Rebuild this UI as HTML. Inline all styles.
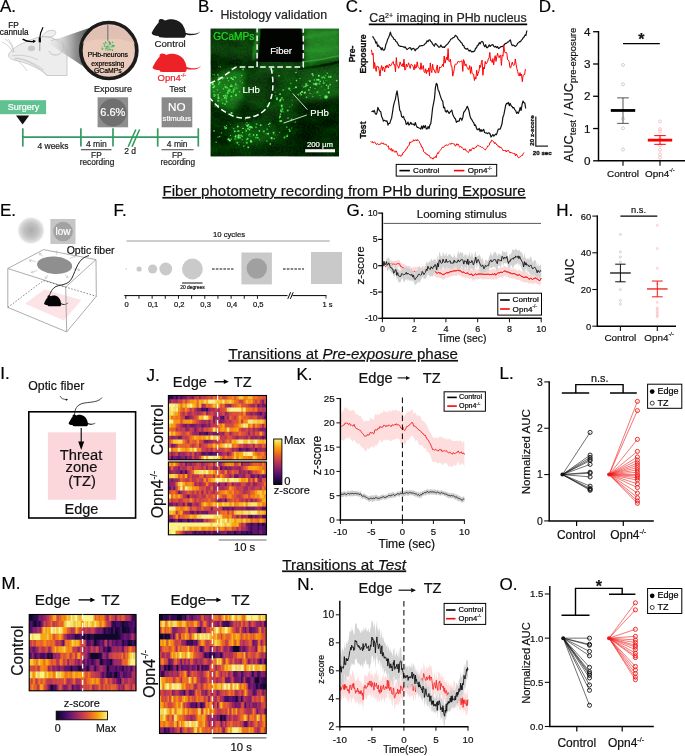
<!DOCTYPE html>
<html><head><meta charset="utf-8"><title>Figure</title>
<style>
html,body{margin:0;padding:0;background:#fff;}
body{width:685px;height:756px;overflow:hidden;}
svg{display:block;font-family:"Liberation Sans",Arial,sans-serif;}
</style></head><body>
<svg width="685" height="756" viewBox="0 0 685 756">
<rect width="685" height="756" fill="#ffffff"/>
<!-- panelA -->
<text x="0.00" y="11.80" font-size="17" stroke="#000" stroke-width="0.2">A.</text>
<defs><linearGradient id="cone" x1="0" y1="0" x2="1" y2="0"><stop offset="0" stop-color="#dcdcdc" stop-opacity="0"/><stop offset="0.3" stop-color="#c4c4c4" stop-opacity="0.7"/><stop offset="0.6" stop-color="#8e8e8e"/><stop offset="1" stop-color="#3c3c3c"/></linearGradient></defs>
<path d="M8.8,54 C12,48 24,42 33,39 C38,36.5 46,36 52,38 C58,40 63,44 67,50 L67,75.5 L47,75.5 C40,68 25,62 14,60 C10,59 8,57 8.8,54 Z" fill="#ededed" stroke="#c6c6c6" stroke-width="0.9" />
<path d="M42,36.5 C44,32 50,29.5 54,30.5 C57,31.5 56,35 52,37 Z" fill="#efefef" stroke="#c4c4c4" stroke-width="0.9" />
<path d="M51,41 C56,38 62,39 63.5,44 C65,50 60,56 54,55 C51,54.5 49.5,52.5 49,51" fill="none" stroke="#c0c0c0" stroke-width="0.9" />
<ellipse cx="31.4" cy="48.3" rx="3.5" ry="2.9" fill="#c8c8c8"/>
<path d="M13,53 C10,47 7,44 2,42" fill="none" stroke="#c6c6c6" stroke-width="0.8" />
<path d="M14,52 C13,46 11,42 8,39" fill="none" stroke="#c6c6c6" stroke-width="0.8" />
<path d="M14,52 C12,46 10,42 5,39" fill="none" stroke="#c6c6c6" stroke-width="0.8" />
<path d="M12,56 C20,54 30,56 38,60" fill="none" stroke="#c6c6c6" stroke-width="0.8" />
<path d="M14,58 C24,58 34,63 44,70" fill="none" stroke="#c6c6c6" stroke-width="0.8" />
<path d="M15,59 C20,62 24,66 27,71" fill="none" stroke="#c6c6c6" stroke-width="0.8" />
<path d="M16,58 C26,60 38,66 47,75" fill="none" stroke="#c6c6c6" stroke-width="0.8" />
<polygon points="47.0,42.5 95.0,26.0 95.0,74.0" fill="url(#cone)" />
<circle cx="108.80" cy="50.50" r="28.00" fill="#e9cabb" stroke="#1c1c1c" stroke-width="3.7" />
<path d="M82.5,44 C90,38 100,40 108,39 C118,38 128,40 135,44 A28,28 0 0 0 82.5,44 Z" fill="#dfc0b2" />
<line x1="107.80" y1="24.50" x2="107.80" y2="40.70" stroke="#7a7a7a" stroke-width="1.2" />
<circle cx="104.75" cy="46.38" r="0.55" fill="#2bb856" />
<circle cx="106.39" cy="46.89" r="0.55" fill="#2bb856" />
<circle cx="109.56" cy="42.26" r="0.55" fill="#2bb856" />
<circle cx="101.96" cy="48.90" r="0.55" fill="#2bb856" />
<circle cx="105.02" cy="43.72" r="0.55" fill="#2bb856" />
<circle cx="114.15" cy="45.74" r="0.55" fill="#2bb856" />
<circle cx="112.17" cy="45.80" r="0.55" fill="#2bb856" />
<circle cx="109.72" cy="43.00" r="0.55" fill="#2bb856" />
<circle cx="109.67" cy="49.17" r="0.55" fill="#2bb856" />
<circle cx="108.29" cy="48.07" r="0.55" fill="#2bb856" />
<circle cx="110.13" cy="42.25" r="0.55" fill="#2bb856" />
<circle cx="111.20" cy="46.78" r="0.55" fill="#2bb856" />
<circle cx="105.54" cy="41.97" r="0.55" fill="#2bb856" />
<circle cx="112.53" cy="45.77" r="0.55" fill="#2bb856" />
<circle cx="110.71" cy="49.26" r="0.55" fill="#2bb856" />
<circle cx="110.66" cy="49.62" r="0.55" fill="#2bb856" />
<circle cx="106.70" cy="48.59" r="0.55" fill="#2bb856" />
<circle cx="107.31" cy="49.75" r="0.55" fill="#2bb856" />
<circle cx="112.70" cy="42.54" r="0.55" fill="#2bb856" />
<circle cx="103.49" cy="43.57" r="0.55" fill="#2bb856" />
<circle cx="113.77" cy="45.45" r="0.55" fill="#2bb856" />
<circle cx="109.57" cy="44.29" r="0.55" fill="#2bb856" />
<circle cx="108.09" cy="45.02" r="0.55" fill="#2bb856" />
<circle cx="106.15" cy="46.73" r="0.55" fill="#2bb856" />
<circle cx="109.04" cy="49.48" r="0.55" fill="#2bb856" />
<circle cx="110.26" cy="49.69" r="0.55" fill="#2bb856" />
<circle cx="112.42" cy="50.22" r="0.55" fill="#2bb856" />
<circle cx="110.12" cy="43.10" r="0.55" fill="#2bb856" />
<circle cx="112.47" cy="50.00" r="0.55" fill="#2bb856" />
<circle cx="113.02" cy="46.59" r="0.55" fill="#2bb856" />
<circle cx="110.65" cy="43.52" r="0.55" fill="#2bb856" />
<circle cx="112.11" cy="46.63" r="0.55" fill="#2bb856" />
<circle cx="105.33" cy="42.25" r="0.55" fill="#2bb856" />
<circle cx="112.39" cy="50.21" r="0.55" fill="#2bb856" />
<circle cx="102.90" cy="48.59" r="0.55" fill="#2bb856" />
<circle cx="106.89" cy="43.00" r="0.55" fill="#2bb856" />
<circle cx="105.44" cy="48.31" r="0.55" fill="#2bb856" />
<circle cx="112.62" cy="42.08" r="0.55" fill="#2bb856" />
<circle cx="109.42" cy="42.09" r="0.55" fill="#2bb856" />
<circle cx="110.71" cy="44.55" r="0.55" fill="#2bb856" />
<circle cx="112.72" cy="50.13" r="0.55" fill="#2bb856" />
<circle cx="108.07" cy="50.29" r="0.55" fill="#2bb856" />
<circle cx="105.64" cy="42.36" r="0.55" fill="#2bb856" />
<circle cx="109.24" cy="41.97" r="0.55" fill="#2bb856" />
<circle cx="104.25" cy="45.21" r="0.55" fill="#2bb856" />
<circle cx="109.37" cy="43.04" r="0.55" fill="#2bb856" />
<circle cx="102.33" cy="49.16" r="0.55" fill="#2bb856" />
<circle cx="105.69" cy="49.94" r="0.55" fill="#2bb856" />
<circle cx="112.92" cy="44.95" r="0.55" fill="#2bb856" />
<circle cx="107.51" cy="46.17" r="0.55" fill="#2bb856" />
<circle cx="109.78" cy="46.82" r="0.55" fill="#2bb856" />
<circle cx="108.73" cy="47.03" r="0.55" fill="#2bb856" />
<circle cx="113.46" cy="46.06" r="0.55" fill="#2bb856" />
<circle cx="107.15" cy="47.89" r="0.55" fill="#2bb856" />
<circle cx="104.75" cy="44.29" r="0.55" fill="#2bb856" />
<circle cx="113.92" cy="46.18" r="0.55" fill="#2bb856" />
<circle cx="108.60" cy="41.80" r="0.55" fill="#2bb856" />
<circle cx="106.95" cy="46.69" r="0.55" fill="#2bb856" />
<circle cx="102.05" cy="47.00" r="0.55" fill="#2bb856" />
<circle cx="109.64" cy="42.22" r="0.55" fill="#2bb856" />
<text x="107.80" y="56.60" font-size="6.85" text-anchor="middle" stroke="#000" stroke-width="0.2">PHb-neurons</text>
<text x="107.80" y="65.60" font-size="6.85" text-anchor="middle" stroke="#000" stroke-width="0.2">expressing</text>
<text x="107.80" y="73.40" font-size="6.85" text-anchor="middle" stroke="#000" stroke-width="0.2">GCaMPs</text>
<path d="M43,27.2 C41,31 40,35 39.8,38" fill="none" stroke="#000" stroke-width="1.2" />
<line x1="39.80" y1="37.60" x2="39.80" y2="42.40" stroke="#000" stroke-width="2.2" />
<line x1="39.80" y1="42.00" x2="39.80" y2="51.00" stroke="#8a8a8a" stroke-width="0.8" />
<path d="M22.6,39.2 C26,41.3 30,42 34,41.5" fill="none" stroke="#000" stroke-width="1.4" />
<polygon points="36.0,41.1 33.0,39.8 33.4,43.0" fill="#000" />
<text x="13.40" y="27.60" font-size="8.2" text-anchor="middle" fill="#111" stroke="#111" stroke-width="0.2">FP</text>
<text x="14.20" y="34.60" font-size="8.2" text-anchor="middle" fill="#111" stroke="#111" stroke-width="0.2">cannula</text>
<path d="M0,14.1 C0.8,12.5 1.2,11.8 1.6,11.1 C2.4,9.6 3.2,8.2 4.2,6.9 C5.2,5.6 6.4,4.4 7.2,3.2 C7,2.2 7,1.6 7.4,1.1 C8,0.3 8.8,0 9.5,0 C10.6,0 11.6,0.3 12.2,0.7 C12.8,1.1 13.2,1.4 13.7,1.6 C15,0.9 16.5,0.4 18,0.3 C19.5,0.2 21,0.3 22.2,0.5 C24.2,0.9 26,1.6 27.5,2.6 C29.4,3.8 30.8,5.3 31.7,6.9 C32.8,8.7 33.5,10.5 33.8,12.2 C33.9,12.7 34,13.2 34,13.7 C35.7,14.4 37.4,14.8 39.1,14.8 C41,14.9 42.8,14.8 44.4,14.5 C46.2,14.1 47.7,13.3 48.9,12.2 C47.8,13.8 46.3,15 44.4,15.5 C42.4,16.1 40.2,16.3 38,16.2 C36.8,16.1 35.6,15.9 34.4,15.5 C34.2,16.7 33.6,17.8 32.8,18.7 L28.5,18.7 L13.7,18.7 C11.7,18.7 9.8,18.6 7.9,18.3 C7.6,17.8 7.2,17.3 6.9,16.9 C5,16.8 3.2,16.5 1.6,15.9 C0.8,15.5 0.2,14.9 0,14.1 Z" fill="#1c1c1c" transform="translate(151.6,19)"/>
<text x="170.10" y="46.60" font-size="9.7" text-anchor="middle" fill="#222" stroke="#222" stroke-width="0.2">Control</text>
<path d="M0,14.1 C0.8,12.5 1.2,11.8 1.6,11.1 C2.4,9.6 3.2,8.2 4.2,6.9 C5.2,5.6 6.4,4.4 7.2,3.2 C7,2.2 7,1.6 7.4,1.1 C8,0.3 8.8,0 9.5,0 C10.6,0 11.6,0.3 12.2,0.7 C12.8,1.1 13.2,1.4 13.7,1.6 C15,0.9 16.5,0.4 18,0.3 C19.5,0.2 21,0.3 22.2,0.5 C24.2,0.9 26,1.6 27.5,2.6 C29.4,3.8 30.8,5.3 31.7,6.9 C32.8,8.7 33.5,10.5 33.8,12.2 C33.9,12.7 34,13.2 34,13.7 C35.7,14.4 37.4,14.8 39.1,14.8 C41,14.9 42.8,14.8 44.4,14.5 C46.2,14.1 47.7,13.3 48.9,12.2 C47.8,13.8 46.3,15 44.4,15.5 C42.4,16.1 40.2,16.3 38,16.2 C36.8,16.1 35.6,15.9 34.4,15.5 C34.2,16.7 33.6,17.8 32.8,18.7 L28.5,18.7 L13.7,18.7 C11.7,18.7 9.8,18.6 7.9,18.3 C7.6,17.8 7.2,17.3 6.9,16.9 C5,16.8 3.2,16.5 1.6,15.9 C0.8,15.5 0.2,14.9 0,14.1 Z" fill="#ec2227" transform="translate(152.5,53.4)"/>
<text x="157.60" y="80.60" font-size="9.5" fill="#ec2227" stroke="#ec2227" stroke-width="0.2">Opn4<tspan dy="-4.0" font-size="5.5" fill-opacity="1">-/-</tspan></text>
<text x="113.00" y="92.20" font-size="9" text-anchor="middle" fill="#222" stroke="#222" stroke-width="0.2">Exposure</text>
<text x="177.50" y="92.20" font-size="9" text-anchor="middle" fill="#222" stroke="#222" stroke-width="0.2">Test</text>
<rect x="0.00" y="100.20" width="46.10" height="14.00" fill="#5fc290" />
<text x="23.40" y="109.90" font-size="9" text-anchor="middle" fill="#fff" stroke="#fff" stroke-width="0.2">Surgery</text>
<polygon points="16.0,115.4 29.2,115.4 22.6,124.4" fill="#111" />
<line x1="22.80" y1="137.20" x2="198.50" y2="137.20" stroke="#349a62" stroke-width="1.7" />
<line x1="22.80" y1="128.30" x2="22.80" y2="146.60" stroke="#349a62" stroke-width="1.7" />
<line x1="80.90" y1="128.30" x2="80.90" y2="146.60" stroke="#349a62" stroke-width="1.7" />
<line x1="113.00" y1="128.30" x2="113.00" y2="146.60" stroke="#349a62" stroke-width="1.7" />
<line x1="157.70" y1="128.30" x2="157.70" y2="146.60" stroke="#349a62" stroke-width="1.7" />
<line x1="198.30" y1="128.30" x2="198.30" y2="146.60" stroke="#349a62" stroke-width="1.7" />
<line x1="128.20" y1="146.80" x2="135.80" y2="129.50" stroke="#349a62" stroke-width="1.6" />
<line x1="132.00" y1="146.80" x2="139.60" y2="129.50" stroke="#349a62" stroke-width="1.6" />
<rect x="97.60" y="97.30" width="30.50" height="30.00" fill="#8e8e8e" />
<circle cx="112.85" cy="112.60" r="13.80" fill="#6f6f6f" />
<text x="112.85" y="115.70" font-size="11" text-anchor="middle" fill="#fff" stroke="#fff" stroke-width="0.2">6.6%</text>
<rect x="161.60" y="97.30" width="30.70" height="30.00" fill="#8a8a8a" />
<text x="176.80" y="111.40" font-size="11.7" text-anchor="middle" fill="#fff" stroke="#fff" stroke-width="0.2">NO</text>
<text x="176.80" y="120.70" font-size="7.8" text-anchor="middle" fill="#fff" stroke="#fff" stroke-width="0.2">stimulus</text>
<text x="53.00" y="148.60" font-size="8.5" text-anchor="middle" fill="#222" stroke="#222" stroke-width="0.2">4 weeks</text>
<text x="96.40" y="146.90" font-size="8.5" text-anchor="middle" fill="#222" stroke="#222" stroke-width="0.2">4 min</text>
<line x1="80.90" y1="149.70" x2="111.50" y2="149.70" stroke="#4a4a4a" stroke-width="1.1" />
<text x="96.40" y="158.00" font-size="8.3" text-anchor="middle" fill="#222" stroke="#222" stroke-width="0.2">FP</text>
<text x="97.00" y="165.20" font-size="8.3" text-anchor="middle" fill="#222" stroke="#222" stroke-width="0.2">recording</text>
<text x="130.20" y="153.80" font-size="8.5" text-anchor="middle" fill="#222" stroke="#222" stroke-width="0.2">2 d</text>
<text x="177.20" y="146.90" font-size="8.5" text-anchor="middle" fill="#222" stroke="#222" stroke-width="0.2">4 min</text>
<line x1="161.50" y1="149.70" x2="193.60" y2="149.70" stroke="#4a4a4a" stroke-width="1.1" />
<text x="177.20" y="158.00" font-size="8.3" text-anchor="middle" fill="#222" stroke="#222" stroke-width="0.2">FP</text>
<text x="177.80" y="165.20" font-size="8.3" text-anchor="middle" fill="#222" stroke="#222" stroke-width="0.2">recording</text>
<!-- panelB -->
<text x="198.00" y="11.80" font-size="17" stroke="#000" stroke-width="0.2">B.</text>
<text x="220.40" y="18.70" font-size="12.4" fill="#222" stroke="#222" stroke-width="0.2">Histology validation</text>
<defs><filter id="tex" color-interpolation-filters="sRGB" x="0" y="0" width="100%" height="100%"><feTurbulence type="fractalNoise" baseFrequency="0.55" numOctaves="2" seed="4" result="n"/><feColorMatrix in="n" type="matrix" values="0 0 0 0 0  1.1 0 0 0 -0.38  0 0 0 0 0  0 0 0 0 1"/></filter><filter id="tex2" color-interpolation-filters="sRGB" x="0" y="0" width="100%" height="100%"><feTurbulence type="fractalNoise" baseFrequency="0.05 0.09" numOctaves="3" seed="9" result="n"/><feColorMatrix in="n" type="matrix" values="0 0 0 0 0  1.3 0 0 0 -0.45  0 0 0 0 0  0 0 0 0 1"/></filter><filter id="b6"><feGaussianBlur stdDeviation="6"/></filter><filter id="b3"><feGaussianBlur stdDeviation="3"/></filter><filter id="b05"><feGaussianBlur stdDeviation="0.45"/></filter><clipPath id="hc"><rect x="210.5" y="28.5" width="128.5" height="128"/></clipPath></defs>
<g clip-path="url(#hc)">
<rect x="210.50" y="28.50" width="128.50" height="128.00" fill="#041904" />
<filter id="b4"><feGaussianBlur stdDeviation="3.5"/></filter><filter id="b2"><feGaussianBlur stdDeviation="1.8"/></filter>
<polygon points="304.0,26.0 342.0,26.0 342.0,60.0 304.0,66.0" fill="#267e26" opacity="0.95" filter="url(#b4)"/>
<polygon points="208.0,26.0 258.0,26.0 258.0,60.0 236.0,62.0 208.0,52.0" fill="#0b320b" opacity="0.9" filter="url(#b4)"/>
<polygon points="258.0,64.0 304.0,64.0 304.0,74.0 258.0,76.0" fill="#174f17" opacity="0.9" filter="url(#b4)"/>
<polygon points="208.0,84.0 222.0,73.0 236.0,69.0 246.0,72.0 244.0,98.0 234.0,110.0 220.0,106.0 208.0,96.0" fill="#1e741e" opacity="0.95" filter="url(#b4)"/>
<polygon points="250.0,72.0 270.0,70.0 271.0,95.0 262.0,108.0 250.0,112.0 246.0,95.0" fill="#0c330c" opacity="0.9" filter="url(#b4)"/>
<polygon points="274.0,72.0 300.0,72.0 298.0,118.0 282.0,126.0 274.0,110.0" fill="#0e3a0e" opacity="0.9" filter="url(#b4)"/>
<polygon points="300.0,70.0 342.0,64.0 342.0,98.0 320.0,102.0 300.0,100.0" fill="#155215" opacity="0.95" filter="url(#b4)"/>
<polygon points="226.0,126.0 246.0,121.0 272.0,122.0 280.0,130.0 276.0,142.0 246.0,146.0 226.0,140.0" fill="#114611" opacity="0.95" filter="url(#b4)"/>
<polygon points="236.0,118.0 262.0,112.0 274.0,100.0 280.0,118.0 262.0,124.0" fill="#0c300c" opacity="0.8" filter="url(#b4)"/>
<polygon points="296.0,108.0 342.0,100.0 342.0,160.0 290.0,160.0" fill="#020e02" opacity="0.95" filter="url(#b4)"/>
<polygon points="208.0,118.0 232.0,126.0 232.0,160.0 208.0,160.0" fill="#031203" opacity="0.85" filter="url(#b4)"/>
<polygon points="208.0,26.0 258.0,26.0 258.0,40.0 208.0,44.0" fill="#0a2c0a" opacity="0.6" filter="url(#b4)"/>
<path d="M302,62 C312,61 328,58.5 342,55" fill="none" stroke="#36a636" stroke-width="1.6" opacity="0.75" filter="url(#b05)"/>
<path d="M298,69 C312,67.5 328,65 342,61.2" fill="none" stroke="#031003" stroke-width="2.4" opacity="0.85" filter="url(#b05)"/>
<path d="M303,38 C314,36 328,33 342,32" fill="none" stroke="#34a034" stroke-width="2" opacity="0.6" filter="url(#b2)"/>
<path d="M304,50 C315,52 330,50 342,46" fill="none" stroke="#2c8c2c" stroke-width="6" opacity="0.5" filter="url(#b2)"/>
<path d="M259,28 C257,40 255,50 253,60" fill="none" stroke="#2a9a2a" stroke-width="3.5" opacity="0.75" filter="url(#b2)"/>
<path d="M208,62 C222,66 232,64 240,60" fill="none" stroke="#031203" stroke-width="4" opacity="0.8" filter="url(#b2)"/>
<path d="M214,112 C228,122 246,124 262,116" fill="none" stroke="#031203" stroke-width="4" opacity="0.7" filter="url(#b2)"/>
<rect x="210.5" y="28.5" width="128.5" height="128" filter="url(#tex2)" opacity="0.2" style="mix-blend-mode:screen"/>
<rect x="210.5" y="28.5" width="128.5" height="128" filter="url(#tex)" opacity="0.22" style="mix-blend-mode:screen"/>
<g filter="url(#b05)">
<circle cx="214.25" cy="86.72" r="1.10" fill="#35c235" />
<circle cx="207.99" cy="88.22" r="0.58" fill="#35c235" />
<circle cx="214.33" cy="74.69" r="0.52" fill="#6cf46c" />
<circle cx="233.51" cy="90.96" r="1.07" fill="#4fe84f" />
<circle cx="218.04" cy="79.92" r="0.77" fill="#3cd63c" />
<circle cx="213.03" cy="74.50" r="0.49" fill="#4fe84f" />
<circle cx="228.62" cy="88.99" r="0.47" fill="#35c235" />
<circle cx="220.08" cy="92.54" r="0.59" fill="#3cd63c" />
<circle cx="218.81" cy="77.46" r="0.91" fill="#35c235" />
<circle cx="220.48" cy="77.92" r="0.84" fill="#4fe84f" />
<circle cx="223.81" cy="77.95" r="0.61" fill="#6cf46c" />
<circle cx="238.14" cy="85.72" r="0.53" fill="#4fe84f" />
<circle cx="231.41" cy="78.15" r="1.12" fill="#4fe84f" />
<circle cx="230.99" cy="100.04" r="0.49" fill="#35c235" />
<circle cx="235.59" cy="83.11" r="0.50" fill="#3cd63c" />
<circle cx="227.36" cy="78.38" r="0.51" fill="#6cf46c" />
<circle cx="235.82" cy="84.70" r="1.10" fill="#3cd63c" />
<circle cx="226.10" cy="87.32" r="0.49" fill="#35c235" />
<circle cx="231.39" cy="92.28" r="0.76" fill="#3cd63c" />
<circle cx="242.38" cy="82.86" r="0.74" fill="#35c235" />
<circle cx="233.46" cy="89.03" r="0.60" fill="#6cf46c" />
<circle cx="243.15" cy="69.29" r="0.86" fill="#4fe84f" />
<circle cx="228.35" cy="90.99" r="1.05" fill="#4fe84f" />
<circle cx="231.21" cy="85.06" r="0.76" fill="#4fe84f" />
<circle cx="227.22" cy="77.63" r="0.66" fill="#4fe84f" />
<circle cx="231.87" cy="86.22" r="0.90" fill="#4fe84f" />
<circle cx="218.56" cy="79.87" r="0.77" fill="#35c235" />
<circle cx="228.57" cy="80.62" r="0.72" fill="#3cd63c" />
<circle cx="223.42" cy="88.81" r="0.88" fill="#3cd63c" />
<circle cx="233.35" cy="92.51" r="0.84" fill="#35c235" />
<circle cx="235.64" cy="77.39" r="0.75" fill="#4fe84f" />
<circle cx="234.91" cy="89.46" r="0.63" fill="#35c235" />
<circle cx="225.22" cy="97.40" r="0.87" fill="#6cf46c" />
<circle cx="204.08" cy="81.92" r="1.13" fill="#3cd63c" />
<circle cx="227.66" cy="93.13" r="1.05" fill="#4fe84f" />
<circle cx="221.95" cy="99.79" r="0.59" fill="#4fe84f" />
<circle cx="234.97" cy="87.12" r="0.62" fill="#4fe84f" />
<circle cx="230.12" cy="90.18" r="0.85" fill="#3cd63c" />
<circle cx="230.39" cy="86.15" r="0.77" fill="#6cf46c" />
<circle cx="217.88" cy="74.80" r="0.86" fill="#3cd63c" />
<circle cx="207.61" cy="75.26" r="0.78" fill="#6cf46c" />
<circle cx="218.53" cy="66.40" r="0.46" fill="#4fe84f" />
<circle cx="210.55" cy="85.30" r="0.67" fill="#4fe84f" />
<circle cx="236.74" cy="88.12" r="0.97" fill="#3cd63c" />
<circle cx="231.72" cy="68.60" r="0.70" fill="#35c235" />
<circle cx="241.78" cy="75.50" r="0.74" fill="#4fe84f" />
<circle cx="234.19" cy="76.90" r="0.89" fill="#35c235" />
<circle cx="224.90" cy="84.78" r="0.50" fill="#4fe84f" />
<circle cx="206.54" cy="66.50" r="1.07" fill="#6cf46c" />
<circle cx="214.04" cy="91.57" r="0.86" fill="#35c235" />
<circle cx="214.34" cy="86.09" r="0.81" fill="#4fe84f" />
<circle cx="224.48" cy="86.87" r="0.47" fill="#4fe84f" />
<circle cx="212.75" cy="84.17" r="1.09" fill="#6cf46c" />
<circle cx="233.32" cy="79.82" r="0.55" fill="#3cd63c" />
<circle cx="210.03" cy="82.61" r="0.69" fill="#35c235" />
<circle cx="218.86" cy="84.06" r="0.73" fill="#6cf46c" />
<circle cx="229.24" cy="91.25" r="1.01" fill="#3cd63c" />
<circle cx="232.90" cy="79.15" r="0.86" fill="#6cf46c" />
<circle cx="227.29" cy="87.75" r="0.70" fill="#4fe84f" />
<circle cx="220.33" cy="66.90" r="0.64" fill="#3cd63c" />
<circle cx="234.23" cy="89.29" r="1.10" fill="#35c235" />
<circle cx="217.40" cy="89.87" r="0.92" fill="#35c235" />
<circle cx="218.29" cy="96.23" r="0.64" fill="#4fe84f" />
<circle cx="222.60" cy="78.74" r="0.70" fill="#4fe84f" />
<circle cx="219.81" cy="78.32" r="0.58" fill="#6cf46c" />
<circle cx="226.42" cy="87.96" r="0.48" fill="#4fe84f" />
<circle cx="213.22" cy="87.35" r="0.91" fill="#6cf46c" />
<circle cx="240.09" cy="81.18" r="0.59" fill="#35c235" />
<circle cx="225.42" cy="95.39" r="0.98" fill="#4fe84f" />
<circle cx="229.30" cy="89.18" r="0.69" fill="#3cd63c" />
<circle cx="217.99" cy="105.91" r="1.08" fill="#4fe84f" />
<circle cx="215.13" cy="106.11" r="0.72" fill="#35c235" />
<circle cx="218.34" cy="100.90" r="1.09" fill="#35c235" />
<circle cx="218.04" cy="94.76" r="0.80" fill="#6cf46c" />
<circle cx="217.82" cy="100.36" r="0.59" fill="#4fe84f" />
<circle cx="231.53" cy="113.04" r="1.14" fill="#6cf46c" />
<circle cx="215.61" cy="95.07" r="0.67" fill="#4fe84f" />
<circle cx="226.26" cy="100.44" r="0.76" fill="#35c235" />
<circle cx="228.95" cy="89.73" r="0.47" fill="#4fe84f" />
<circle cx="226.26" cy="98.83" r="0.82" fill="#3cd63c" />
<circle cx="198.57" cy="103.51" r="1.08" fill="#35c235" />
<circle cx="235.90" cy="95.20" r="1.11" fill="#4fe84f" />
<circle cx="228.38" cy="90.26" r="0.84" fill="#3cd63c" />
<circle cx="214.27" cy="96.02" r="0.84" fill="#6cf46c" />
<circle cx="219.50" cy="82.23" r="1.06" fill="#3cd63c" />
<circle cx="226.67" cy="101.74" r="0.83" fill="#6cf46c" />
<circle cx="223.68" cy="95.86" r="0.83" fill="#4fe84f" />
<circle cx="226.65" cy="96.95" r="1.13" fill="#35c235" />
<circle cx="207.11" cy="92.07" r="0.54" fill="#4fe84f" />
<circle cx="227.04" cy="95.52" r="0.83" fill="#35c235" />
<circle cx="239.36" cy="91.83" r="0.73" fill="#3cd63c" />
<circle cx="224.30" cy="98.63" r="0.75" fill="#35c235" />
<circle cx="224.59" cy="97.46" r="0.74" fill="#4fe84f" />
<circle cx="231.38" cy="96.28" r="1.00" fill="#4fe84f" />
<circle cx="232.08" cy="98.93" r="0.46" fill="#6cf46c" />
<circle cx="225.05" cy="104.07" r="0.88" fill="#4fe84f" />
<circle cx="218.49" cy="98.02" r="1.05" fill="#6cf46c" />
<circle cx="225.74" cy="87.04" r="1.07" fill="#4fe84f" />
<circle cx="222.72" cy="103.23" r="0.82" fill="#3cd63c" />
<circle cx="214.03" cy="94.58" r="0.82" fill="#3cd63c" />
<circle cx="214.07" cy="130.83" r="0.88" fill="#3cd63c" />
<circle cx="246.79" cy="142.80" r="1.02" fill="#3cd63c" />
<circle cx="238.54" cy="137.78" r="1.10" fill="#3cd63c" />
<circle cx="245.82" cy="129.12" r="0.52" fill="#3cd63c" />
<circle cx="248.51" cy="134.91" r="0.72" fill="#35c235" />
<circle cx="252.06" cy="127.54" r="1.00" fill="#3cd63c" />
<circle cx="250.69" cy="141.04" r="1.01" fill="#4fe84f" />
<circle cx="251.17" cy="141.66" r="1.09" fill="#6cf46c" />
<circle cx="257.86" cy="137.72" r="0.98" fill="#3cd63c" />
<circle cx="249.83" cy="126.49" r="0.47" fill="#35c235" />
<circle cx="250.03" cy="136.05" r="0.59" fill="#3cd63c" />
<circle cx="279.62" cy="132.16" r="0.52" fill="#4fe84f" />
<circle cx="259.66" cy="139.78" r="0.50" fill="#4fe84f" />
<circle cx="235.88" cy="138.96" r="0.81" fill="#35c235" />
<circle cx="247.74" cy="138.62" r="0.89" fill="#4fe84f" />
<circle cx="249.51" cy="129.85" r="0.77" fill="#6cf46c" />
<circle cx="235.49" cy="135.22" r="0.57" fill="#4fe84f" />
<circle cx="241.07" cy="135.26" r="1.04" fill="#35c235" />
<circle cx="234.80" cy="131.34" r="0.86" fill="#6cf46c" />
<circle cx="248.07" cy="128.63" r="1.09" fill="#3cd63c" />
<circle cx="250.29" cy="127.38" r="1.08" fill="#6cf46c" />
<circle cx="246.88" cy="122.85" r="0.73" fill="#3cd63c" />
<circle cx="256.89" cy="135.35" r="0.78" fill="#4fe84f" />
<circle cx="280.34" cy="121.15" r="1.08" fill="#4fe84f" />
<circle cx="248.21" cy="147.35" r="0.92" fill="#6cf46c" />
<circle cx="247.37" cy="138.99" r="0.58" fill="#4fe84f" />
<circle cx="192.86" cy="149.36" r="0.90" fill="#4fe84f" />
<circle cx="247.22" cy="116.25" r="0.47" fill="#4fe84f" />
<circle cx="243.15" cy="128.39" r="0.73" fill="#4fe84f" />
<circle cx="245.60" cy="124.35" r="0.46" fill="#6cf46c" />
<circle cx="243.81" cy="146.04" r="0.84" fill="#35c235" />
<circle cx="263.78" cy="131.41" r="1.15" fill="#35c235" />
<circle cx="246.27" cy="130.78" r="0.87" fill="#4fe84f" />
<circle cx="216.14" cy="142.28" r="0.72" fill="#3cd63c" />
<circle cx="256.01" cy="127.10" r="0.87" fill="#35c235" />
<circle cx="259.35" cy="130.89" r="0.82" fill="#6cf46c" />
<circle cx="235.50" cy="136.68" r="0.91" fill="#6cf46c" />
<circle cx="230.62" cy="124.47" r="0.47" fill="#3cd63c" />
<circle cx="225.05" cy="128.64" r="0.74" fill="#35c235" />
<circle cx="256.83" cy="134.70" r="0.73" fill="#6cf46c" />
<circle cx="274.34" cy="138.81" r="0.75" fill="#35c235" />
<circle cx="243.85" cy="143.07" r="0.48" fill="#4fe84f" />
<circle cx="267.07" cy="129.31" r="0.78" fill="#3cd63c" />
<circle cx="237.86" cy="131.20" r="0.89" fill="#35c235" />
<circle cx="266.87" cy="141.05" r="0.70" fill="#3cd63c" />
<circle cx="255.98" cy="137.57" r="0.92" fill="#35c235" />
<circle cx="226.06" cy="127.92" r="0.93" fill="#6cf46c" />
<circle cx="247.35" cy="125.73" r="1.15" fill="#6cf46c" />
<circle cx="242.86" cy="128.59" r="0.53" fill="#6cf46c" />
<circle cx="248.67" cy="124.79" r="0.70" fill="#6cf46c" />
<circle cx="224.66" cy="126.86" r="0.94" fill="#3cd63c" />
<circle cx="226.51" cy="125.55" r="0.58" fill="#3cd63c" />
<circle cx="221.31" cy="132.88" r="0.59" fill="#4fe84f" />
<circle cx="242.51" cy="132.40" r="0.63" fill="#4fe84f" />
<circle cx="238.82" cy="131.05" r="0.83" fill="#4fe84f" />
<circle cx="245.25" cy="119.75" r="0.56" fill="#3cd63c" />
<circle cx="233.75" cy="128.75" r="0.78" fill="#3cd63c" />
<circle cx="234.41" cy="138.96" r="0.54" fill="#4fe84f" />
<circle cx="249.48" cy="126.82" r="1.03" fill="#3cd63c" />
<circle cx="219.69" cy="136.41" r="0.72" fill="#3cd63c" />
<circle cx="228.56" cy="139.41" r="1.14" fill="#6cf46c" />
<circle cx="237.31" cy="142.79" r="1.03" fill="#3cd63c" />
<circle cx="230.54" cy="135.53" r="0.52" fill="#6cf46c" />
<circle cx="249.72" cy="134.18" r="0.84" fill="#35c235" />
<circle cx="250.94" cy="126.86" r="1.03" fill="#4fe84f" />
<circle cx="253.59" cy="134.91" r="0.91" fill="#4fe84f" />
<circle cx="237.84" cy="126.40" r="0.98" fill="#6cf46c" />
<circle cx="242.22" cy="136.26" r="0.70" fill="#6cf46c" />
<circle cx="238.79" cy="135.23" r="0.95" fill="#6cf46c" />
<circle cx="217.99" cy="137.11" r="0.66" fill="#6cf46c" />
<circle cx="270.26" cy="143.92" r="0.96" fill="#3cd63c" />
<circle cx="275.78" cy="135.12" r="0.47" fill="#35c235" />
<circle cx="260.63" cy="125.11" r="0.97" fill="#6cf46c" />
<circle cx="269.75" cy="123.56" r="1.04" fill="#3cd63c" />
<circle cx="271.60" cy="138.16" r="1.07" fill="#6cf46c" />
<circle cx="269.29" cy="126.47" r="0.49" fill="#3cd63c" />
<circle cx="256.60" cy="124.21" r="0.91" fill="#35c235" />
<circle cx="273.56" cy="132.66" r="1.00" fill="#4fe84f" />
<circle cx="266.06" cy="133.72" r="0.52" fill="#6cf46c" />
<circle cx="273.87" cy="133.89" r="0.55" fill="#35c235" />
<circle cx="268.10" cy="133.81" r="0.99" fill="#6cf46c" />
<circle cx="268.44" cy="124.61" r="0.69" fill="#6cf46c" />
<circle cx="296.47" cy="80.58" r="0.83" fill="#4fe84f" />
<circle cx="295.99" cy="72.56" r="0.74" fill="#6cf46c" />
<circle cx="322.10" cy="77.62" r="1.03" fill="#35c235" />
<circle cx="326.53" cy="85.30" r="0.82" fill="#4fe84f" />
<circle cx="310.26" cy="80.87" r="0.74" fill="#3cd63c" />
<circle cx="305.25" cy="92.28" r="0.89" fill="#3cd63c" />
<circle cx="298.33" cy="94.45" r="0.82" fill="#6cf46c" />
<circle cx="310.35" cy="87.52" r="0.67" fill="#4fe84f" />
<circle cx="302.01" cy="91.95" r="1.09" fill="#4fe84f" />
<circle cx="305.06" cy="86.66" r="0.79" fill="#4fe84f" />
<circle cx="301.04" cy="92.41" r="0.70" fill="#3cd63c" />
<circle cx="290.74" cy="83.22" r="0.81" fill="#35c235" />
<circle cx="310.03" cy="93.37" r="0.57" fill="#6cf46c" />
<circle cx="278.97" cy="75.72" r="0.84" fill="#6cf46c" />
<circle cx="289.24" cy="88.70" r="1.12" fill="#4fe84f" />
<circle cx="294.04" cy="88.55" r="0.48" fill="#3cd63c" />
<circle cx="309.88" cy="81.27" r="0.82" fill="#6cf46c" />
<circle cx="306.26" cy="85.58" r="1.10" fill="#4fe84f" />
<circle cx="328.80" cy="76.88" r="0.77" fill="#3cd63c" />
<circle cx="300.13" cy="78.43" r="0.56" fill="#3cd63c" />
<circle cx="306.20" cy="84.01" r="1.09" fill="#3cd63c" />
<circle cx="272.90" cy="70.77" r="0.64" fill="#4fe84f" />
<circle cx="320.64" cy="98.02" r="0.45" fill="#3cd63c" />
<circle cx="307.83" cy="85.31" r="0.64" fill="#4fe84f" />
<circle cx="323.46" cy="80.92" r="0.51" fill="#6cf46c" />
<circle cx="314.99" cy="88.55" r="0.59" fill="#4fe84f" />
<circle cx="308.30" cy="80.39" r="0.48" fill="#35c235" />
<circle cx="295.98" cy="87.32" r="1.03" fill="#6cf46c" />
<circle cx="298.58" cy="94.72" r="0.84" fill="#35c235" />
<circle cx="302.11" cy="85.67" r="0.50" fill="#3cd63c" />
<circle cx="317.30" cy="92.45" r="0.77" fill="#4fe84f" />
<circle cx="303.60" cy="87.07" r="0.71" fill="#35c235" />
<circle cx="306.58" cy="97.25" r="0.77" fill="#4fe84f" />
<circle cx="323.61" cy="77.08" r="0.95" fill="#3cd63c" />
<circle cx="301.20" cy="94.77" r="0.83" fill="#6cf46c" />
<circle cx="330.08" cy="84.57" r="0.84" fill="#4fe84f" />
<circle cx="304.58" cy="92.81" r="0.96" fill="#6cf46c" />
<circle cx="300.43" cy="93.36" r="0.78" fill="#6cf46c" />
<circle cx="290.53" cy="90.32" r="0.52" fill="#4fe84f" />
<circle cx="319.92" cy="95.47" r="0.58" fill="#3cd63c" />
<circle cx="308.92" cy="89.90" r="0.86" fill="#4fe84f" />
<circle cx="323.74" cy="83.09" r="1.14" fill="#35c235" />
<circle cx="319.28" cy="83.55" r="1.09" fill="#35c235" />
<circle cx="326.12" cy="80.25" r="0.59" fill="#3cd63c" />
<circle cx="325.58" cy="75.59" r="0.68" fill="#35c235" />
<circle cx="312.31" cy="73.90" r="0.88" fill="#6cf46c" />
<circle cx="336.74" cy="80.56" r="0.91" fill="#4fe84f" />
<circle cx="321.63" cy="86.65" r="0.66" fill="#35c235" />
<circle cx="328.42" cy="86.34" r="0.81" fill="#6cf46c" />
<circle cx="327.26" cy="73.18" r="0.56" fill="#6cf46c" />
<circle cx="314.52" cy="80.00" r="0.80" fill="#3cd63c" />
<circle cx="317.01" cy="79.85" r="1.10" fill="#3cd63c" />
<circle cx="320.22" cy="81.31" r="0.91" fill="#4fe84f" />
<circle cx="328.28" cy="88.20" r="0.74" fill="#6cf46c" />
<circle cx="312.78" cy="96.55" r="0.70" fill="#35c235" />
<circle cx="328.84" cy="76.70" r="0.96" fill="#3cd63c" />
<circle cx="330.66" cy="76.89" r="0.84" fill="#6cf46c" />
<circle cx="328.81" cy="92.39" r="1.08" fill="#6cf46c" />
<circle cx="318.55" cy="79.81" r="1.03" fill="#6cf46c" />
<circle cx="318.83" cy="75.72" r="0.98" fill="#6cf46c" />
<circle cx="324.62" cy="77.97" r="0.83" fill="#4fe84f" />
<circle cx="313.81" cy="84.07" r="1.00" fill="#3cd63c" />
<circle cx="317.56" cy="92.04" r="0.97" fill="#35c235" />
<circle cx="313.00" cy="75.18" r="0.98" fill="#3cd63c" />
<circle cx="324.94" cy="89.69" r="0.55" fill="#35c235" />
<circle cx="328.31" cy="86.97" r="0.69" fill="#3cd63c" />
<circle cx="238.93" cy="144.87" r="0.68" fill="#4fe84f" />
<circle cx="237.00" cy="135.80" r="0.73" fill="#35c235" />
<circle cx="231.25" cy="139.01" r="0.74" fill="#35c235" />
<circle cx="240.12" cy="137.54" r="1.15" fill="#35c235" />
<circle cx="242.18" cy="139.66" r="0.53" fill="#6cf46c" />
<circle cx="229.91" cy="140.50" r="1.08" fill="#6cf46c" />
<circle cx="246.72" cy="139.62" r="0.88" fill="#35c235" />
<circle cx="238.54" cy="136.98" r="0.98" fill="#6cf46c" />
<circle cx="292.18" cy="104.78" r="0.62" fill="#35c235" />
<circle cx="284.53" cy="137.48" r="1.13" fill="#35c235" />
<circle cx="281.76" cy="106.96" r="0.62" fill="#6cf46c" />
<circle cx="276.92" cy="99.00" r="1.07" fill="#6cf46c" />
<circle cx="287.78" cy="110.53" r="1.01" fill="#3cd63c" />
<circle cx="280.66" cy="109.89" r="0.54" fill="#4fe84f" />
<circle cx="291.80" cy="127.88" r="0.54" fill="#35c235" />
<circle cx="288.04" cy="118.03" r="0.66" fill="#6cf46c" />
<circle cx="286.74" cy="127.13" r="0.77" fill="#35c235" />
<circle cx="289.23" cy="129.43" r="0.61" fill="#6cf46c" />
<circle cx="295.33" cy="121.99" r="0.67" fill="#35c235" />
<circle cx="289.81" cy="131.02" r="0.99" fill="#3cd63c" />
<circle cx="287.13" cy="136.17" r="0.93" fill="#4fe84f" />
<circle cx="287.46" cy="135.25" r="0.70" fill="#35c235" />
<circle cx="291.63" cy="119.37" r="0.94" fill="#3cd63c" />
<circle cx="280.12" cy="116.54" r="1.11" fill="#4fe84f" />
<circle cx="281.29" cy="111.36" r="1.02" fill="#6cf46c" />
<circle cx="289.83" cy="106.91" r="0.54" fill="#35c235" />
<circle cx="281.17" cy="120.97" r="1.05" fill="#4fe84f" />
<circle cx="283.12" cy="111.84" r="0.58" fill="#3cd63c" />
<circle cx="279.48" cy="117.93" r="0.64" fill="#4fe84f" />
<circle cx="280.71" cy="114.29" r="0.66" fill="#3cd63c" />
<circle cx="280.08" cy="94.14" r="0.90" fill="#4fe84f" />
<circle cx="280.14" cy="100.78" r="1.09" fill="#4fe84f" />
<circle cx="280.57" cy="99.51" r="0.87" fill="#6cf46c" />
<circle cx="277.10" cy="97.96" r="0.85" fill="#3cd63c" />
<circle cx="280.23" cy="113.76" r="0.62" fill="#6cf46c" />
<circle cx="281.88" cy="97.98" r="1.00" fill="#3cd63c" />
<circle cx="283.25" cy="99.83" r="0.77" fill="#35c235" />
<circle cx="292.12" cy="100.30" r="0.49" fill="#4fe84f" />
<circle cx="275.52" cy="95.83" r="0.70" fill="#35c235" />
<circle cx="283.19" cy="90.09" r="0.80" fill="#3cd63c" />
<circle cx="275.15" cy="91.98" r="0.53" fill="#35c235" />
<circle cx="282.48" cy="109.01" r="0.99" fill="#3cd63c" />
<circle cx="281.63" cy="110.51" r="1.05" fill="#35c235" />
<circle cx="281.77" cy="105.64" r="1.13" fill="#4fe84f" />
<circle cx="326.00" cy="97.00" r="1.80" fill="#5ff05f" />
<circle cx="316.00" cy="84.00" r="1.50" fill="#5ff05f" />
</g>
<polygon points="261.5,28.0 300.6,28.0 303.0,40.0 303.5,57.0 301.5,62.0 258.0,62.0" fill="#020402" />
<path d="M257.1,27 L257.1,67 L303.3,67 L303.3,27" fill="none" stroke="#fff" stroke-width="1.5" stroke-dasharray="5.6 3"/>
<path d="M210,83.2 L219.5,79 L230.4,71.2 C232.5,69.4 234,67.6 236.5,67 L256,67 M271,68 C273,76 273.2,84 272.6,90.6 C271.5,98 270,101.5 268.8,104.3 C267,108 265,110 263.1,111.5 C260,114 257,115.5 254.6,116.2 C250,117.6 247,118.2 243.2,118.1 C240,117.8 237,117.4 234.7,116.7 C229,114.5 224,111.5 219.5,108.1 C216,105 213,101.5 210,98.2" fill="none" stroke="#fff" stroke-width="1.5" stroke-dasharray="5.6 3"/>
</g>
<text x="213.20" y="39.70" font-size="10.15" fill="#20d820" stroke="#20d820" stroke-width="0.25">GCaMPs</text>
<text x="281.10" y="53.70" font-size="9.5" text-anchor="middle" fill="#fff" stroke="#fff" stroke-width="0.2">Fiber</text>
<text x="251.20" y="93.00" font-size="9.5" text-anchor="middle" fill="#fff" stroke="#fff" stroke-width="0.2">LHb</text>
<text x="310.30" y="116.10" font-size="9.5" fill="#fff" stroke="#fff" stroke-width="0.2">PHb</text>
<line x1="292.80" y1="93.50" x2="307.50" y2="109.80" stroke="#fff" stroke-width="0.8" />
<line x1="283.50" y1="123.10" x2="306.80" y2="115.00" stroke="#fff" stroke-width="0.8" />
<rect x="305.20" y="149.20" width="29.80" height="3.10" fill="#fff" />
<text x="320.00" y="147.20" font-size="7.8" text-anchor="middle" fill="#fff" stroke="#fff" stroke-width="0.2">200 µm</text>
<!-- panelC -->
<text x="345.80" y="11.80" font-size="17" stroke="#000" stroke-width="0.2">C.</text>
<text x="369.20" y="21.90" font-size="12.4" fill="#222" stroke="#222" stroke-width="0.2">Ca<tspan dy="-4.2" font-size="7">2+</tspan><tspan dy="4.2"> imaging in PHb nucleus</tspan></text>
<line x1="368.80" y1="24.30" x2="527.20" y2="24.30" stroke="#000" stroke-width="1.8" />
<polyline points="372.1,37.0 373.0,36.8 373.9,38.6 374.9,39.8 375.8,43.2 376.7,42.0 377.6,46.4 378.5,45.2 379.4,47.0 380.4,47.4 381.3,49.8 382.2,47.7 383.1,50.1 384.0,50.1 384.9,48.8 385.9,44.3 386.8,42.4 387.7,39.2 388.6,37.4 389.5,35.2 390.4,32.1 391.3,35.4 392.3,36.6 393.2,37.7 394.1,39.5 395.0,39.6 395.9,41.4 396.8,41.9 397.8,43.7 398.7,45.6 399.6,45.8 400.5,46.5 401.4,46.4 402.3,46.5 403.2,46.8 404.2,47.6 405.1,46.8 406.0,48.1 406.9,49.5 407.8,48.9 408.7,48.2 409.7,47.7 410.6,47.9 411.5,50.0 412.4,48.7 413.3,48.3 414.2,49.0 415.2,50.8 416.1,49.1 417.0,48.9 417.9,48.1 418.8,47.0 419.7,45.8 420.6,45.9 421.6,45.5 422.5,45.6 423.4,45.3 424.3,44.8 425.2,43.5 426.1,43.1 427.1,40.8 428.0,41.6 428.9,40.0 429.8,39.9 430.7,41.5 431.6,41.9 432.5,43.9 433.5,45.1 434.4,46.1 435.3,43.5 436.2,44.0 437.1,45.2 438.0,46.2 439.0,47.3 439.9,47.0 440.8,45.0 441.7,46.5 442.6,47.4 443.5,46.9 444.5,47.4 445.4,46.2 446.3,45.1 447.2,44.3 448.1,43.3 449.0,42.0 449.9,40.8 450.9,39.0 451.8,38.9 452.7,37.8 453.6,37.7 454.5,36.9 455.4,35.3 456.4,36.1 457.3,37.1 458.2,39.2 459.1,40.1 460.0,41.0 460.9,42.4 461.9,43.0 462.8,45.3 463.7,45.5 464.6,48.0 465.5,48.5 466.4,49.2 467.3,48.3 468.3,49.9 469.2,51.0 470.1,50.1 471.0,51.2 471.9,52.0 472.8,51.4 473.8,51.6 474.7,50.8 475.6,48.2 476.5,48.0 477.4,45.3 478.3,45.2 479.2,42.6 480.2,43.8 481.1,41.9 482.0,41.4 482.9,42.0 483.8,44.9 484.7,46.7 485.7,44.7 486.6,47.6 487.5,47.7 488.4,46.4 489.3,44.9 490.2,46.4 491.2,45.3 492.1,44.8 493.0,44.7 493.9,46.6 494.8,47.1 495.7,46.3 496.6,47.6 497.6,46.6 498.5,48.6 499.4,48.0 500.3,47.1 501.2,46.5 502.1,46.7 503.1,45.9 504.0,45.0 504.9,44.0 505.8,43.3 506.7,43.2 507.6,42.2 508.5,42.0 509.5,40.7 510.4,39.8 511.3,43.7 512.2,45.6 513.1,45.0 514.0,45.5 515.0,46.4 515.9,45.9 516.8,45.1 517.7,43.2 518.6,42.8 519.5,41.5 520.5,41.7 521.4,40.1 522.3,39.4 523.2,37.5 524.1,37.1 525.0,35.0 525.9,35.4 526.9,30.5" fill="none" stroke="#111" stroke-width="1.2" stroke-linejoin="round" />
<polyline points="371.5,49.8 372.3,55.1 373.1,53.1 373.9,68.6 374.6,62.5 375.4,67.5 376.2,71.4 376.9,66.0 377.7,66.5 378.5,66.8 379.3,71.0 380.0,76.1 380.8,69.2 381.6,65.6 382.4,70.5 383.1,66.9 383.9,68.5 384.7,71.9 385.5,65.9 386.2,67.9 387.0,65.0 387.8,67.0 388.5,68.0 389.3,64.0 390.1,65.7 390.9,65.8 391.6,64.3 392.4,62.5 393.2,61.5 394.0,65.1 394.7,64.5 395.5,71.8 396.3,57.6 397.0,65.0 397.8,65.5 398.6,68.3 399.4,65.8 400.1,61.9 400.9,64.5 401.7,66.2 402.5,63.7 403.2,67.0 404.0,59.2 404.8,70.1 405.6,69.4 406.3,64.0 407.1,66.9 407.9,65.3 408.6,62.8 409.4,65.6 410.2,68.4 411.0,64.3 411.7,64.4 412.5,65.4 413.3,67.1 414.1,70.0 414.8,64.5 415.6,68.3 416.4,67.7 417.2,61.8 417.9,66.4 418.7,67.6 419.5,68.2 420.2,69.6 421.0,62.8 421.8,69.4 422.6,67.5 423.3,65.5 424.1,71.7 424.9,72.7 425.7,68.8 426.4,73.6 427.2,70.2 428.0,71.6 428.8,67.9 429.5,75.8 430.3,62.9 431.1,70.4 431.8,72.6 432.6,64.2 433.4,69.5 434.2,69.7 434.9,72.2 435.7,73.2 436.5,68.1 437.3,65.0 438.0,73.0 438.8,72.4 439.6,66.8 440.3,68.0 441.1,67.0 441.9,66.4 442.7,64.1 443.4,66.6 444.2,56.0 445.0,63.2 445.8,60.0 446.5,57.1 447.3,60.1 448.1,48.6 448.9,61.4 449.6,61.4 450.4,59.2 451.2,66.2 451.9,66.3 452.7,76.1 453.5,73.3 454.3,68.4 455.0,64.4 455.8,64.1 456.6,64.3 457.4,63.0 458.1,61.3 458.9,61.6 459.7,62.0 460.5,61.5 461.2,61.2 462.0,60.8 462.8,71.4 463.5,59.6 464.3,61.2 465.1,65.9 465.9,63.9 466.6,66.4 467.4,67.7 468.2,69.4 469.0,69.1 469.7,65.6 470.5,73.6 471.3,66.7 472.1,73.4 472.8,74.0 473.6,74.1 474.4,80.5 475.1,76.8 475.9,79.1 476.7,70.2 477.5,75.8 478.2,73.4 479.0,71.0 479.8,65.0 480.6,67.4 481.3,62.6 482.1,60.1 482.9,75.3 483.6,67.4 484.4,69.0 485.2,61.4 486.0,63.9 486.7,63.0 487.5,61.8 488.3,59.1 489.1,57.7 489.8,52.4 490.6,60.7 491.4,60.3 492.2,62.6 492.9,58.6 493.7,64.8 494.5,58.4 495.2,55.6 496.0,61.4 496.8,56.4 497.6,53.3 498.3,56.6 499.1,57.8 499.9,55.4 500.7,55.4 501.4,65.5 502.2,54.9 503.0,56.2 503.8,44.9 504.5,51.2 505.3,53.1 506.1,52.2 506.8,53.3 507.6,59.7 508.4,60.1 509.2,61.9 509.9,67.5 510.7,67.9 511.5,64.6 512.3,62.1 513.0,64.9 513.8,65.6 514.6,64.8 515.3,58.9 516.1,64.3 516.9,68.6 517.7,71.5 518.4,74.6 519.2,76.1 520.0,72.6 520.8,76.0 521.5,74.1 522.3,81.7 523.1,75.3 523.9,74.8 524.6,74.7 525.4,69.1" fill="none" stroke="#f00" stroke-width="1.0" stroke-linejoin="round" />
<polyline points="371.5,111.8 372.4,111.1 373.4,111.8 374.3,110.3 375.2,113.4 376.1,114.4 377.0,112.7 377.9,107.4 378.8,109.7 379.7,111.0 380.7,111.7 381.6,116.4 382.5,118.2 383.4,121.1 384.3,120.3 385.2,120.6 386.1,121.3 387.0,120.9 388.0,125.1 388.9,123.3 389.8,123.3 390.7,120.3 391.6,118.2 392.5,112.3 393.4,106.3 394.3,102.4 395.2,99.9 396.2,94.5 397.1,90.9 398.0,97.0 398.9,103.6 399.8,110.5 400.7,111.7 401.6,116.4 402.5,117.3 403.5,116.3 404.4,119.4 405.3,120.4 406.2,124.4 407.1,123.9 408.0,122.1 408.9,125.2 409.8,124.1 410.8,122.4 411.7,124.1 412.6,124.2 413.5,124.0 414.4,125.3 415.3,122.5 416.2,125.3 417.1,127.3 418.1,127.4 419.0,128.0 419.9,128.3 420.8,129.1 421.7,126.0 422.6,128.9 423.5,125.7 424.4,127.6 425.4,125.6 426.3,129.0 427.2,128.9 428.1,126.5 429.0,128.6 429.9,125.0 430.8,123.4 431.7,116.5 432.6,108.1 433.6,103.2 434.5,98.3 435.4,87.6 436.3,83.3 437.2,84.4 438.1,90.0 439.0,91.3 439.9,94.6 440.9,97.6 441.8,100.1 442.7,101.0 443.6,107.7 444.5,107.2 445.4,111.3 446.3,112.1 447.2,110.4 448.2,111.9 449.1,113.5 450.0,112.1 450.9,111.2 451.8,110.1 452.7,114.2 453.6,116.3 454.5,118.0 455.5,119.0 456.4,122.4 457.3,121.4 458.2,121.1 459.1,121.2 460.0,118.3 460.9,118.1 461.8,120.4 462.8,117.6 463.7,112.3 464.6,111.5 465.5,109.9 466.4,108.3 467.3,106.3 468.2,108.5 469.1,111.3 470.0,116.1 471.0,118.7 471.9,119.8 472.8,121.6 473.7,122.6 474.6,125.5 475.5,125.0 476.4,127.9 477.3,129.6 478.3,129.6 479.2,128.4 480.1,131.6 481.0,129.5 481.9,131.4 482.8,130.3 483.7,129.5 484.6,132.5 485.6,133.0 486.5,132.9 487.4,133.7 488.3,132.8 489.2,133.0 490.1,134.0 491.0,137.0 491.9,135.9 492.9,134.5 493.8,136.2 494.7,135.1 495.6,134.1 496.5,134.7 497.4,131.7 498.3,129.1 499.2,129.0 500.2,129.1 501.1,126.5 502.0,123.8 502.9,117.2 503.8,114.9 504.7,110.4 505.6,105.6 506.5,103.4 507.4,103.6 508.4,102.5 509.3,105.7 510.2,103.4 511.1,105.8 512.0,106.4 512.9,107.9 513.8,107.6 514.7,109.6 515.7,110.6 516.6,113.3 517.5,112.1 518.4,113.3 519.3,110.8 520.2,107.4 521.1,110.5 522.0,104.9 523.0,101.0 523.9,102.7 524.8,102.8 525.7,108.5" fill="none" stroke="#111" stroke-width="1.2" stroke-linejoin="round" />
<polyline points="370.7,141.6 371.4,142.3 372.2,141.4 373.0,143.1 373.7,142.5 374.5,141.9 375.3,142.9 376.0,144.2 376.8,144.3 377.6,143.5 378.4,144.9 379.1,144.2 379.9,144.4 380.7,144.1 381.4,142.7 382.2,143.7 383.0,142.8 383.8,144.3 384.5,144.2 385.3,144.3 386.1,144.2 386.8,145.6 387.6,146.4 388.4,145.9 389.1,149.3 389.9,148.5 390.7,150.2 391.5,148.6 392.2,151.4 393.0,149.6 393.8,150.7 394.5,152.1 395.3,152.2 396.1,150.8 396.8,152.3 397.6,154.4 398.4,155.9 399.2,155.5 399.9,155.1 400.7,156.4 401.5,155.1 402.2,155.2 403.0,152.6 403.8,152.5 404.5,151.2 405.3,150.8 406.1,148.8 406.9,148.8 407.6,146.6 408.4,146.2 409.2,145.0 409.9,141.8 410.7,142.7 411.5,142.2 412.3,141.1 413.0,141.4 413.8,139.7 414.6,140.8 415.3,140.3 416.1,139.7 416.9,141.0 417.6,139.5 418.4,140.6 419.2,141.4 420.0,143.6 420.7,144.0 421.5,147.1 422.3,147.0 423.0,149.0 423.8,151.9 424.6,152.6 425.3,152.6 426.1,154.3 426.9,153.8 427.7,155.2 428.4,155.3 429.2,155.3 430.0,157.1 430.7,158.2 431.5,157.9 432.3,158.0 433.0,159.2 433.8,157.5 434.6,157.9 435.4,156.4 436.1,157.7 436.9,154.6 437.7,152.7 438.4,153.5 439.2,151.6 440.0,150.6 440.8,149.7 441.5,148.6 442.3,147.1 443.1,147.8 443.8,147.0 444.6,145.8 445.4,145.7 446.1,144.7 446.9,145.3 447.7,145.3 448.5,144.8 449.2,144.4 450.0,143.4 450.8,144.4 451.5,143.1 452.3,143.5 453.1,143.5 453.8,144.1 454.6,144.1 455.4,146.2 456.2,145.1 456.9,143.7 457.7,145.0 458.5,144.4 459.2,146.5 460.0,147.3 460.8,146.3 461.5,147.7 462.3,147.6 463.1,148.6 463.9,150.1 464.6,149.0 465.4,148.8 466.2,150.9 466.9,151.2 467.7,151.9 468.5,152.6 469.3,150.8 470.0,149.2 470.8,151.1 471.6,149.4 472.3,148.3 473.1,147.8 473.9,149.1 474.6,147.9 475.4,147.4 476.2,147.4 477.0,145.6 477.7,145.3 478.5,145.7 479.3,145.8 480.0,146.7 480.8,146.5 481.6,147.5 482.3,147.3 483.1,147.9 483.9,148.7 484.7,149.6 485.4,150.0 486.2,148.7 487.0,147.6 487.7,145.9 488.5,145.9 489.3,145.2 490.0,142.3 490.8,142.3 491.6,140.2 492.4,140.5 493.1,141.6 493.9,141.9 494.7,143.7 495.4,142.6 496.2,144.0 497.0,145.2 497.8,145.2 498.5,147.1 499.3,146.3 500.1,147.9 500.8,147.0 501.6,148.3 502.4,149.2 503.1,150.8 503.9,150.2 504.7,151.0 505.5,150.0 506.2,152.0 507.0,150.5 507.8,150.8 508.5,150.4 509.3,152.0 510.1,153.0 510.8,152.1 511.6,152.7 512.4,153.0 513.2,153.5 513.9,153.6 514.7,153.4 515.5,156.0 516.2,153.9 517.0,155.2 517.8,156.8 518.5,157.8 519.3,157.3 520.1,156.9 520.9,156.4 521.6,155.4 522.4,155.5 523.2,153.7 523.9,152.5" fill="none" stroke="#f00" stroke-width="1.0" stroke-linejoin="round" />
<text x="354.80" y="54.00" font-size="8.6" text-anchor="middle" fill="#111" font-weight="bold" transform="rotate(-90 354.80 54.00)" stroke="#111" stroke-width="0.3">Pre-</text>
<text x="366.00" y="54.00" font-size="8.6" text-anchor="middle" fill="#111" font-weight="bold" transform="rotate(-90 366.00 54.00)" stroke="#111" stroke-width="0.3">Exposure</text>
<text x="366.00" y="130.00" font-size="8.6" text-anchor="middle" fill="#111" font-weight="bold" transform="rotate(-90 366.00 130.00)" stroke="#111" stroke-width="0.3">Test</text>
<path d="M535.8,116.4 L535.8,146.1 L548,146.1" fill="none" stroke="#222" stroke-width="1.25" />
<text x="533.70" y="130.50" font-size="6.2" text-anchor="middle" fill="#111" font-weight="bold" transform="rotate(-90 533.70 130.50)" stroke="#111" stroke-width="0.3">20 z-score</text>
<text x="532.80" y="154.70" font-size="6.2" fill="#111" font-weight="bold" stroke="#111" stroke-width="0.3">20 sec</text>
<rect x="396.20" y="164.40" width="100.50" height="11.70" fill="#fff" stroke="#000" stroke-width="1.0" />
<line x1="399.40" y1="170.60" x2="409.90" y2="170.60" stroke="#000" stroke-width="1.6" />
<text x="413.10" y="172.90" font-size="8.1" stroke="#000" stroke-width="0.2">Control</text>
<line x1="454.00" y1="170.60" x2="464.40" y2="170.60" stroke="#f00" stroke-width="1.6" />
<text x="467.70" y="172.90" font-size="8.1" stroke="#000" stroke-width="0.2">Opn4<tspan dy="-3.4" font-size="4.7" fill-opacity="0.55">-/-</tspan></text>
<!-- panelD -->
<text x="538.70" y="11.80" font-size="17" stroke="#000" stroke-width="0.2">D.</text>
<line x1="598.50" y1="31.02" x2="598.50" y2="160.80" stroke="#000" stroke-width="1.45" />
<line x1="597.80" y1="160.80" x2="685.00" y2="160.80" stroke="#000" stroke-width="1.45" />
<line x1="593.10" y1="160.80" x2="598.50" y2="160.80" stroke="#000" stroke-width="1.3" />
<text x="590.50" y="165.00" font-size="11.7" text-anchor="end" fill="#111" stroke="#111" stroke-width="0.2">0</text>
<line x1="593.10" y1="128.53" x2="598.50" y2="128.53" stroke="#000" stroke-width="1.3" />
<text x="590.50" y="132.73" font-size="11.7" text-anchor="end" fill="#111" stroke="#111" stroke-width="0.2">1</text>
<line x1="593.10" y1="96.26" x2="598.50" y2="96.26" stroke="#000" stroke-width="1.3" />
<text x="590.50" y="100.46" font-size="11.7" text-anchor="end" fill="#111" stroke="#111" stroke-width="0.2">2</text>
<line x1="593.10" y1="63.99" x2="598.50" y2="63.99" stroke="#000" stroke-width="1.3" />
<text x="590.50" y="68.19" font-size="11.7" text-anchor="end" fill="#111" stroke="#111" stroke-width="0.2">3</text>
<line x1="593.10" y1="31.72" x2="598.50" y2="31.72" stroke="#000" stroke-width="1.3" />
<text x="590.50" y="35.92" font-size="11.7" text-anchor="end" fill="#111" stroke="#111" stroke-width="0.2">4</text>
<line x1="623.00" y1="160.80" x2="623.00" y2="165.80" stroke="#111" stroke-width="1.2" />
<line x1="660.00" y1="160.80" x2="660.00" y2="165.80" stroke="#111" stroke-width="1.2" />
<circle cx="623.00" cy="64.96" r="1.50" fill="none" stroke="#c4c4c4" stroke-width="0.8" />
<circle cx="623.00" cy="84.32" r="1.50" fill="none" stroke="#c4c4c4" stroke-width="0.8" />
<circle cx="623.00" cy="118.85" r="1.50" fill="none" stroke="#c4c4c4" stroke-width="0.8" />
<circle cx="623.00" cy="128.21" r="1.50" fill="none" stroke="#c4c4c4" stroke-width="0.8" />
<circle cx="623.00" cy="149.51" r="1.50" fill="none" stroke="#c4c4c4" stroke-width="0.8" />
<circle cx="660.00" cy="121.43" r="1.50" fill="none" stroke="#f6b6b6" stroke-width="0.8" />
<circle cx="660.00" cy="129.18" r="1.50" fill="none" stroke="#f6b6b6" stroke-width="0.8" />
<circle cx="660.00" cy="131.43" r="1.50" fill="none" stroke="#f6b6b6" stroke-width="0.8" />
<circle cx="660.00" cy="138.86" r="1.50" fill="none" stroke="#f6b6b6" stroke-width="0.8" />
<circle cx="660.00" cy="145.31" r="1.50" fill="none" stroke="#f6b6b6" stroke-width="0.8" />
<circle cx="660.00" cy="149.83" r="1.50" fill="none" stroke="#f6b6b6" stroke-width="0.8" />
<circle cx="660.00" cy="154.35" r="1.50" fill="none" stroke="#f6b6b6" stroke-width="0.8" />
<circle cx="660.00" cy="157.57" r="1.50" fill="none" stroke="#f6b6b6" stroke-width="0.8" />
<line x1="623.00" y1="123.37" x2="623.00" y2="97.87" stroke="#555" stroke-width="1.0" />
<line x1="617.20" y1="123.37" x2="628.80" y2="123.37" stroke="#555" stroke-width="1.0" />
<line x1="617.20" y1="97.87" x2="628.80" y2="97.87" stroke="#555" stroke-width="1.0" />
<line x1="610.80" y1="110.46" x2="635.20" y2="110.46" stroke="#000" stroke-width="2.8" />
<line x1="660.00" y1="144.34" x2="660.00" y2="135.63" stroke="#f00" stroke-width="1.0" />
<line x1="654.20" y1="144.34" x2="665.80" y2="144.34" stroke="#f00" stroke-width="1.0" />
<line x1="654.20" y1="135.63" x2="665.80" y2="135.63" stroke="#f00" stroke-width="1.0" />
<line x1="647.80" y1="140.15" x2="672.20" y2="140.15" stroke="#f00" stroke-width="2.8" />
<line x1="623.00" y1="43.60" x2="659.80" y2="43.60" stroke="#000" stroke-width="1.45" />
<text x="641.30" y="44.60" font-size="16" text-anchor="middle" fill="#111" font-weight="bold" stroke="#111" stroke-width="0.2">*</text>
<text x="623.00" y="176.50" font-size="9.9" text-anchor="middle" fill="#111" stroke="#111" stroke-width="0.2">Control</text>
<text x="645.00" y="176.50" font-size="9.9" fill="#111" stroke="#111" stroke-width="0.2">Opn4<tspan dy="-4.2" font-size="5.7" fill-opacity="1">-/-</tspan></text>
<text x="573.00" y="95.00" font-size="12.8" text-anchor="middle" fill="#111" transform="rotate(-90 573.00 95.00)" stroke="#111" stroke-width="0.2">AUC<tspan dy="2.5" font-size="9.4">test</tspan><tspan dy="-2.5"> / AUC</tspan><tspan dy="2.5" font-size="9.4">pre-exposure</tspan></text>
<!-- titles -->
<text x="162.50" y="196.00" font-size="15.1" fill="#111" text-decoration="underline" stroke="#111" stroke-width="0.2">Fiber photometry recording from PHb during Exposure</text>
<text x="228.50" y="359.00" font-size="15.05" fill="#111" text-decoration="underline" stroke="#111" stroke-width="0.2">Transitions at <tspan font-style="italic">Pre-exposure</tspan> phase</text>
<text x="282.20" y="569.50" font-size="15.3" fill="#111" text-decoration="underline" stroke="#111" stroke-width="0.2">Transitions at <tspan font-style="italic">Test</tspan></text>
<!-- panelE -->
<text x="0.00" y="215.70" font-size="17" stroke="#000" stroke-width="0.2">E.</text>
<defs><radialGradient id="blur1"><stop offset="0" stop-color="#acacac"/><stop offset="0.5" stop-color="#c2c2c2"/><stop offset="0.82" stop-color="#e0e0e0"/><stop offset="1" stop-color="#ffffff" stop-opacity="0"/></radialGradient></defs>
<circle cx="31.00" cy="230.50" r="14.50" fill="url(#blur1)" />
<rect x="50.40" y="219.00" width="25.10" height="25.00" fill="#c6c6c6" />
<circle cx="63.00" cy="231.50" r="9.80" fill="#a2a2a2" />
<text x="63.00" y="234.80" font-size="10" text-anchor="middle" fill="#fff" stroke="#fff" stroke-width="0.2">low</text>
<text x="66.70" y="253.70" font-size="10.5" fill="#111" stroke="#111" stroke-width="0.2">Optic fiber</text>
<polygon points="25.0,303.7 44.4,289.4 81.5,300.0 63.9,320.4" fill="#fce3e6" />
<polygon points="7.8,268.5 43.5,249.6 96.0,259.6 65.7,287.0" fill="none" stroke="#8a8a8a" stroke-width="0.7" />
<path d="M7.8,268.5 L7.8,307.4 L66.7,331.9 L96.3,296.3 L96,259.6 M65.7,287 L66.7,331.9" fill="none" stroke="#8a8a8a" stroke-width="0.7" />
<path d="M7.8,307.4 L43.5,280.5 L96.3,296.3" fill="none" stroke="#555" stroke-width="0.7" stroke-dasharray="1.6 1.6"/>
<ellipse cx="54.6" cy="265.2" rx="17.6" ry="8.7" fill="#8f8f8f" transform="rotate(4 54.6 265.2)"/>
<line x1="35.81" y1="261.61" x2="29.23" y2="260.24" stroke="#c2c2c2" stroke-width="0.7" />
<line x1="29.23" y1="260.24" x2="31.52" y2="259.54" stroke="#c2c2c2" stroke-width="0.7" />
<line x1="29.23" y1="260.24" x2="31.06" y2="261.80" stroke="#c2c2c2" stroke-width="0.7" />
<line x1="43.13" y1="256.60" x2="39.11" y2="253.32" stroke="#c2c2c2" stroke-width="0.7" />
<line x1="39.11" y1="253.32" x2="41.47" y2="253.76" stroke="#c2c2c2" stroke-width="0.7" />
<line x1="39.11" y1="253.32" x2="40.02" y2="255.55" stroke="#c2c2c2" stroke-width="0.7" />
<line x1="56.34" y1="254.74" x2="56.95" y2="250.76" stroke="#c2c2c2" stroke-width="0.7" />
<line x1="56.95" y1="250.76" x2="57.77" y2="253.01" stroke="#c2c2c2" stroke-width="0.7" />
<line x1="56.95" y1="250.76" x2="55.50" y2="252.66" stroke="#c2c2c2" stroke-width="0.7" />
<line x1="69.92" y1="258.45" x2="75.28" y2="255.88" stroke="#c2c2c2" stroke-width="0.7" />
<line x1="75.28" y1="255.88" x2="73.88" y2="257.83" stroke="#c2c2c2" stroke-width="0.7" />
<line x1="75.28" y1="255.88" x2="72.89" y2="255.75" stroke="#c2c2c2" stroke-width="0.7" />
<line x1="73.39" y1="268.79" x2="79.97" y2="270.16" stroke="#c2c2c2" stroke-width="0.7" />
<line x1="79.97" y1="270.16" x2="77.68" y2="270.86" stroke="#c2c2c2" stroke-width="0.7" />
<line x1="79.97" y1="270.16" x2="78.14" y2="268.60" stroke="#c2c2c2" stroke-width="0.7" />
<line x1="64.60" y1="274.29" x2="68.10" y2="277.76" stroke="#c2c2c2" stroke-width="0.7" />
<line x1="68.10" y1="277.76" x2="65.79" y2="277.09" stroke="#c2c2c2" stroke-width="0.7" />
<line x1="68.10" y1="277.76" x2="67.41" y2="275.46" stroke="#c2c2c2" stroke-width="0.7" />
<line x1="47.76" y1="275.07" x2="45.37" y2="278.83" stroke="#c2c2c2" stroke-width="0.7" />
<line x1="45.37" y1="278.83" x2="45.53" y2="276.43" stroke="#c2c2c2" stroke-width="0.7" />
<line x1="45.37" y1="278.83" x2="47.47" y2="277.67" stroke="#c2c2c2" stroke-width="0.7" />
<line x1="37.28" y1="270.45" x2="31.22" y2="272.45" stroke="#c2c2c2" stroke-width="0.7" />
<line x1="31.22" y1="272.45" x2="32.86" y2="270.70" stroke="#c2c2c2" stroke-width="0.7" />
<line x1="31.22" y1="272.45" x2="33.58" y2="272.88" stroke="#c2c2c2" stroke-width="0.7" />
<path d="M89,255.5 C78,258 76,270 72,278 C68,286 60,284 55,287 C51,290 50,294 49,297" fill="none" stroke="#111" stroke-width="0.9" />
<path d="M0,14.1 C0.8,12.5 1.2,11.8 1.6,11.1 C2.4,9.6 3.2,8.2 4.2,6.9 C5.2,5.6 6.4,4.4 7.2,3.2 C7,2.2 7,1.6 7.4,1.1 C8,0.3 8.8,0 9.5,0 C10.6,0 11.6,0.3 12.2,0.7 C12.8,1.1 13.2,1.4 13.7,1.6 C15,0.9 16.5,0.4 18,0.3 C19.5,0.2 21,0.3 22.2,0.5 C24.2,0.9 26,1.6 27.5,2.6 C29.4,3.8 30.8,5.3 31.7,6.9 C32.8,8.7 33.5,10.5 33.8,12.2 C33.9,12.7 34,13.2 34,13.7 C35.7,14.4 37.4,14.8 39.1,14.8 C41,14.9 42.8,14.8 44.4,14.5 C46.2,14.1 47.7,13.3 48.9,12.2 C47.8,13.8 46.3,15 44.4,15.5 C42.4,16.1 40.2,16.3 38,16.2 C36.8,16.1 35.6,15.9 34.4,15.5 C34.2,16.7 33.6,17.8 32.8,18.7 L28.5,18.7 L13.7,18.7 C11.7,18.7 9.8,18.6 7.9,18.3 C7.6,17.8 7.2,17.3 6.9,16.9 C5,16.8 3.2,16.5 1.6,15.9 C0.8,15.5 0.2,14.9 0,14.1 Z" fill="#050505" transform="translate(44,295.3) scale(0.5,0.58)"/>
<!-- panelF -->
<text x="113.50" y="215.70" font-size="17" stroke="#000" stroke-width="0.2">F.</text>
<text x="229.00" y="237.00" font-size="7.7" text-anchor="middle" fill="#111" stroke="#111" stroke-width="0.2">10 cycles</text>
<line x1="126.50" y1="241.00" x2="329.70" y2="241.00" stroke="#9a9a9a" stroke-width="1.0" />
<circle cx="126.20" cy="269.00" r="0.70" fill="#cacaca" />
<circle cx="139.10" cy="269.00" r="2.60" fill="#cacaca" />
<circle cx="152.60" cy="269.00" r="4.60" fill="#cacaca" />
<circle cx="165.80" cy="269.00" r="6.40" fill="#cacaca" />
<circle cx="192.40" cy="269.00" r="10.40" fill="#cacaca" />
<line x1="182.00" y1="283.00" x2="202.50" y2="283.00" stroke="#111" stroke-width="1.0" />
<text x="192.40" y="289.30" font-size="4.9" text-anchor="middle" fill="#111" stroke="#111" stroke-width="0.2">20 degrees</text>
<line x1="212.00" y1="269.00" x2="233.50" y2="269.00" stroke="#111" stroke-width="1.2" stroke-dasharray="2.6 1.2"/>
<rect x="241.40" y="252.50" width="30.50" height="31.90" fill="#c9c9c9" />
<circle cx="256.80" cy="268.50" r="10.20" fill="#a0a0a0" />
<line x1="283.00" y1="269.00" x2="304.00" y2="269.00" stroke="#111" stroke-width="1.2" stroke-dasharray="2.6 1.2"/>
<rect x="311.00" y="252.00" width="31.00" height="32.00" fill="#c9c9c9" />
<line x1="124.30" y1="295.60" x2="287.50" y2="295.60" stroke="#000" stroke-width="1.0" />
<line x1="292.50" y1="295.60" x2="326.50" y2="295.60" stroke="#000" stroke-width="1.0" />
<line x1="287.80" y1="298.80" x2="290.60" y2="292.30" stroke="#000" stroke-width="1.0" />
<line x1="290.40" y1="298.80" x2="293.20" y2="292.30" stroke="#000" stroke-width="1.0" />
<line x1="125.80" y1="295.60" x2="125.80" y2="298.80" stroke="#000" stroke-width="0.9" />
<line x1="138.97" y1="295.60" x2="138.97" y2="298.80" stroke="#000" stroke-width="0.9" />
<line x1="152.13" y1="295.60" x2="152.13" y2="298.80" stroke="#000" stroke-width="0.9" />
<line x1="165.29" y1="295.60" x2="165.29" y2="298.80" stroke="#000" stroke-width="0.9" />
<line x1="178.46" y1="295.60" x2="178.46" y2="298.80" stroke="#000" stroke-width="0.9" />
<line x1="191.62" y1="295.60" x2="191.62" y2="298.80" stroke="#000" stroke-width="0.9" />
<line x1="204.79" y1="295.60" x2="204.79" y2="298.80" stroke="#000" stroke-width="0.9" />
<line x1="217.95" y1="295.60" x2="217.95" y2="298.80" stroke="#000" stroke-width="0.9" />
<line x1="231.12" y1="295.60" x2="231.12" y2="298.80" stroke="#000" stroke-width="0.9" />
<line x1="244.28" y1="295.60" x2="244.28" y2="298.80" stroke="#000" stroke-width="0.9" />
<line x1="257.45" y1="295.60" x2="257.45" y2="298.80" stroke="#000" stroke-width="0.9" />
<line x1="326.00" y1="295.60" x2="326.00" y2="298.60" stroke="#111" stroke-width="0.8" />
<text x="126.60" y="306.60" font-size="7.6" text-anchor="middle" fill="#111" stroke="#111" stroke-width="0.2">0</text>
<text x="152.93" y="306.60" font-size="7.6" text-anchor="middle" fill="#111" stroke="#111" stroke-width="0.2">0,1</text>
<text x="179.26" y="306.60" font-size="7.6" text-anchor="middle" fill="#111" stroke="#111" stroke-width="0.2">0,2</text>
<text x="205.59" y="306.60" font-size="7.6" text-anchor="middle" fill="#111" stroke="#111" stroke-width="0.2">0,3</text>
<text x="231.92" y="306.60" font-size="7.6" text-anchor="middle" fill="#111" stroke="#111" stroke-width="0.2">0,4</text>
<text x="258.25" y="306.60" font-size="7.6" text-anchor="middle" fill="#111" stroke="#111" stroke-width="0.2">0,5</text>
<text x="327.50" y="306.60" font-size="7.6" text-anchor="middle" fill="#111" stroke="#111" stroke-width="0.2">1 s</text>
<!-- panelG -->
<text x="346.50" y="215.70" font-size="17" stroke="#000" stroke-width="0.2">G.</text>
<text x="461.80" y="217.60" font-size="11.6" text-anchor="middle" fill="#111" stroke="#111" stroke-width="0.2">Looming stimulus</text>
<line x1="383.50" y1="223.40" x2="541.00" y2="223.40" stroke="#111" stroke-width="0.7" />
<polygon points="382.4,265.4 383.2,264.6 384.0,264.0 384.8,264.3 385.6,265.3 386.4,264.1 387.2,262.6 388.0,263.0 388.8,262.4 389.6,261.1 390.4,260.2 391.2,259.9 392.0,261.1 392.8,261.1 393.6,260.7 394.4,261.0 395.2,260.7 396.0,260.6 396.8,260.4 397.6,259.9 398.4,260.2 399.2,259.8 400.0,261.3 400.8,263.0 401.6,262.9 402.3,263.9 403.1,264.2 403.9,263.7 404.7,264.7 405.5,264.8 406.3,265.1 407.1,266.4 407.9,266.2 408.7,265.5 409.5,265.8 410.3,266.5 411.1,267.6 411.9,268.1 412.7,267.5 413.5,267.3 414.3,266.6 415.1,266.7 415.9,267.3 416.7,266.8 417.5,266.4 418.3,267.4 419.1,267.0 419.9,267.0 420.7,267.4 421.5,267.2 422.3,266.6 423.1,266.0 423.9,266.1 424.7,266.2 425.5,266.0 426.3,265.2 427.1,264.6 427.9,265.6 428.7,266.1 429.5,265.1 430.3,265.2 431.1,266.0 431.9,266.5 432.7,266.1 433.5,266.0 434.3,266.9 435.1,266.7 435.9,267.1 436.7,268.4 437.5,268.6 438.3,267.7 439.1,267.9 439.9,268.2 440.7,268.2 441.5,268.9 442.2,269.4 443.0,269.4 443.8,269.5 444.6,269.3 445.4,268.4 446.2,268.3 447.0,267.6 447.8,268.1 448.6,268.0 449.4,267.4 450.2,266.9 451.0,266.4 451.8,267.1 452.6,266.9 453.4,266.4 454.2,266.0 455.0,265.7 455.8,265.8 456.6,265.8 457.4,265.0 458.2,265.0 459.0,265.9 459.8,266.0 460.6,266.2 461.4,267.1 462.2,267.5 463.0,267.4 463.8,267.0 464.6,267.5 465.4,268.8 466.2,269.2 467.0,268.5 467.8,268.6 468.6,269.1 469.4,270.0 470.2,270.1 471.0,269.7 471.8,269.4 472.6,270.7 473.4,270.4 474.2,269.6 475.0,269.0 475.8,268.7 476.6,269.7 477.4,269.4 478.2,269.1 479.0,269.2 479.8,269.2 480.6,269.3 481.4,269.2 482.1,268.7 482.9,269.1 483.7,269.3 484.5,269.4 485.3,269.7 486.1,269.5 486.9,269.6 487.7,269.0 488.5,269.5 489.3,269.9 490.1,269.9 490.9,269.9 491.7,269.6 492.5,269.2 493.3,269.3 494.1,269.0 494.9,268.4 495.7,270.3 496.5,269.6 497.3,268.2 498.1,268.0 498.9,268.0 499.7,268.2 500.5,267.0 501.3,267.1 502.1,267.5 502.9,267.3 503.7,266.1 504.5,265.9 505.3,266.1 506.1,266.9 506.9,267.3 507.7,266.9 508.5,266.8 509.3,267.6 510.1,267.9 510.9,268.0 511.7,269.0 512.5,268.8 513.3,268.8 514.1,268.8 514.9,268.5 515.7,269.3 516.5,269.8 517.3,270.5 518.1,270.6 518.9,269.7 519.7,269.7 520.5,270.6 521.3,270.9 522.0,271.3 522.8,271.7 523.6,272.5 524.4,272.1 525.2,271.8 526.0,272.0 526.8,272.1 527.6,272.4 528.4,273.7 529.2,274.5 530.0,274.1 530.8,273.2 531.6,274.0 532.4,274.9 533.2,274.0 534.0,273.6 534.8,273.3 535.6,273.2 536.4,273.5 537.2,273.9 538.0,274.7 538.8,275.2 539.6,275.8 540.4,274.6 541.2,272.9 541.2,283.3 540.4,284.6 539.6,285.7 538.8,284.7 538.0,284.5 537.2,284.0 536.4,283.7 535.6,283.0 534.8,283.1 534.0,283.4 533.2,283.6 532.4,284.4 531.6,283.7 530.8,282.6 530.0,283.2 529.2,284.1 528.4,283.5 527.6,282.7 526.8,282.1 526.0,282.7 525.2,282.4 524.4,282.6 523.6,282.2 522.8,281.8 522.0,281.8 521.3,281.5 520.5,280.7 519.7,279.8 518.9,280.0 518.1,280.1 517.3,279.6 516.5,279.8 515.7,279.5 514.9,278.8 514.1,278.4 513.3,278.5 512.5,278.6 511.7,278.5 510.9,277.8 510.1,277.9 509.3,278.1 508.5,277.2 507.7,276.9 506.9,276.7 506.1,276.2 505.3,276.1 504.5,276.1 503.7,276.7 502.9,277.1 502.1,277.9 501.3,277.3 500.5,277.3 499.7,277.8 498.9,277.5 498.1,278.0 497.3,278.4 496.5,279.4 495.7,279.8 494.9,278.6 494.1,279.4 493.3,279.8 492.5,278.9 491.7,279.4 490.9,279.2 490.1,279.0 489.3,279.3 488.5,279.2 487.7,279.3 486.9,279.3 486.1,279.4 485.3,279.1 484.5,279.3 483.7,279.6 482.9,279.5 482.1,279.3 481.4,279.0 480.6,278.6 479.8,278.7 479.0,278.9 478.2,279.1 477.4,279.3 476.6,279.7 475.8,279.0 475.0,279.1 474.2,280.2 473.4,280.6 472.6,280.5 471.8,278.7 471.0,278.3 470.2,279.0 469.4,278.8 468.6,278.5 467.8,277.6 467.0,277.2 466.2,277.8 465.4,278.2 464.6,277.6 463.8,277.1 463.0,277.2 462.2,277.2 461.4,276.4 460.6,275.4 459.8,275.3 459.0,275.9 458.2,274.9 457.4,275.1 456.6,275.8 455.8,276.1 455.0,275.5 454.2,275.7 453.4,275.4 452.6,275.7 451.8,276.4 451.0,276.2 450.2,276.6 449.4,276.7 448.6,277.8 447.8,277.9 447.0,277.1 446.2,277.8 445.4,278.4 444.6,279.0 443.8,279.4 443.0,279.3 442.2,279.4 441.5,278.5 440.7,278.0 439.9,278.0 439.1,277.8 438.3,277.2 437.5,277.8 436.7,278.0 435.9,276.6 435.1,276.6 434.3,276.0 433.5,275.3 432.7,275.4 431.9,275.9 431.1,275.6 430.3,274.7 429.5,274.7 428.7,275.1 427.9,274.9 427.1,273.8 426.3,274.9 425.5,275.8 424.7,275.7 423.9,275.4 423.1,275.1 422.3,276.3 421.5,276.7 420.7,276.4 419.9,275.6 419.1,276.2 418.3,277.0 417.5,276.3 416.7,276.6 415.9,277.4 415.1,276.5 414.3,276.1 413.5,276.4 412.7,276.6 411.9,276.8 411.1,276.1 410.3,274.9 409.5,274.3 408.7,273.6 407.9,274.2 407.1,274.6 406.3,273.7 405.5,273.3 404.7,272.7 403.9,271.8 403.1,272.2 402.3,271.5 401.6,270.3 400.8,270.3 400.0,268.5 399.2,266.9 398.4,267.2 397.6,267.4 396.8,267.8 396.0,268.1 395.2,267.8 394.4,267.7 393.6,267.2 392.8,267.2 392.0,267.8 391.2,266.7 390.4,267.3 389.6,267.5 388.8,267.2 388.0,267.3 387.2,265.9 386.4,267.5 385.6,268.0 384.8,267.0 384.0,266.2 383.2,266.3 382.4,266.5" fill="#fbd9d9" />
<polyline points="382.4,265.9 383.2,265.4 384.0,265.1 384.8,265.7 385.6,266.6 386.4,265.8 387.2,264.3 388.0,265.1 388.8,264.8 389.6,264.3 390.4,263.8 391.2,263.3 392.0,264.4 392.8,264.1 393.6,263.9 394.4,264.3 395.2,264.3 396.0,264.3 396.8,264.1 397.6,263.6 398.4,263.7 399.2,263.4 400.0,264.9 400.8,266.6 401.6,266.6 402.3,267.7 403.1,268.2 403.9,267.7 404.7,268.7 405.5,269.0 406.3,269.4 407.1,270.5 407.9,270.2 408.7,269.5 409.5,270.1 410.3,270.7 411.1,271.9 411.9,272.4 412.7,272.0 413.5,271.9 414.3,271.4 415.1,271.6 415.9,272.4 416.7,271.7 417.5,271.4 418.3,272.2 419.1,271.6 419.9,271.3 420.7,271.9 421.5,271.9 422.3,271.5 423.1,270.6 423.9,270.8 424.7,271.0 425.5,270.9 426.3,270.1 427.1,269.2 427.9,270.3 428.7,270.6 429.5,269.9 430.3,269.9 431.1,270.8 431.9,271.2 432.7,270.8 433.5,270.7 434.3,271.5 435.1,271.6 435.9,271.9 436.7,273.2 437.5,273.2 438.3,272.4 439.1,272.8 439.9,273.1 440.7,273.1 441.5,273.7 442.2,274.4 443.0,274.3 443.8,274.4 444.6,274.2 445.4,273.4 446.2,273.1 447.0,272.4 447.8,273.0 448.6,272.9 449.4,272.0 450.2,271.8 451.0,271.3 451.8,271.8 452.6,271.3 453.4,270.9 454.2,270.9 455.0,270.6 455.8,270.9 456.6,270.8 457.4,270.0 458.2,270.0 459.0,270.9 459.8,270.7 460.6,270.8 461.4,271.8 462.2,272.3 463.0,272.3 463.8,272.1 464.6,272.6 465.4,273.5 466.2,273.5 467.0,272.8 467.8,273.1 468.6,273.8 469.4,274.4 470.2,274.6 471.0,274.0 471.8,274.1 472.6,275.6 473.4,275.5 474.2,274.9 475.0,274.1 475.8,273.9 476.6,274.7 477.4,274.4 478.2,274.1 479.0,274.0 479.8,274.0 480.6,274.0 481.4,274.1 482.1,274.0 482.9,274.3 483.7,274.4 484.5,274.3 485.3,274.4 486.1,274.4 486.9,274.4 487.7,274.2 488.5,274.3 489.3,274.6 490.1,274.5 490.9,274.5 491.7,274.5 492.5,274.1 493.3,274.5 494.1,274.2 494.9,273.5 495.7,275.1 496.5,274.5 497.3,273.3 498.1,273.0 498.9,272.7 499.7,273.0 500.5,272.2 501.3,272.2 502.1,272.7 502.9,272.2 503.7,271.4 504.5,271.0 505.3,271.1 506.1,271.5 506.9,272.0 507.7,271.9 508.5,272.0 509.3,272.9 510.1,272.9 510.9,272.9 511.7,273.8 512.5,273.7 513.3,273.7 514.1,273.6 514.9,273.7 515.7,274.4 516.5,274.8 517.3,275.0 518.1,275.4 518.9,274.9 519.7,274.8 520.5,275.6 521.3,276.2 522.0,276.5 522.8,276.8 523.6,277.4 524.4,277.3 525.2,277.1 526.0,277.3 526.8,277.1 527.6,277.5 528.4,278.6 529.2,279.3 530.0,278.7 530.8,277.9 531.6,278.9 532.4,279.7 533.2,278.8 534.0,278.5 534.8,278.2 535.6,278.1 536.4,278.6 537.2,279.0 538.0,279.6 538.8,280.0 539.6,280.8 540.4,279.6 541.2,278.1" fill="none" stroke="#f01818" stroke-width="0.9" stroke-linejoin="round" />
<polygon points="382.4,265.0 383.2,264.0 384.0,260.5 384.8,265.9 385.6,264.8 386.4,258.7 387.2,258.7 388.0,257.9 388.8,256.9 389.6,259.8 390.4,263.9 391.2,262.7 392.0,264.1 392.8,265.7 393.6,269.5 394.4,268.4 395.2,264.9 396.0,263.8 396.8,270.2 397.6,267.2 398.4,269.0 399.2,269.7 400.0,271.5 400.8,270.2 401.6,268.8 402.3,269.7 403.1,268.7 403.9,267.8 404.7,267.2 405.5,268.5 406.3,265.7 407.1,267.3 407.9,267.3 408.7,267.7 409.5,268.4 410.3,269.1 411.1,269.3 411.9,268.6 412.7,272.3 413.5,269.7 414.3,273.6 415.1,274.1 415.9,271.7 416.7,270.7 417.5,270.5 418.3,267.9 419.1,266.1 419.9,266.2 420.7,270.7 421.5,269.6 422.3,265.7 423.1,269.3 423.9,269.5 424.7,267.6 425.5,265.7 426.3,260.8 427.1,264.1 427.9,261.8 428.7,263.0 429.5,261.1 430.3,261.8 431.1,258.6 431.9,259.8 432.7,261.1 433.5,259.2 434.3,260.0 435.1,257.7 435.9,261.0 436.7,262.6 437.5,254.8 438.3,260.3 439.1,253.1 439.9,252.1 440.7,255.9 441.5,256.2 442.2,257.0 443.0,252.3 443.8,253.3 444.6,256.1 445.4,255.6 446.2,251.6 447.0,256.3 447.8,255.8 448.6,254.8 449.4,254.2 450.2,253.7 451.0,256.0 451.8,256.3 452.6,257.6 453.4,257.2 454.2,253.7 455.0,256.5 455.8,257.8 456.6,257.9 457.4,253.9 458.2,250.3 459.0,254.0 459.8,252.9 460.6,251.4 461.4,253.4 462.2,252.2 463.0,253.2 463.8,257.3 464.6,254.5 465.4,255.1 466.2,253.4 467.0,257.7 467.8,253.9 468.6,257.5 469.4,251.6 470.2,255.0 471.0,257.2 471.8,252.2 472.6,254.2 473.4,258.9 474.2,255.7 475.0,252.8 475.8,251.3 476.6,257.4 477.4,256.1 478.2,255.7 479.0,255.5 479.8,254.3 480.6,257.2 481.4,259.7 482.1,258.4 482.9,258.3 483.7,263.5 484.5,263.9 485.3,259.3 486.1,259.4 486.9,261.1 487.7,261.0 488.5,259.3 489.3,256.2 490.1,254.5 490.9,251.8 491.7,255.4 492.5,255.8 493.3,253.5 494.1,252.3 494.9,252.5 495.7,251.8 496.5,254.0 497.3,256.6 498.1,253.1 498.9,254.5 499.7,254.3 500.5,254.4 501.3,256.0 502.1,251.3 502.9,250.5 503.7,252.7 504.5,251.4 505.3,252.6 506.1,252.6 506.9,250.3 507.7,256.0 508.5,258.9 509.3,254.0 510.1,255.0 510.9,253.7 511.7,252.5 512.5,248.9 513.3,249.9 514.1,249.4 514.9,250.8 515.7,248.6 516.5,248.9 517.3,251.0 518.1,249.5 518.9,250.9 519.7,249.4 520.5,252.4 521.3,251.9 522.0,253.0 522.8,255.3 523.6,258.6 524.4,252.4 525.2,257.7 526.0,257.5 526.8,260.3 527.6,258.2 528.4,258.6 529.2,260.2 530.0,257.6 530.8,256.2 531.6,258.1 532.4,261.9 533.2,262.6 534.0,259.9 534.8,259.9 535.6,260.7 536.4,262.7 537.2,267.5 538.0,262.8 538.8,265.5 539.6,266.5 540.4,264.1 541.2,266.1 541.2,275.9 540.4,277.0 539.6,278.0 538.8,278.1 538.0,277.8 537.2,278.1 536.4,277.4 535.6,276.1 534.8,274.4 534.0,275.7 533.2,274.1 532.4,275.5 531.6,275.1 530.8,273.7 530.0,273.8 529.2,273.3 528.4,271.8 527.6,271.5 526.8,270.3 526.0,267.6 525.2,272.5 524.4,270.8 523.6,275.4 522.8,270.4 522.0,270.1 521.3,268.0 520.5,265.5 519.7,263.3 518.9,266.5 518.1,262.1 517.3,264.1 516.5,264.6 515.7,263.4 514.9,265.5 514.1,265.0 513.3,268.6 512.5,267.8 511.7,265.7 510.9,264.4 510.1,267.9 509.3,267.8 508.5,268.1 507.7,265.5 506.9,262.5 506.1,264.0 505.3,263.1 504.5,262.5 503.7,265.8 502.9,264.1 502.1,261.2 501.3,265.9 500.5,267.2 499.7,265.5 498.9,266.3 498.1,265.5 497.3,270.8 496.5,271.1 495.7,267.9 494.9,266.9 494.1,266.6 493.3,266.7 492.5,267.2 491.7,268.1 490.9,267.8 490.1,267.3 489.3,268.7 488.5,271.9 487.7,269.7 486.9,271.4 486.1,272.9 485.3,271.5 484.5,272.6 483.7,273.8 482.9,272.2 482.1,272.2 481.4,273.2 480.6,273.6 479.8,272.2 479.0,266.9 478.2,263.1 477.4,266.4 476.6,268.7 475.8,262.7 475.0,267.3 474.2,270.1 473.4,271.0 472.6,269.8 471.8,268.8 471.0,268.3 470.2,269.4 469.4,271.1 468.6,271.9 467.8,264.1 467.0,270.6 466.2,268.3 465.4,267.5 464.6,267.0 463.8,271.0 463.0,268.3 462.2,266.6 461.4,266.1 460.6,268.3 459.8,270.2 459.0,269.3 458.2,269.4 457.4,270.5 456.6,267.0 455.8,265.5 455.0,268.4 454.2,266.3 453.4,269.0 452.6,269.0 451.8,268.8 451.0,271.0 450.2,268.0 449.4,267.9 448.6,268.3 447.8,267.8 447.0,268.6 446.2,266.8 445.4,269.3 444.6,268.9 443.8,269.5 443.0,266.1 442.2,269.1 441.5,270.4 440.7,269.6 439.9,267.5 439.1,268.6 438.3,273.4 437.5,271.7 436.7,276.7 435.9,270.8 435.1,271.1 434.3,273.3 433.5,273.1 432.7,276.4 431.9,276.7 431.1,274.9 430.3,277.0 429.5,276.7 428.7,274.0 427.9,270.9 427.1,276.9 426.3,277.3 425.5,279.0 424.7,278.6 423.9,279.7 423.1,276.3 422.3,277.3 421.5,279.2 420.7,280.0 419.9,283.1 419.1,282.3 418.3,281.1 417.5,282.9 416.7,283.6 415.9,284.5 415.1,285.1 414.3,283.8 413.5,280.6 412.7,281.9 411.9,279.8 411.1,281.4 410.3,280.3 409.5,280.7 408.7,280.2 407.9,279.1 407.1,281.3 406.3,278.9 405.5,279.6 404.7,281.2 403.9,282.3 403.1,280.6 402.3,278.1 401.6,278.6 400.8,282.3 400.0,281.9 399.2,282.5 398.4,282.4 397.6,278.0 396.8,280.6 396.0,275.2 395.2,275.1 394.4,276.3 393.6,277.2 392.8,271.9 392.0,273.9 391.2,272.1 390.4,271.4 389.6,270.1 388.8,268.7 388.0,270.8 387.2,271.6 386.4,264.4 385.6,263.6 384.8,264.3 384.0,261.9 383.2,267.8 382.4,266.4" fill="#d0d0d0" opacity="0.95"/>
<polyline points="435.9,271.9 436.7,273.2 437.5,273.2 438.3,272.4 439.1,272.8 439.9,273.1 440.7,273.1 441.5,273.7 442.2,274.4 443.0,274.3 443.8,274.4 444.6,274.2 445.4,273.4 446.2,273.1 447.0,272.4 447.8,273.0 448.6,272.9 449.4,272.0 450.2,271.8 451.0,271.3 451.8,271.8 452.6,271.3 453.4,270.9 454.2,270.9 455.0,270.6 455.8,270.9 456.6,270.8 457.4,270.0 458.2,270.0 459.0,270.9 459.8,270.7 460.6,270.8 461.4,271.8 462.2,272.3 463.0,272.3 463.8,272.1 464.6,272.6 465.4,273.5 466.2,273.5 467.0,272.8 467.8,273.1 468.6,273.8 469.4,274.4 470.2,274.6 471.0,274.0 471.8,274.1 472.6,275.6 473.4,275.5 474.2,274.9 475.0,274.1 475.8,273.9 476.6,274.7 477.4,274.4 478.2,274.1 479.0,274.0 479.8,274.0 480.6,274.0 481.4,274.1 482.1,274.0 482.9,274.3 483.7,274.4 484.5,274.3 485.3,274.4 486.1,274.4 486.9,274.4 487.7,274.2 488.5,274.3 489.3,274.6 490.1,274.5 490.9,274.5 491.7,274.5 492.5,274.1 493.3,274.5 494.1,274.2 494.9,273.5 495.7,275.1 496.5,274.5 497.3,273.3 498.1,273.0 498.9,272.7 499.7,273.0 500.5,272.2 501.3,272.2 502.1,272.7 502.9,272.2 503.7,271.4 504.5,271.0 505.3,271.1 506.1,271.5 506.9,272.0 507.7,271.9 508.5,272.0 509.3,272.9 510.1,272.9 510.9,272.9 511.7,273.8 512.5,273.7 513.3,273.7 514.1,273.6 514.9,273.7 515.7,274.4 516.5,274.8 517.3,275.0 518.1,275.4 518.9,274.9 519.7,274.8 520.5,275.6 521.3,276.2 522.0,276.5 522.8,276.8 523.6,277.4 524.4,277.3 525.2,277.1 526.0,277.3 526.8,277.1 527.6,277.5 528.4,278.6 529.2,279.3 530.0,278.7 530.8,277.9 531.6,278.9 532.4,279.7 533.2,278.8 534.0,278.5 534.8,278.2 535.6,278.1 536.4,278.6 537.2,279.0 538.0,279.6 538.8,280.0 539.6,280.8 540.4,279.6 541.2,278.1" fill="none" stroke="#f01818" stroke-width="0.9" stroke-linejoin="round" />
<polyline points="382.4,265.7 383.2,265.9 384.0,261.2 384.8,265.1 385.6,264.2 386.4,261.6 387.2,265.2 388.0,264.3 388.8,262.8 389.6,265.0 390.4,267.6 391.2,267.4 392.0,269.0 392.8,268.8 393.6,273.3 394.4,272.4 395.2,270.0 396.0,269.5 396.8,275.4 397.6,272.6 398.4,275.7 399.2,276.1 400.0,276.7 400.8,276.3 401.6,273.7 402.3,273.9 403.1,274.6 403.9,275.0 404.7,274.2 405.5,274.0 406.3,272.3 407.1,274.3 407.9,273.2 408.7,274.0 409.5,274.5 410.3,274.7 411.1,275.4 411.9,274.2 412.7,277.1 413.5,275.1 414.3,278.7 415.1,279.6 415.9,278.1 416.7,277.1 417.5,276.7 418.3,274.5 419.1,274.2 419.9,274.6 420.7,275.4 421.5,274.4 422.3,271.5 423.1,272.8 423.9,274.6 424.7,273.1 425.5,272.3 426.3,269.0 427.1,270.5 427.9,266.3 428.7,268.5 429.5,268.9 430.3,269.4 431.1,266.7 431.9,268.2 432.7,268.8 433.5,266.2 434.3,266.6 435.1,264.4 435.9,265.9 436.7,269.7 437.5,263.3 438.3,266.9 439.1,260.9 439.9,259.8 440.7,262.7 441.5,263.3 442.2,263.0 443.0,259.2 443.8,261.4 444.6,262.5 445.4,262.4 446.2,259.2 447.0,262.4 447.8,261.8 448.6,261.6 449.4,261.1 450.2,260.8 451.0,263.5 451.8,262.6 452.6,263.3 453.4,263.1 454.2,260.0 455.0,262.4 455.8,261.6 456.6,262.5 457.4,262.2 458.2,259.8 459.0,261.6 459.8,261.6 460.6,259.9 461.4,259.7 462.2,259.4 463.0,260.7 463.8,264.1 464.6,260.7 465.4,261.3 466.2,260.9 467.0,264.2 467.8,259.0 468.6,264.7 469.4,261.4 470.2,262.2 471.0,262.8 471.8,260.5 472.6,262.0 473.4,265.0 474.2,262.9 475.0,260.1 475.8,257.0 476.6,263.1 477.4,261.2 478.2,259.4 479.0,261.2 479.8,263.3 480.6,265.4 481.4,266.5 482.1,265.3 482.9,265.2 483.7,268.7 484.5,268.3 485.3,265.4 486.1,266.1 486.9,266.3 487.7,265.3 488.5,265.6 489.3,262.4 490.1,260.9 490.9,259.8 491.7,261.8 492.5,261.5 493.3,260.1 494.1,259.5 494.9,259.7 495.7,259.9 496.5,262.6 497.3,263.7 498.1,259.3 498.9,260.4 499.7,259.9 500.5,260.8 501.3,261.0 502.1,256.3 502.9,257.3 503.7,259.2 504.5,257.0 505.3,257.9 506.1,258.3 506.9,256.4 507.7,260.8 508.5,263.5 509.3,260.9 510.1,261.5 510.9,259.1 511.7,259.1 512.5,258.4 513.3,259.3 514.1,257.2 514.9,258.1 515.7,256.0 516.5,256.8 517.3,257.5 518.1,255.8 518.9,258.7 519.7,256.4 520.5,259.0 521.3,260.0 522.0,261.6 522.8,262.8 523.6,267.0 524.4,261.6 525.2,265.1 526.0,262.6 526.8,265.3 527.6,264.8 528.4,265.2 529.2,266.8 530.0,265.7 530.8,264.9 531.6,266.6 532.4,268.7 533.2,268.4 534.0,267.8 534.8,267.2 535.6,268.4 536.4,270.1 537.2,272.8 538.0,270.3 538.8,271.8 539.6,272.3 540.4,270.5 541.2,271.0" fill="none" stroke="#111" stroke-width="0.9" stroke-linejoin="round" />
<line x1="382.40" y1="212.60" x2="382.40" y2="319.00" stroke="#000" stroke-width="1.4" />
<line x1="381.70" y1="318.30" x2="541.70" y2="318.30" stroke="#000" stroke-width="1.4" />
<line x1="378.20" y1="213.10" x2="382.40" y2="213.10" stroke="#000" stroke-width="1.2" />
<text x="377.60" y="216.10" font-size="8.7" text-anchor="end" fill="#111" stroke="#111" stroke-width="0.2">10</text>
<line x1="378.20" y1="239.40" x2="382.40" y2="239.40" stroke="#000" stroke-width="1.2" />
<text x="377.60" y="242.40" font-size="8.7" text-anchor="end" fill="#111" stroke="#111" stroke-width="0.2">5</text>
<line x1="378.20" y1="265.70" x2="382.40" y2="265.70" stroke="#000" stroke-width="1.2" />
<text x="377.60" y="268.70" font-size="8.7" text-anchor="end" fill="#111" stroke="#111" stroke-width="0.2">0</text>
<line x1="378.20" y1="292.00" x2="382.40" y2="292.00" stroke="#000" stroke-width="1.2" />
<text x="377.60" y="295.00" font-size="8.7" text-anchor="end" fill="#111" stroke="#111" stroke-width="0.2">-5</text>
<line x1="378.20" y1="318.30" x2="382.40" y2="318.30" stroke="#000" stroke-width="1.2" />
<text x="377.60" y="321.30" font-size="8.7" text-anchor="end" fill="#111" stroke="#111" stroke-width="0.2">-10</text>
<line x1="382.40" y1="318.30" x2="382.40" y2="322.30" stroke="#111" stroke-width="1.0" />
<text x="382.40" y="332.40" font-size="9" text-anchor="middle" fill="#111" stroke="#111" stroke-width="0.2">0</text>
<line x1="414.16" y1="318.30" x2="414.16" y2="322.30" stroke="#111" stroke-width="1.0" />
<text x="414.16" y="332.40" font-size="9" text-anchor="middle" fill="#111" stroke="#111" stroke-width="0.2">2</text>
<line x1="445.92" y1="318.30" x2="445.92" y2="322.30" stroke="#111" stroke-width="1.0" />
<text x="445.92" y="332.40" font-size="9" text-anchor="middle" fill="#111" stroke="#111" stroke-width="0.2">4</text>
<line x1="477.68" y1="318.30" x2="477.68" y2="322.30" stroke="#111" stroke-width="1.0" />
<text x="477.68" y="332.40" font-size="9" text-anchor="middle" fill="#111" stroke="#111" stroke-width="0.2">6</text>
<line x1="509.44" y1="318.30" x2="509.44" y2="322.30" stroke="#111" stroke-width="1.0" />
<text x="509.44" y="332.40" font-size="9" text-anchor="middle" fill="#111" stroke="#111" stroke-width="0.2">8</text>
<line x1="541.20" y1="318.30" x2="541.20" y2="322.30" stroke="#111" stroke-width="1.0" />
<text x="541.20" y="332.40" font-size="9" text-anchor="middle" fill="#111" stroke="#111" stroke-width="0.2">10</text>
<text x="462.00" y="342.30" font-size="10.4" text-anchor="middle" fill="#111" stroke="#111" stroke-width="0.2">Time (sec)</text>
<text x="364.00" y="265.40" font-size="11.7" text-anchor="middle" fill="#111" transform="rotate(-90 364.00 265.40)" stroke="#111" stroke-width="0.2">z-score</text>
<rect x="497.80" y="293.20" width="43.70" height="21.90" fill="#fff" stroke="#000" stroke-width="1.0" />
<line x1="500.10" y1="300.00" x2="509.80" y2="300.00" stroke="#000" stroke-width="1.6" />
<text x="512.60" y="302.40" font-size="8.1" stroke="#000" stroke-width="0.2">Control</text>
<line x1="500.10" y1="309.00" x2="509.80" y2="309.00" stroke="#f00" stroke-width="1.6" />
<text x="512.60" y="311.60" font-size="8.1" stroke="#000" stroke-width="0.2">Opn4<tspan dy="-3.4" font-size="4.7" fill-opacity="0.55">-/-</tspan></text>
<!-- panelH -->
<text x="556.30" y="215.70" font-size="17" stroke="#000" stroke-width="0.2">H.</text>
<line x1="597.30" y1="215.40" x2="597.30" y2="326.20" stroke="#000" stroke-width="1.45" />
<line x1="596.60" y1="326.20" x2="676.00" y2="326.20" stroke="#000" stroke-width="1.45" />
<line x1="592.30" y1="326.20" x2="597.30" y2="326.20" stroke="#111" stroke-width="1.1" />
<text x="591.30" y="329.60" font-size="9.4" text-anchor="end" fill="#111" stroke="#111" stroke-width="0.2">0</text>
<line x1="592.30" y1="289.50" x2="597.30" y2="289.50" stroke="#111" stroke-width="1.1" />
<text x="591.30" y="292.90" font-size="9.4" text-anchor="end" fill="#111" stroke="#111" stroke-width="0.2">20</text>
<line x1="592.30" y1="252.80" x2="597.30" y2="252.80" stroke="#111" stroke-width="1.1" />
<text x="591.30" y="256.20" font-size="9.4" text-anchor="end" fill="#111" stroke="#111" stroke-width="0.2">40</text>
<line x1="592.30" y1="216.10" x2="597.30" y2="216.10" stroke="#111" stroke-width="1.1" />
<text x="591.30" y="219.50" font-size="9.4" text-anchor="end" fill="#111" stroke="#111" stroke-width="0.2">60</text>
<line x1="620.40" y1="326.20" x2="620.40" y2="331.00" stroke="#111" stroke-width="1.1" />
<line x1="657.30" y1="326.20" x2="657.30" y2="331.00" stroke="#111" stroke-width="1.1" />
<circle cx="620.40" cy="234.45" r="1.00" fill="none" stroke="#bdbdbd" stroke-width="0.7" />
<circle cx="620.40" cy="251.88" r="1.00" fill="none" stroke="#bdbdbd" stroke-width="0.7" />
<circle cx="620.40" cy="257.02" r="1.00" fill="none" stroke="#bdbdbd" stroke-width="0.7" />
<circle cx="620.40" cy="261.98" r="1.00" fill="none" stroke="#bdbdbd" stroke-width="0.7" />
<circle cx="620.40" cy="281.24" r="1.00" fill="none" stroke="#bdbdbd" stroke-width="0.7" />
<circle cx="620.40" cy="289.50" r="1.00" fill="none" stroke="#bdbdbd" stroke-width="0.7" />
<circle cx="620.40" cy="300.51" r="1.00" fill="none" stroke="#bdbdbd" stroke-width="0.7" />
<circle cx="620.40" cy="304.18" r="1.00" fill="none" stroke="#bdbdbd" stroke-width="0.7" />
<circle cx="657.30" cy="225.27" r="1.00" fill="none" stroke="#f6b6b6" stroke-width="0.7" />
<circle cx="657.30" cy="248.58" r="1.00" fill="none" stroke="#f6b6b6" stroke-width="0.7" />
<circle cx="657.30" cy="268.40" r="1.00" fill="none" stroke="#f6b6b6" stroke-width="0.7" />
<circle cx="657.30" cy="284.00" r="1.00" fill="none" stroke="#f6b6b6" stroke-width="0.7" />
<circle cx="657.30" cy="302.34" r="1.00" fill="none" stroke="#f6b6b6" stroke-width="0.7" />
<circle cx="657.30" cy="307.85" r="1.00" fill="none" stroke="#f6b6b6" stroke-width="0.7" />
<circle cx="657.30" cy="309.69" r="1.00" fill="none" stroke="#f6b6b6" stroke-width="0.7" />
<circle cx="657.30" cy="311.52" r="1.00" fill="none" stroke="#f6b6b6" stroke-width="0.7" />
<circle cx="657.30" cy="313.36" r="1.00" fill="none" stroke="#f6b6b6" stroke-width="0.7" />
<circle cx="657.30" cy="315.19" r="1.00" fill="none" stroke="#f6b6b6" stroke-width="0.7" />
<circle cx="657.30" cy="316.66" r="1.00" fill="none" stroke="#f6b6b6" stroke-width="0.7" />
<line x1="620.40" y1="281.79" x2="620.40" y2="264.18" stroke="#111" stroke-width="1.0" />
<line x1="615.20" y1="281.79" x2="625.60" y2="281.79" stroke="#111" stroke-width="1.0" />
<line x1="615.20" y1="264.18" x2="625.60" y2="264.18" stroke="#111" stroke-width="1.0" />
<line x1="610.10" y1="272.99" x2="630.70" y2="272.99" stroke="#111" stroke-width="1.3" />
<line x1="657.30" y1="296.84" x2="657.30" y2="281.06" stroke="#f01818" stroke-width="1.0" />
<line x1="651.90" y1="296.84" x2="662.70" y2="296.84" stroke="#f01818" stroke-width="1.0" />
<line x1="651.90" y1="281.06" x2="662.70" y2="281.06" stroke="#f01818" stroke-width="1.0" />
<line x1="647.00" y1="288.95" x2="667.60" y2="288.95" stroke="#f01818" stroke-width="1.3" />
<line x1="620.40" y1="216.10" x2="657.30" y2="216.10" stroke="#000" stroke-width="1.4" />
<text x="638.50" y="213.00" font-size="9.3" text-anchor="middle" fill="#111" stroke="#111" stroke-width="0.2">n.s.</text>
<text x="620.40" y="340.50" font-size="9.9" text-anchor="middle" fill="#111" stroke="#111" stroke-width="0.2">Control</text>
<text x="644.30" y="340.50" font-size="9.9" fill="#111" stroke="#111" stroke-width="0.2">Opn4<tspan dy="-4.2" font-size="5.7" fill-opacity="1">-/-</tspan></text>
<text x="574.00" y="271.20" font-size="12" text-anchor="middle" fill="#111" transform="rotate(-90 574.00 271.20)" stroke="#111" stroke-width="0.2">AUC</text>
<!-- panelI -->
<text x="0.30" y="379.00" font-size="17" stroke="#000" stroke-width="0.2">I.</text>
<text x="28.30" y="389.80" font-size="12.3" fill="#111" stroke="#111" stroke-width="0.2">Optic fiber</text>
<path d="M60,396 C61,398.5 63.5,399.5 67,399.6" fill="none" stroke="#111" stroke-width="0.7" />
<polygon points="68.2,399.7 65.8,398.4 65.9,400.8" fill="#111" />
<rect x="47.90" y="432.30" width="68.10" height="67.50" fill="#fbd7dc" />
<rect x="28.80" y="411.80" width="106.80" height="106.20" fill="none" stroke="#000" stroke-width="1.6" />
<path d="M102,397.5 C98,404 84,401 79,405 C75,408 74.5,412 74.5,416" fill="none" stroke="#111" stroke-width="0.8" />
<path d="M0,14.1 C0.8,12.5 1.2,11.8 1.6,11.1 C2.4,9.6 3.2,8.2 4.2,6.9 C5.2,5.6 6.4,4.4 7.2,3.2 C7,2.2 7,1.6 7.4,1.1 C8,0.3 8.8,0 9.5,0 C10.6,0 11.6,0.3 12.2,0.7 C12.8,1.1 13.2,1.4 13.7,1.6 C15,0.9 16.5,0.4 18,0.3 C19.5,0.2 21,0.3 22.2,0.5 C24.2,0.9 26,1.6 27.5,2.6 C29.4,3.8 30.8,5.3 31.7,6.9 C32.8,8.7 33.5,10.5 33.8,12.2 C33.9,12.7 34,13.2 34,13.7 C35.7,14.4 37.4,14.8 39.1,14.8 C41,14.9 42.8,14.8 44.4,14.5 C46.2,14.1 47.7,13.3 48.9,12.2 C47.8,13.8 46.3,15 44.4,15.5 C42.4,16.1 40.2,16.3 38,16.2 C36.8,16.1 35.6,15.9 34.4,15.5 C34.2,16.7 33.6,17.8 32.8,18.7 L28.5,18.7 L13.7,18.7 C11.7,18.7 9.8,18.6 7.9,18.3 C7.6,17.8 7.2,17.3 6.9,16.9 C5,16.8 3.2,16.5 1.6,15.9 C0.8,15.5 0.2,14.9 0,14.1 Z" fill="#000" transform="translate(68.6,414.6) scale(0.565,0.62)"/>
<line x1="81.20" y1="428.00" x2="81.20" y2="443.00" stroke="#000" stroke-width="1.1" />
<polygon points="81.2,450.0 78.2,441.5 84.2,441.5" fill="#000" />
<text x="81.00" y="460.00" font-size="14.7" text-anchor="middle" fill="#111" stroke="#111" stroke-width="0.2">Threat</text>
<text x="81.50" y="472.30" font-size="14.7" text-anchor="middle" fill="#111" stroke="#111" stroke-width="0.2">zone</text>
<text x="82.00" y="485.80" font-size="14.7" text-anchor="middle" fill="#111" stroke="#111" stroke-width="0.2">(TZ)</text>
<text x="81.50" y="513.50" font-size="14.5" text-anchor="middle" fill="#111" stroke="#111" stroke-width="0.2">Edge</text>
<!-- panelJ -->
<text x="146.60" y="380.50" font-size="17" stroke="#000" stroke-width="0.2">J.</text>
<text x="172.80" y="387.00" font-size="14.6" fill="#111" stroke="#111" stroke-width="0.2">Edge</text>
<line x1="214.40" y1="381.74" x2="226.30" y2="381.74" stroke="#000" stroke-width="1.35" />
<polygon points="228.8,381.7 223.8,379.3 223.8,384.1" fill="#000" />
<text x="233.80" y="387.00" font-size="14.6" fill="#111" stroke="#111" stroke-width="0.2">TZ</text>
<g transform="translate(168.40,395.50)" stroke-width="4.22" fill="none">
<rect x="0.00" y="0.00" width="98.10" height="64.30" fill="#b03060" />
<path stroke="#270b4c" d="M0.00 2.01h2.59M2.34 2.01h2.59M7.01 2.01h2.59"/>
<path stroke="#360a5b" d="M32.70 14.07h2.59M37.37 14.07h2.59M37.37 38.18h2.59"/>
<path stroke="#440b68" d="M11.68 2.01h2.59M91.09 18.08h2.59M53.72 22.10h2.59M95.76 22.10h2.59M70.07 54.25h2.59M39.71 58.27h2.59M42.04 58.27h2.59"/>
<path stroke="#520f6a" d="M35.04 14.07h2.59M30.36 38.18h2.59M35.04 38.18h2.59M77.08 54.25h2.59M86.42 54.25h2.59M32.70 58.27h2.59M35.04 58.27h2.59M46.71 58.27h2.59M2.34 62.29h2.59"/>
<path stroke="#5f136c" d="M4.67 2.01h2.59M88.76 10.05h2.59M16.35 22.10h2.59M51.39 22.10h2.59M32.70 30.14h2.59M32.70 38.18h2.59M93.43 42.20h2.59M44.38 58.27h2.59M9.34 62.29h2.59M16.35 62.29h2.59"/>
<path stroke="#6c186e" d="M14.01 2.01h2.59M93.43 10.05h2.59M95.76 10.05h2.59M88.76 18.08h2.59M95.76 18.08h2.59M18.69 22.10h2.59M16.35 30.14h2.59M21.02 30.14h2.59M23.36 30.14h2.59M35.04 30.14h2.59M25.69 34.16h2.59M44.38 38.18h2.59M46.71 38.18h2.59M9.34 42.20h2.59M37.37 46.22h2.59M2.34 50.23h2.59M72.41 54.25h2.59M79.41 54.25h2.59M37.37 58.27h2.59M7.01 62.29h2.59"/>
<path stroke="#7a1d6b" d="M9.34 2.01h2.59M16.35 2.01h2.59M23.36 2.01h2.59M0.00 6.03h2.59M93.43 6.03h2.59M28.03 14.07h2.59M30.36 14.07h2.59M81.75 18.08h2.59M44.38 22.10h2.59M44.38 26.12h2.59M51.39 26.12h2.59M14.01 30.14h2.59M25.69 30.14h2.59M39.71 30.14h2.59M91.09 34.16h2.59M93.43 34.16h2.59M95.76 34.16h2.59M39.71 38.18h2.59M11.68 42.20h2.59M95.76 42.20h2.59M35.04 46.22h2.59M4.67 50.23h2.59M74.74 54.25h2.59M58.39 58.27h2.59M4.67 62.29h2.59M11.68 62.29h2.59M21.02 62.29h2.59"/>
<path stroke="#882269" d="M21.02 2.01h2.59M60.73 10.05h2.59M39.71 14.07h2.59M86.42 18.08h2.59M39.71 26.12h2.59M49.05 26.12h2.59M53.72 26.12h2.59M25.69 38.18h2.59M42.04 38.18h2.59M49.05 38.18h2.59M53.72 38.18h2.59M2.34 42.20h2.59M67.74 42.20h2.59M81.75 42.20h2.59M86.42 42.20h2.59M91.09 42.20h2.59M39.71 46.22h2.59M95.76 54.25h2.59M2.34 58.27h2.59M9.34 58.27h2.59M25.69 58.27h2.59M49.05 58.27h2.59M51.39 58.27h2.59M14.01 62.29h2.59"/>
<path stroke="#952766" d="M30.36 2.01h2.59M58.39 10.05h2.59M84.09 10.05h2.59M91.09 10.05h2.59M37.37 18.08h2.59M56.06 18.08h2.59M93.43 18.08h2.59M21.02 22.10h2.59M46.71 22.10h2.59M58.39 22.10h2.59M93.43 22.10h2.59M18.69 30.14h2.59M28.03 30.14h2.59M30.36 30.14h2.59M37.37 30.14h2.59M16.35 34.16h2.59M18.69 34.16h2.59M84.09 34.16h2.59M88.76 34.16h2.59M28.03 38.18h2.59M60.73 38.18h2.59M79.41 38.18h2.59M95.76 38.18h2.59M4.67 42.20h2.59M77.08 42.20h2.59M84.09 42.20h2.59M42.04 46.22h2.59M84.09 50.23h2.59M63.06 54.25h2.59M67.74 54.25h2.59M81.75 54.25h2.59M88.76 54.25h2.59M91.09 54.25h2.59M14.01 58.27h2.59M30.36 58.27h2.59M18.69 62.29h2.59M25.69 62.29h2.59"/>
<path stroke="#a32d60" d="M18.69 2.01h2.59M7.01 6.03h2.59M32.70 10.05h2.59M56.06 10.05h2.59M81.75 10.05h2.59M25.69 14.07h2.59M42.04 14.07h2.59M44.38 14.07h2.59M49.05 14.07h2.59M18.69 18.08h2.59M46.71 18.08h2.59M79.41 18.08h2.59M84.09 18.08h2.59M88.76 22.10h2.59M32.70 26.12h2.59M35.04 26.12h2.59M11.68 30.14h2.59M93.43 30.14h2.59M32.70 34.16h2.59M23.36 38.18h2.59M51.39 38.18h2.59M7.01 42.20h2.59M88.76 42.20h2.59M30.36 50.23h2.59M77.08 50.23h2.59M42.04 54.25h2.59M84.09 54.25h2.59M93.43 54.25h2.59M11.68 58.27h2.59M21.02 58.27h2.59M0.00 62.29h2.59"/>
<path stroke="#b03259" d="M4.67 6.03h2.59M91.09 6.03h2.59M35.04 10.05h2.59M14.01 18.08h2.59M21.02 18.08h2.59M28.03 18.08h2.59M30.36 18.08h2.59M49.05 18.08h2.59M58.39 18.08h2.59M77.08 18.08h2.59M23.36 22.10h2.59M49.05 22.10h2.59M91.09 22.10h2.59M56.06 26.12h2.59M60.73 26.12h2.59M7.01 34.16h2.59M28.03 34.16h2.59M79.41 34.16h2.59M84.09 38.18h2.59M0.00 42.20h2.59M65.40 42.20h2.59M74.74 42.20h2.59M18.69 46.22h2.59M46.71 46.22h2.59M7.01 50.23h2.59M74.74 50.23h2.59M37.37 54.25h2.59M65.40 54.25h2.59M4.67 58.27h2.59M16.35 58.27h2.59M28.03 58.27h2.59M53.72 58.27h2.59M60.73 58.27h2.59M28.03 62.29h2.59"/>
<path stroke="#be3853" d="M25.69 2.01h2.59M35.04 2.01h2.59M2.34 6.03h2.59M79.41 10.05h2.59M21.02 14.07h2.59M88.76 14.07h2.59M93.43 14.07h2.59M25.69 18.08h2.59M39.71 18.08h2.59M44.38 18.08h2.59M51.39 18.08h2.59M56.06 22.10h2.59M65.40 22.10h2.59M30.36 26.12h2.59M37.37 26.12h2.59M58.39 26.12h2.59M72.41 26.12h2.59M42.04 30.14h2.59M44.38 30.14h2.59M46.71 30.14h2.59M11.68 34.16h2.59M23.36 34.16h2.59M72.41 34.16h2.59M74.74 34.16h2.59M86.42 34.16h2.59M16.35 42.20h2.59M51.39 42.20h2.59M56.06 42.20h2.59M63.06 42.20h2.59M70.07 42.20h2.59M72.41 42.20h2.59M44.38 46.22h2.59M49.05 46.22h2.59M53.72 46.22h2.59M23.36 50.23h2.59M79.41 50.23h2.59M91.09 50.23h2.59M56.06 58.27h2.59"/>
<path stroke="#c9414a" d="M28.03 2.01h2.59M32.70 2.01h2.59M42.04 2.01h2.59M53.72 2.01h2.59M9.34 6.03h2.59M11.68 6.03h2.59M70.07 6.03h2.59M72.41 6.03h2.59M86.42 6.03h2.59M86.42 10.05h2.59M46.71 14.07h2.59M91.09 14.07h2.59M95.76 14.07h2.59M11.68 18.08h2.59M23.36 18.08h2.59M32.70 18.08h2.59M14.01 22.10h2.59M81.75 22.10h2.59M42.04 26.12h2.59M46.71 26.12h2.59M9.34 30.14h2.59M9.34 34.16h2.59M14.01 34.16h2.59M21.02 34.16h2.59M30.36 34.16h2.59M81.75 34.16h2.59M14.01 38.18h2.59M21.02 38.18h2.59M63.06 38.18h2.59M77.08 38.18h2.59M14.01 42.20h2.59M18.69 42.20h2.59M53.72 42.20h2.59M79.41 42.20h2.59M32.70 46.22h2.59M0.00 50.23h2.59M32.70 50.23h2.59M70.07 50.23h2.59M88.76 50.23h2.59M32.70 54.25h2.59M35.04 54.25h2.59M39.71 54.25h2.59M46.71 54.25h2.59M49.05 54.25h2.59M51.39 54.25h2.59M53.72 54.25h2.59M60.73 54.25h2.59M0.00 58.27h2.59M7.01 58.27h2.59M18.69 58.27h2.59M23.36 62.29h2.59"/>
<path stroke="#d44a41" d="M37.37 2.01h2.59M56.06 2.01h2.59M16.35 6.03h2.59M95.76 6.03h2.59M63.06 10.05h2.59M77.08 10.05h2.59M51.39 14.07h2.59M42.04 18.08h2.59M53.72 18.08h2.59M60.73 18.08h2.59M11.68 22.10h2.59M25.69 22.10h2.59M63.06 22.10h2.59M28.03 26.12h2.59M63.06 26.12h2.59M56.06 30.14h2.59M58.39 30.14h2.59M60.73 30.14h2.59M63.06 30.14h2.59M84.09 30.14h2.59M37.37 34.16h2.59M77.08 34.16h2.59M56.06 38.18h2.59M67.74 38.18h2.59M81.75 38.18h2.59M88.76 38.18h2.59M93.43 38.18h2.59M30.36 46.22h2.59M21.02 50.23h2.59M25.69 50.23h2.59M35.04 50.23h2.59M72.41 50.23h2.59M81.75 50.23h2.59M95.76 50.23h2.59M95.76 58.27h2.59M30.36 62.29h2.59M53.72 62.29h2.59"/>
<path stroke="#de5338" d="M39.71 2.01h2.59M46.71 2.01h2.59M49.05 2.01h2.59M93.43 2.01h2.59M95.76 2.01h2.59M51.39 10.05h2.59M65.40 10.05h2.59M72.41 10.05h2.59M74.74 10.05h2.59M14.01 14.07h2.59M23.36 14.07h2.59M53.72 14.07h2.59M16.35 18.08h2.59M63.06 18.08h2.59M65.40 18.08h2.59M67.74 18.08h2.59M72.41 18.08h2.59M67.74 22.10h2.59M79.41 22.10h2.59M84.09 22.10h2.59M86.42 22.10h2.59M11.68 26.12h2.59M65.40 26.12h2.59M67.74 26.12h2.59M7.01 30.14h2.59M91.09 30.14h2.59M95.76 30.14h2.59M35.04 34.16h2.59M49.05 34.16h2.59M70.07 34.16h2.59M11.68 38.18h2.59M16.35 38.18h2.59M58.39 38.18h2.59M65.40 38.18h2.59M72.41 38.18h2.59M74.74 38.18h2.59M86.42 38.18h2.59M58.39 42.20h2.59M60.73 42.20h2.59M0.00 46.22h2.59M16.35 46.22h2.59M25.69 46.22h2.59M51.39 46.22h2.59M56.06 46.22h2.59M60.73 46.22h2.59M37.37 50.23h2.59M58.39 54.25h2.59M23.36 58.27h2.59"/>
<path stroke="#e5602e" d="M65.40 2.01h2.59M88.76 2.01h2.59M91.09 2.01h2.59M84.09 6.03h2.59M88.76 6.03h2.59M28.03 10.05h2.59M39.71 10.05h2.59M18.69 14.07h2.59M56.06 14.07h2.59M84.09 14.07h2.59M35.04 18.08h2.59M70.07 18.08h2.59M28.03 22.10h2.59M42.04 22.10h2.59M60.73 22.10h2.59M74.74 22.10h2.59M77.08 22.10h2.59M25.69 26.12h2.59M2.34 34.16h2.59M4.67 34.16h2.59M39.71 34.16h2.59M23.36 46.22h2.59M11.68 50.23h2.59M14.01 50.23h2.59M16.35 50.23h2.59M86.42 50.23h2.59M93.43 50.23h2.59M44.38 54.25h2.59M56.06 54.25h2.59M63.06 58.27h2.59M88.76 58.27h2.59M58.39 62.29h2.59M60.73 62.29h2.59M93.43 62.29h2.59M95.76 62.29h2.59"/>
<path stroke="#ed6d23" d="M44.38 2.01h2.59M51.39 2.01h2.59M58.39 2.01h2.59M84.09 2.01h2.59M14.01 6.03h2.59M18.69 6.03h2.59M28.03 6.03h2.59M67.74 6.03h2.59M74.74 6.03h2.59M37.37 10.05h2.59M53.72 10.05h2.59M67.74 10.05h2.59M11.68 14.07h2.59M2.34 22.10h2.59M7.01 22.10h2.59M72.41 22.10h2.59M65.40 30.14h2.59M88.76 30.14h2.59M0.00 34.16h2.59M42.04 34.16h2.59M9.34 38.18h2.59M18.69 38.18h2.59M70.07 38.18h2.59M21.02 42.20h2.59M21.02 46.22h2.59M9.34 50.23h2.59M18.69 50.23h2.59M28.03 50.23h2.59M42.04 50.23h2.59M63.06 50.23h2.59M67.74 50.23h2.59M2.34 54.25h2.59M91.09 58.27h2.59"/>
<path stroke="#f37a18" d="M60.73 2.01h2.59M86.42 2.01h2.59M65.40 6.03h2.59M11.68 10.05h2.59M42.04 10.05h2.59M79.41 14.07h2.59M81.75 14.07h2.59M86.42 14.07h2.59M9.34 18.08h2.59M9.34 22.10h2.59M23.36 26.12h2.59M95.76 26.12h2.59M49.05 30.14h2.59M51.39 30.14h2.59M67.74 30.14h2.59M79.41 30.14h2.59M7.01 38.18h2.59M14.01 46.22h2.59M58.39 46.22h2.59M39.71 50.23h2.59M49.05 50.23h2.59M86.42 58.27h2.59M93.43 58.27h2.59M56.06 62.29h2.59M63.06 62.29h2.59M67.74 62.29h2.59M79.41 62.29h2.59M81.75 62.29h2.59M88.76 62.29h2.59"/>
<path stroke="#f68913" d="M63.06 2.01h2.59M67.74 2.01h2.59M74.74 2.01h2.59M77.08 2.01h2.59M70.07 10.05h2.59M16.35 14.07h2.59M77.08 14.07h2.59M74.74 18.08h2.59M4.67 22.10h2.59M39.71 22.10h2.59M14.01 26.12h2.59M70.07 26.12h2.59M74.74 26.12h2.59M86.42 30.14h2.59M56.06 34.16h2.59M60.73 34.16h2.59M63.06 34.16h2.59M23.36 42.20h2.59M30.36 42.20h2.59M2.34 46.22h2.59M28.03 46.22h2.59M46.71 50.23h2.59M65.40 50.23h2.59M16.35 54.25h2.59M28.03 54.25h2.59M30.36 54.25h2.59M67.74 58.27h2.59M51.39 62.29h2.59M74.74 62.29h2.59M77.08 62.29h2.59M91.09 62.29h2.59"/>
<path stroke="#f9980e" d="M21.02 6.03h2.59M23.36 6.03h2.59M79.41 6.03h2.59M49.05 10.05h2.59M9.34 14.07h2.59M70.07 22.10h2.59M4.67 26.12h2.59M7.01 26.12h2.59M9.34 26.12h2.59M16.35 26.12h2.59M18.69 26.12h2.59M77.08 26.12h2.59M2.34 30.14h2.59M4.67 30.14h2.59M46.71 34.16h2.59M51.39 34.16h2.59M65.40 34.16h2.59M2.34 38.18h2.59M91.09 38.18h2.59M28.03 42.20h2.59M35.04 42.20h2.59M39.71 42.20h2.59M49.05 42.20h2.59M4.67 54.25h2.59M7.01 54.25h2.59M84.09 58.27h2.59"/>
<path stroke="#fca70c" d="M25.69 6.03h2.59M32.70 6.03h2.59M56.06 6.03h2.59M63.06 6.03h2.59M81.75 6.03h2.59M16.35 10.05h2.59M25.69 10.05h2.59M46.71 10.05h2.59M7.01 18.08h2.59M21.02 26.12h2.59M53.72 30.14h2.59M70.07 30.14h2.59M81.75 30.14h2.59M53.72 34.16h2.59M67.74 34.16h2.59M32.70 42.20h2.59M65.40 46.22h2.59M93.43 46.22h2.59M51.39 50.23h2.59M14.01 54.25h2.59M18.69 54.25h2.59M70.07 58.27h2.59M72.41 58.27h2.59M32.70 62.29h2.59M72.41 62.29h2.59"/>
<path stroke="#fab820" d="M79.41 2.01h2.59M81.75 2.01h2.59M30.36 6.03h2.59M37.37 6.03h2.59M51.39 6.03h2.59M58.39 6.03h2.59M77.08 6.03h2.59M9.34 10.05h2.59M14.01 10.05h2.59M30.36 10.05h2.59M44.38 10.05h2.59M72.41 14.07h2.59M4.67 18.08h2.59M0.00 22.10h2.59M32.70 22.10h2.59M93.43 26.12h2.59M0.00 30.14h2.59M4.67 38.18h2.59M25.69 42.20h2.59M63.06 46.22h2.59M91.09 46.22h2.59M44.38 50.23h2.59M11.68 54.25h2.59M23.36 54.25h2.59M65.40 58.27h2.59M37.37 62.29h2.59M70.07 62.29h2.59M86.42 62.29h2.59"/>
<path stroke="#f8c834" d="M70.07 2.01h2.59M72.41 2.01h2.59M49.05 6.03h2.59M23.36 10.05h2.59M30.36 22.10h2.59M88.76 26.12h2.59M72.41 30.14h2.59M0.00 38.18h2.59M37.37 42.20h2.59M44.38 42.20h2.59M4.67 46.22h2.59M7.01 46.22h2.59M74.74 46.22h2.59M77.08 46.22h2.59M81.75 46.22h2.59M88.76 46.22h2.59M95.76 46.22h2.59M53.72 50.23h2.59M49.05 62.29h2.59M65.40 62.29h2.59"/>
<path stroke="#f6d849" d="M35.04 6.03h2.59M46.71 6.03h2.59M60.73 6.03h2.59M0.00 14.07h2.59M58.39 14.07h2.59M0.00 18.08h2.59M84.09 26.12h2.59M86.42 26.12h2.59M91.09 26.12h2.59M46.71 42.20h2.59M9.34 46.22h2.59M11.68 46.22h2.59M67.74 46.22h2.59M84.09 46.22h2.59M58.39 50.23h2.59M21.02 54.25h2.59M84.09 62.29h2.59"/>
<path stroke="#f8e669" d="M53.72 6.03h2.59M7.01 10.05h2.59M18.69 10.05h2.59M4.67 14.07h2.59M2.34 18.08h2.59M37.37 22.10h2.59M79.41 26.12h2.59M77.08 30.14h2.59M44.38 34.16h2.59M58.39 34.16h2.59M9.34 54.25h2.59M77.08 58.27h2.59M44.38 62.29h2.59M46.71 62.29h2.59"/>
<path stroke="#faf388" d="M39.71 6.03h2.59M42.04 6.03h2.59M44.38 6.03h2.59M0.00 10.05h2.59M2.34 10.05h2.59M4.67 10.05h2.59M21.02 10.05h2.59M2.34 14.07h2.59M7.01 14.07h2.59M60.73 14.07h2.59M63.06 14.07h2.59M65.40 14.07h2.59M67.74 14.07h2.59M70.07 14.07h2.59M74.74 14.07h2.59M35.04 22.10h2.59M0.00 26.12h2.59M2.34 26.12h2.59M81.75 26.12h2.59M74.74 30.14h2.59M42.04 42.20h2.59M70.07 46.22h2.59M72.41 46.22h2.59M79.41 46.22h2.59M86.42 46.22h2.59M56.06 50.23h2.59M60.73 50.23h2.59M0.00 54.25h2.59M25.69 54.25h2.59M74.74 58.27h2.59M79.41 58.27h2.59M81.75 58.27h2.59M35.04 62.29h2.59M39.71 62.29h2.59M42.04 62.29h2.59"/>
</g>
<rect x="168.40" y="395.50" width="98.10" height="64.30" fill="none" stroke="#000" stroke-width="1.1" />
<line x1="217.60" y1="395.50" x2="217.60" y2="459.80" stroke="#fff" stroke-width="1.3" stroke-dasharray="4.8 3.4"/>
<g transform="translate(168.40,462.00)" stroke-width="4.24" fill="none">
<rect x="0.00" y="0.00" width="98.10" height="72.80" fill="#b03060" />
<path stroke="#190b3c" d="M18.69 58.64h2.59M88.76 62.69h2.59M93.43 62.69h2.59M65.40 70.78h2.59M81.75 70.78h2.59"/>
<path stroke="#270b4c" d="M11.68 58.64h2.59M81.75 62.69h2.59M77.08 70.78h2.59"/>
<path stroke="#360a5b" d="M11.68 10.11h2.59M81.75 54.60h2.59M2.34 58.64h2.59M95.76 62.69h2.59M81.75 66.73h2.59M88.76 66.73h2.59M95.76 66.73h2.59M25.69 70.78h2.59M35.04 70.78h2.59M72.41 70.78h2.59"/>
<path stroke="#440b68" d="M16.35 10.11h2.59M18.69 34.38h2.59M95.76 54.60h2.59M9.34 58.64h2.59M39.71 70.78h2.59M58.39 70.78h2.59M74.74 70.78h2.59M79.41 70.78h2.59M88.76 70.78h2.59M95.76 70.78h2.59"/>
<path stroke="#520f6a" d="M51.39 6.07h2.59M88.76 14.16h2.59M0.00 26.29h2.59M53.72 46.51h2.59M93.43 46.51h2.59M95.76 46.51h2.59M28.03 50.56h2.59M79.41 54.60h2.59M93.43 54.60h2.59M0.00 58.64h2.59M4.67 58.64h2.59M23.36 58.64h2.59M84.09 62.69h2.59M91.09 62.69h2.59M93.43 66.73h2.59M30.36 70.78h2.59M44.38 70.78h2.59M46.71 70.78h2.59M60.73 70.78h2.59M67.74 70.78h2.59M93.43 70.78h2.59"/>
<path stroke="#5f136c" d="M67.74 14.16h2.59M81.75 14.16h2.59M93.43 14.16h2.59M56.06 38.42h2.59M21.02 42.47h2.59M58.39 46.51h2.59M63.06 46.51h2.59M23.36 50.56h2.59M32.70 50.56h2.59M37.37 50.56h2.59M86.42 54.60h2.59M14.01 58.64h2.59M21.02 58.64h2.59M28.03 58.64h2.59M32.70 58.64h2.59M79.41 62.69h2.59M86.42 62.69h2.59M79.41 66.73h2.59M84.09 66.73h2.59M86.42 66.73h2.59M91.09 66.73h2.59M23.36 70.78h2.59M28.03 70.78h2.59M32.70 70.78h2.59M49.05 70.78h2.59M63.06 70.78h2.59M70.07 70.78h2.59M84.09 70.78h2.59M86.42 70.78h2.59"/>
<path stroke="#6c186e" d="M56.06 6.07h2.59M65.40 14.16h2.59M84.09 14.16h2.59M95.76 14.16h2.59M2.34 18.20h2.59M49.05 22.24h2.59M56.06 22.24h2.59M4.67 26.29h2.59M9.34 30.33h2.59M0.00 42.47h2.59M2.34 42.47h2.59M7.01 42.47h2.59M14.01 42.47h2.59M18.69 42.47h2.59M42.04 46.51h2.59M56.06 46.51h2.59M77.08 46.51h2.59M79.41 46.51h2.59M21.02 50.56h2.59M35.04 50.56h2.59M16.35 58.64h2.59M30.36 58.64h2.59M77.08 62.69h2.59M37.37 70.78h2.59"/>
<path stroke="#7a1d6b" d="M16.35 2.02h2.59M72.41 2.02h2.59M9.34 6.07h2.59M60.73 6.07h2.59M0.00 10.11h2.59M79.41 10.11h2.59M49.05 38.42h2.59M51.39 38.42h2.59M81.75 38.42h2.59M60.73 46.51h2.59M81.75 46.51h2.59M84.09 46.51h2.59M84.09 54.60h2.59M88.76 54.60h2.59M25.69 58.64h2.59M16.35 70.78h2.59M42.04 70.78h2.59M51.39 70.78h2.59M53.72 70.78h2.59M91.09 70.78h2.59"/>
<path stroke="#882269" d="M21.02 2.02h2.59M32.70 2.02h2.59M49.05 2.02h2.59M44.38 6.07h2.59M46.71 6.07h2.59M53.72 6.07h2.59M58.39 6.07h2.59M70.07 6.07h2.59M7.01 10.11h2.59M9.34 10.11h2.59M14.01 10.11h2.59M70.07 10.11h2.59M60.73 14.16h2.59M74.74 14.16h2.59M91.09 18.20h2.59M0.00 22.24h2.59M63.06 22.24h2.59M84.09 22.24h2.59M32.70 30.33h2.59M65.40 46.51h2.59M72.41 46.51h2.59M91.09 46.51h2.59M30.36 50.56h2.59M67.74 54.60h2.59M72.41 54.60h2.59M7.01 58.64h2.59M77.08 66.73h2.59M18.69 70.78h2.59M21.02 70.78h2.59M56.06 70.78h2.59"/>
<path stroke="#952766" d="M0.00 6.07h2.59M37.37 6.07h2.59M67.74 6.07h2.59M2.34 10.11h2.59M74.74 10.11h2.59M72.41 14.16h2.59M86.42 14.16h2.59M91.09 14.16h2.59M0.00 18.20h2.59M4.67 18.20h2.59M7.01 18.20h2.59M2.34 22.24h2.59M4.67 22.24h2.59M25.69 22.24h2.59M30.36 22.24h2.59M79.41 22.24h2.59M86.42 22.24h2.59M44.38 26.29h2.59M77.08 26.29h2.59M11.68 30.33h2.59M77.08 38.42h2.59M4.67 42.47h2.59M28.03 42.47h2.59M67.74 46.51h2.59M70.07 46.51h2.59M74.74 46.51h2.59M86.42 46.51h2.59M25.69 50.56h2.59M74.74 54.60h2.59"/>
<path stroke="#a32d60" d="M11.68 2.02h2.59M18.69 2.02h2.59M44.38 2.02h2.59M51.39 2.02h2.59M4.67 6.07h2.59M7.01 6.07h2.59M14.01 6.07h2.59M63.06 6.07h2.59M65.40 6.07h2.59M4.67 10.11h2.59M18.69 10.11h2.59M72.41 10.11h2.59M81.75 10.11h2.59M35.04 14.16h2.59M70.07 14.16h2.59M88.76 18.20h2.59M44.38 22.24h2.59M51.39 22.24h2.59M53.72 22.24h2.59M67.74 22.24h2.59M70.07 22.24h2.59M77.08 22.24h2.59M2.34 26.29h2.59M46.71 26.29h2.59M51.39 26.29h2.59M53.72 26.29h2.59M74.74 26.29h2.59M44.38 30.33h2.59M74.74 30.33h2.59M16.35 34.38h2.59M25.69 34.38h2.59M53.72 38.42h2.59M86.42 38.42h2.59M9.34 42.47h2.59M25.69 42.47h2.59M88.76 46.51h2.59M16.35 50.56h2.59M39.71 50.56h2.59M42.04 50.56h2.59M0.00 54.60h2.59M77.08 54.60h2.59M91.09 54.60h2.59M72.41 66.73h2.59M14.01 70.78h2.59"/>
<path stroke="#b03259" d="M23.36 2.02h2.59M25.69 2.02h2.59M74.74 2.02h2.59M77.08 2.02h2.59M79.41 2.02h2.59M16.35 6.07h2.59M23.36 6.07h2.59M32.70 6.07h2.59M58.39 10.11h2.59M77.08 10.11h2.59M18.69 14.16h2.59M23.36 14.16h2.59M28.03 14.16h2.59M44.38 14.16h2.59M9.34 18.20h2.59M32.70 22.24h2.59M37.37 26.29h2.59M39.71 26.29h2.59M49.05 26.29h2.59M81.75 26.29h2.59M84.09 26.29h2.59M91.09 26.29h2.59M28.03 30.33h2.59M37.37 30.33h2.59M23.36 34.38h2.59M35.04 34.38h2.59M46.71 38.42h2.59M72.41 38.42h2.59M11.68 42.47h2.59M18.69 50.56h2.59M44.38 50.56h2.59M2.34 54.60h2.59M37.37 58.64h2.59M72.41 62.69h2.59M67.74 66.73h2.59M74.74 66.73h2.59"/>
<path stroke="#be3853" d="M35.04 2.02h2.59M37.37 2.02h2.59M11.68 6.07h2.59M42.04 6.07h2.59M72.41 6.07h2.59M53.72 10.11h2.59M25.69 14.16h2.59M58.39 14.16h2.59M79.41 14.16h2.59M16.35 18.20h2.59M18.69 18.20h2.59M23.36 18.20h2.59M25.69 18.20h2.59M32.70 18.20h2.59M84.09 18.20h2.59M28.03 22.24h2.59M35.04 22.24h2.59M39.71 22.24h2.59M42.04 22.24h2.59M46.71 22.24h2.59M58.39 22.24h2.59M65.40 22.24h2.59M88.76 22.24h2.59M91.09 22.24h2.59M56.06 26.29h2.59M67.74 26.29h2.59M14.01 30.33h2.59M23.36 30.33h2.59M42.04 30.33h2.59M77.08 30.33h2.59M14.01 34.38h2.59M21.02 34.38h2.59M28.03 34.38h2.59M32.70 34.38h2.59M70.07 34.38h2.59M2.34 38.42h2.59M9.34 38.42h2.59M11.68 38.42h2.59M25.69 38.42h2.59M84.09 38.42h2.59M23.36 42.47h2.59M51.39 46.51h2.59M7.01 50.56h2.59M14.01 50.56h2.59M46.71 50.56h2.59M49.05 50.56h2.59"/>
<path stroke="#c9414a" d="M14.01 2.02h2.59M30.36 2.02h2.59M65.40 2.02h2.59M30.36 6.07h2.59M39.71 6.07h2.59M60.73 10.11h2.59M56.06 14.16h2.59M63.06 14.16h2.59M77.08 14.16h2.59M30.36 18.20h2.59M79.41 18.20h2.59M81.75 22.24h2.59M7.01 26.29h2.59M70.07 26.29h2.59M72.41 26.29h2.59M79.41 26.29h2.59M86.42 26.29h2.59M88.76 26.29h2.59M7.01 30.33h2.59M16.35 30.33h2.59M72.41 30.33h2.59M79.41 30.33h2.59M46.71 34.38h2.59M67.74 34.38h2.59M30.36 38.42h2.59M58.39 38.42h2.59M70.07 38.42h2.59M74.74 38.42h2.59M79.41 38.42h2.59M30.36 42.47h2.59M21.02 46.51h2.59M28.03 46.51h2.59M39.71 46.51h2.59M44.38 46.51h2.59M46.71 46.51h2.59M49.05 46.51h2.59M58.39 50.56h2.59M9.34 54.60h2.59M63.06 54.60h2.59M70.07 54.60h2.59M35.04 58.64h2.59M74.74 62.69h2.59"/>
<path stroke="#d44a41" d="M9.34 2.02h2.59M28.03 2.02h2.59M39.71 2.02h2.59M53.72 2.02h2.59M67.74 2.02h2.59M81.75 2.02h2.59M91.09 2.02h2.59M21.02 6.07h2.59M25.69 6.07h2.59M28.03 6.07h2.59M35.04 6.07h2.59M21.02 10.11h2.59M51.39 10.11h2.59M65.40 10.11h2.59M86.42 10.11h2.59M21.02 14.16h2.59M37.37 14.16h2.59M39.71 14.16h2.59M49.05 14.16h2.59M14.01 18.20h2.59M37.37 18.20h2.59M60.73 22.24h2.59M72.41 22.24h2.59M74.74 22.24h2.59M93.43 22.24h2.59M32.70 26.29h2.59M58.39 26.29h2.59M95.76 26.29h2.59M0.00 30.33h2.59M21.02 30.33h2.59M39.71 30.33h2.59M46.71 30.33h2.59M70.07 30.33h2.59M30.36 34.38h2.59M39.71 34.38h2.59M53.72 34.38h2.59M56.06 34.38h2.59M72.41 34.38h2.59M79.41 34.38h2.59M4.67 38.42h2.59M32.70 38.42h2.59M42.04 38.42h2.59M44.38 38.42h2.59M60.73 38.42h2.59M65.40 38.42h2.59M88.76 38.42h2.59M16.35 42.47h2.59M30.36 46.51h2.59M35.04 46.51h2.59M37.37 46.51h2.59M63.06 50.56h2.59M65.40 54.60h2.59M39.71 58.64h2.59M63.06 66.73h2.59M70.07 66.73h2.59M11.68 70.78h2.59"/>
<path stroke="#de5338" d="M95.76 2.02h2.59M18.69 6.07h2.59M49.05 6.07h2.59M74.74 6.07h2.59M67.74 10.11h2.59M84.09 10.11h2.59M14.01 14.16h2.59M30.36 14.16h2.59M42.04 14.16h2.59M21.02 18.20h2.59M28.03 18.20h2.59M93.43 18.20h2.59M95.76 18.20h2.59M30.36 26.29h2.59M35.04 26.29h2.59M65.40 26.29h2.59M25.69 30.33h2.59M30.36 30.33h2.59M35.04 30.33h2.59M65.40 30.33h2.59M42.04 34.38h2.59M65.40 34.38h2.59M7.01 38.42h2.59M14.01 38.42h2.59M18.69 38.42h2.59M28.03 38.42h2.59M35.04 38.42h2.59M37.37 38.42h2.59M4.67 54.60h2.59M70.07 62.69h2.59M56.06 66.73h2.59M65.40 66.73h2.59"/>
<path stroke="#e5602e" d="M42.04 2.02h2.59M84.09 2.02h2.59M86.42 2.02h2.59M88.76 2.02h2.59M2.34 6.07h2.59M95.76 6.07h2.59M46.71 10.11h2.59M49.05 10.11h2.59M63.06 10.11h2.59M88.76 10.11h2.59M95.76 10.11h2.59M9.34 14.16h2.59M32.70 14.16h2.59M53.72 14.16h2.59M11.68 18.20h2.59M7.01 22.24h2.59M42.04 26.29h2.59M2.34 30.33h2.59M18.69 30.33h2.59M49.05 30.33h2.59M67.74 30.33h2.59M81.75 30.33h2.59M37.37 34.38h2.59M63.06 34.38h2.59M0.00 38.42h2.59M16.35 38.42h2.59M23.36 38.42h2.59M63.06 38.42h2.59M67.74 38.42h2.59M91.09 38.42h2.59M23.36 46.51h2.59M25.69 46.51h2.59M14.01 54.60h2.59M42.04 58.64h2.59M95.76 58.64h2.59M49.05 66.73h2.59"/>
<path stroke="#ed6d23" d="M7.01 2.02h2.59M46.71 2.02h2.59M77.08 6.07h2.59M93.43 6.07h2.59M23.36 10.11h2.59M81.75 18.20h2.59M23.36 22.24h2.59M63.06 26.29h2.59M93.43 26.29h2.59M4.67 30.33h2.59M60.73 30.33h2.59M84.09 30.33h2.59M2.34 34.38h2.59M11.68 34.38h2.59M44.38 34.38h2.59M51.39 34.38h2.59M74.74 34.38h2.59M39.71 38.42h2.59M32.70 46.51h2.59M51.39 50.56h2.59M53.72 50.56h2.59M11.68 54.60h2.59M58.39 54.60h2.59M44.38 58.64h2.59M81.75 58.64h2.59M88.76 58.64h2.59M44.38 66.73h2.59M9.34 70.78h2.59"/>
<path stroke="#f37a18" d="M2.34 2.02h2.59M56.06 2.02h2.59M70.07 2.02h2.59M93.43 2.02h2.59M56.06 10.11h2.59M91.09 10.11h2.59M46.71 14.16h2.59M16.35 22.24h2.59M37.37 22.24h2.59M95.76 22.24h2.59M14.01 26.29h2.59M51.39 30.33h2.59M7.01 34.38h2.59M77.08 34.38h2.59M81.75 34.38h2.59M84.09 34.38h2.59M39.71 42.47h2.59M93.43 42.47h2.59M11.68 46.51h2.59M9.34 50.56h2.59M56.06 50.56h2.59M60.73 50.56h2.59M16.35 54.60h2.59M18.69 54.60h2.59M53.72 54.60h2.59M56.06 54.60h2.59M86.42 58.64h2.59M58.39 66.73h2.59M7.01 70.78h2.59"/>
<path stroke="#f68913" d="M58.39 2.02h2.59M63.06 2.02h2.59M91.09 6.07h2.59M11.68 14.16h2.59M35.04 18.20h2.59M39.71 18.20h2.59M18.69 22.24h2.59M21.02 22.24h2.59M28.03 26.29h2.59M53.72 30.33h2.59M58.39 30.33h2.59M63.06 30.33h2.59M49.05 34.38h2.59M58.39 34.38h2.59M88.76 34.38h2.59M95.76 34.38h2.59M21.02 38.42h2.59M32.70 42.47h2.59M65.40 42.47h2.59M95.76 42.47h2.59M14.01 46.51h2.59M18.69 46.51h2.59M84.09 58.64h2.59M93.43 58.64h2.59M32.70 66.73h2.59M39.71 66.73h2.59M53.72 66.73h2.59M60.73 66.73h2.59"/>
<path stroke="#f9980e" d="M60.73 2.02h2.59M88.76 6.07h2.59M44.38 10.11h2.59M51.39 14.16h2.59M72.41 18.20h2.59M74.74 18.20h2.59M86.42 18.20h2.59M9.34 26.29h2.59M23.36 26.29h2.59M25.69 26.29h2.59M60.73 26.29h2.59M86.42 30.33h2.59M93.43 30.33h2.59M60.73 34.38h2.59M86.42 34.38h2.59M37.37 42.47h2.59M42.04 42.47h2.59M60.73 42.47h2.59M67.74 42.47h2.59M77.08 42.47h2.59M7.01 46.51h2.59M9.34 46.51h2.59M7.01 54.60h2.59M25.69 54.60h2.59M60.73 54.60h2.59M65.40 58.64h2.59M72.41 58.64h2.59M77.08 58.64h2.59M21.02 66.73h2.59M35.04 66.73h2.59M42.04 66.73h2.59M51.39 66.73h2.59"/>
<path stroke="#fca70c" d="M0.00 2.02h2.59M79.41 6.07h2.59M81.75 6.07h2.59M84.09 6.07h2.59M86.42 6.07h2.59M16.35 14.16h2.59M42.04 18.20h2.59M14.01 22.24h2.59M56.06 30.33h2.59M4.67 34.38h2.59M9.34 34.38h2.59M93.43 38.42h2.59M46.71 42.47h2.59M49.05 42.47h2.59M51.39 42.47h2.59M88.76 42.47h2.59M16.35 46.51h2.59M4.67 50.56h2.59M11.68 50.56h2.59M95.76 50.56h2.59M23.36 54.60h2.59M46.71 58.64h2.59M49.05 58.64h2.59M58.39 58.64h2.59M79.41 58.64h2.59M91.09 58.64h2.59M63.06 62.69h2.59M65.40 62.69h2.59M14.01 66.73h2.59M25.69 66.73h2.59M28.03 66.73h2.59M37.37 66.73h2.59M46.71 66.73h2.59"/>
<path stroke="#fab820" d="M4.67 2.02h2.59M39.71 10.11h2.59M93.43 10.11h2.59M7.01 14.16h2.59M44.38 18.20h2.59M58.39 18.20h2.59M77.08 18.20h2.59M93.43 34.38h2.59M95.76 38.42h2.59M56.06 42.47h2.59M70.07 42.47h2.59M72.41 42.47h2.59M91.09 42.47h2.59M0.00 50.56h2.59M65.40 50.56h2.59M88.76 50.56h2.59M93.43 50.56h2.59M21.02 54.60h2.59M67.74 58.64h2.59M70.07 58.64h2.59M67.74 62.69h2.59M23.36 66.73h2.59"/>
<path stroke="#f8c834" d="M42.04 10.11h2.59M0.00 14.16h2.59M70.07 18.20h2.59M9.34 22.24h2.59M21.02 26.29h2.59M88.76 30.33h2.59M91.09 30.33h2.59M95.76 30.33h2.59M91.09 34.38h2.59M35.04 42.47h2.59M44.38 42.47h2.59M58.39 42.47h2.59M63.06 42.47h2.59M2.34 50.56h2.59M72.41 50.56h2.59M91.09 50.56h2.59M63.06 58.64h2.59M56.06 62.69h2.59M18.69 66.73h2.59M30.36 66.73h2.59"/>
<path stroke="#f6d849" d="M25.69 10.11h2.59M28.03 10.11h2.59M35.04 10.11h2.59M2.34 14.16h2.59M4.67 14.16h2.59M53.72 18.20h2.59M18.69 26.29h2.59M53.72 42.47h2.59M74.74 42.47h2.59M79.41 42.47h2.59M67.74 50.56h2.59M70.07 50.56h2.59M79.41 50.56h2.59M28.03 54.60h2.59M30.36 54.60h2.59M46.71 54.60h2.59M51.39 54.60h2.59M53.72 58.64h2.59M60.73 58.64h2.59M74.74 58.64h2.59M42.04 62.69h2.59M49.05 62.69h2.59M60.73 62.69h2.59"/>
<path stroke="#f8e669" d="M30.36 10.11h2.59M65.40 18.20h2.59M11.68 22.24h2.59M0.00 34.38h2.59M81.75 42.47h2.59M84.09 42.47h2.59M86.42 42.47h2.59M74.74 50.56h2.59M77.08 50.56h2.59M44.38 54.60h2.59M49.05 54.60h2.59M53.72 62.69h2.59M58.39 62.69h2.59M9.34 66.73h2.59M16.35 66.73h2.59M0.00 70.78h2.59"/>
<path stroke="#faf388" d="M32.70 10.11h2.59M37.37 10.11h2.59M46.71 18.20h2.59M49.05 18.20h2.59M51.39 18.20h2.59M56.06 18.20h2.59M60.73 18.20h2.59M63.06 18.20h2.59M67.74 18.20h2.59M11.68 26.29h2.59M16.35 26.29h2.59M0.00 46.51h2.59M2.34 46.51h2.59M4.67 46.51h2.59M81.75 50.56h2.59M84.09 50.56h2.59M86.42 50.56h2.59M32.70 54.60h2.59M35.04 54.60h2.59M37.37 54.60h2.59M39.71 54.60h2.59M42.04 54.60h2.59M51.39 58.64h2.59M56.06 58.64h2.59M0.00 62.69h2.59M2.34 62.69h2.59M4.67 62.69h2.59M7.01 62.69h2.59M9.34 62.69h2.59M11.68 62.69h2.59M14.01 62.69h2.59M16.35 62.69h2.59M18.69 62.69h2.59M21.02 62.69h2.59M23.36 62.69h2.59M25.69 62.69h2.59M28.03 62.69h2.59M30.36 62.69h2.59M32.70 62.69h2.59M35.04 62.69h2.59M37.37 62.69h2.59M39.71 62.69h2.59M44.38 62.69h2.59M46.71 62.69h2.59M51.39 62.69h2.59M0.00 66.73h2.59M2.34 66.73h2.59M4.67 66.73h2.59M7.01 66.73h2.59M11.68 66.73h2.59M2.34 70.78h2.59M4.67 70.78h2.59"/>
</g>
<rect x="168.40" y="462.00" width="98.10" height="72.80" fill="none" stroke="#000" stroke-width="1.1" />
<line x1="217.60" y1="462.00" x2="217.60" y2="534.80" stroke="#fff" stroke-width="1.3" stroke-dasharray="4.8 3.4"/>
<text x="163.30" y="429.80" font-size="15.8" text-anchor="middle" fill="#111" transform="rotate(-90 163.30 429.80)" stroke="#111" stroke-width="0.2">Control</text>
<text x="163.30" y="494.50" font-size="15.8" text-anchor="middle" fill="#111" transform="rotate(-90 163.30 494.50)" stroke="#111" stroke-width="0.2">Opn4<tspan dy="-6.6" font-size="9.2" fill-opacity="1">-/-</tspan></text>
<defs><linearGradient id="cbJ" x1="0" y1="1" x2="0" y2="0"><stop offset="0.0" stop-color="#090419"/><stop offset="0.1" stop-color="#250b49"/><stop offset="0.2" stop-color="#4c0d6a"/><stop offset="0.3" stop-color="#721a6d"/><stop offset="0.4" stop-color="#982865"/><stop offset="0.5" stop-color="#be3853"/><stop offset="0.6" stop-color="#dc503b"/><stop offset="0.7" stop-color="#f1741c"/><stop offset="0.8" stop-color="#fb9e0c"/><stop offset="0.9" stop-color="#f7cc38"/><stop offset="1.0" stop-color="#faf388"/></linearGradient></defs>
<rect x="273.70" y="439.00" width="8.20" height="45.50" fill="url(#cbJ)" stroke="#000" stroke-width="0.9" />
<text x="284.00" y="444.20" font-size="11.2" fill="#111" stroke="#111" stroke-width="0.2">Max</text>
<text x="284.30" y="484.60" font-size="11.2" fill="#111" stroke="#111" stroke-width="0.2">0</text>
<text x="273.80" y="493.60" font-size="11" fill="#111" stroke="#111" stroke-width="0.2">z-score</text>
<line x1="218.80" y1="540.00" x2="266.50" y2="540.00" stroke="#6e6e6e" stroke-width="1.2" />
<text x="244.60" y="551.00" font-size="11.3" text-anchor="middle" fill="#111" stroke="#111" stroke-width="0.2">10 s</text>
<!-- panelK -->
<text x="296.40" y="379.60" font-size="17" stroke="#000" stroke-width="0.2">K.</text>
<text x="358.60" y="383.00" font-size="14.6" fill="#111" stroke="#111" stroke-width="0.2">Edge</text>
<line x1="397.60" y1="377.90" x2="407.50" y2="377.90" stroke="#111" stroke-width="1.1" />
<polygon points="410.2,377.9 406.0,375.9 406.0,379.9" fill="#111" />
<text x="422.80" y="383.00" font-size="14.6" fill="#111" stroke="#111" stroke-width="0.2">TZ</text>
<polygon points="340.4,413.2 341.0,413.4 341.6,412.8 342.3,412.0 342.9,410.9 343.5,410.3 344.1,409.1 344.8,407.4 345.4,406.7 346.0,408.5 346.6,408.1 347.3,408.6 347.9,408.8 348.5,409.7 349.1,409.8 349.7,410.7 350.4,411.6 351.0,411.0 351.6,409.9 352.2,410.2 352.9,410.1 353.5,410.6 354.1,410.1 354.7,412.3 355.4,413.0 356.0,414.2 356.6,414.6 357.2,414.4 357.8,413.9 358.5,415.3 359.1,416.8 359.7,415.7 360.3,415.4 361.0,416.1 361.6,418.0 362.2,418.8 362.8,419.0 363.5,421.0 364.1,421.6 364.7,421.9 365.3,420.6 365.9,420.7 366.6,421.0 367.2,421.1 367.8,420.4 368.4,421.3 369.1,420.7 369.7,420.0 370.3,417.4 370.9,418.6 371.6,419.3 372.2,419.1 372.8,419.4 373.4,419.7 374.0,419.0 374.7,415.8 375.3,414.0 375.9,414.3 376.5,414.7 377.2,414.5 377.8,414.2 378.4,413.4 379.0,415.7 379.7,413.7 380.3,413.6 380.9,412.7 381.5,412.2 382.1,413.2 382.8,412.8 383.4,410.3 384.0,410.4 384.6,411.2 385.3,412.0 385.9,412.0 386.5,411.7 387.1,411.4 387.8,412.5 388.4,411.4 389.0,410.2 389.6,410.4 390.2,410.9 390.9,411.0 391.5,412.1 392.1,409.3 392.7,410.7 393.4,409.8 394.0,411.3 394.6,410.0 395.2,410.6 395.9,409.3 396.5,409.1 397.1,411.4 397.7,411.0 398.3,411.2 399.0,410.8 399.6,410.7 400.2,411.7 400.8,412.0 401.5,412.3 402.1,411.8 402.7,412.2 403.3,414.3 404.0,415.7 404.6,416.6 405.2,415.2 405.8,413.9 406.5,412.2 407.1,413.0 407.7,413.0 408.3,411.4 408.9,411.5 409.6,411.3 410.2,411.7 410.8,410.4 411.4,409.2 412.1,409.8 412.7,409.8 413.3,413.0 413.9,414.0 414.6,413.1 415.2,412.2 415.8,413.4 416.4,414.6 417.0,416.6 417.7,415.5 418.3,415.4 418.9,415.5 419.5,415.7 420.2,415.8 420.8,417.6 421.4,418.9 422.0,420.7 422.7,421.3 423.3,420.6 423.9,421.4 424.5,422.1 425.1,421.9 425.8,423.8 426.4,424.4 427.0,426.1 427.6,426.6 428.3,428.4 428.9,430.3 429.5,431.4 430.1,432.4 430.8,432.9 431.4,434.2 432.0,435.1 432.6,436.9 433.2,437.0 433.9,437.9 434.5,437.7 435.1,438.1 435.7,436.9 436.4,438.2 437.0,437.5 437.6,437.6 438.2,439.0 438.9,437.3 439.5,436.5 440.1,436.7 440.7,436.5 441.3,436.7 442.0,438.0 442.6,437.4 443.2,437.7 443.8,437.9 444.5,438.9 445.1,438.6 445.7,439.5 446.3,438.2 447.0,439.1 447.6,439.6 448.2,439.5 448.8,438.9 449.4,438.3 450.1,438.5 450.7,440.3 451.3,440.0 451.9,440.4 452.6,441.4 453.2,440.6 453.8,440.9 454.4,441.0 455.1,441.2 455.7,440.8 456.3,440.8 456.9,440.7 457.5,440.7 458.2,440.6 458.8,441.0 459.4,441.3 460.0,440.5 460.7,440.6 461.3,440.5 461.9,442.5 462.5,443.3 463.2,441.4 463.8,441.3 464.4,441.7 464.4,467.4 463.8,465.0 463.2,464.4 462.5,464.5 461.9,463.8 461.3,463.1 460.7,464.2 460.0,466.0 459.4,464.5 458.8,463.0 458.2,461.4 457.5,462.3 456.9,465.0 456.3,464.4 455.7,465.6 455.1,465.4 454.4,466.1 453.8,464.9 453.2,464.6 452.6,466.9 451.9,466.7 451.3,467.0 450.7,466.2 450.1,465.9 449.4,466.3 448.8,466.8 448.2,466.0 447.6,464.7 447.0,463.3 446.3,463.4 445.7,462.6 445.1,463.7 444.5,462.4 443.8,463.9 443.2,464.4 442.6,465.0 442.0,465.4 441.3,462.8 440.7,462.4 440.1,463.9 439.5,462.5 438.9,462.5 438.2,463.4 437.6,463.7 437.0,463.2 436.4,461.7 435.7,461.7 435.1,462.2 434.5,462.4 433.9,461.3 433.2,461.8 432.6,462.2 432.0,460.6 431.4,458.2 430.8,457.1 430.1,454.6 429.5,454.3 428.9,452.8 428.3,451.9 427.6,452.1 427.0,451.8 426.4,451.7 425.8,448.6 425.1,448.0 424.5,448.6 423.9,448.5 423.3,446.8 422.7,445.7 422.0,445.5 421.4,444.8 420.8,444.7 420.2,445.4 419.5,445.0 418.9,445.2 418.3,442.9 417.7,442.0 417.0,440.0 416.4,439.7 415.8,440.7 415.2,441.0 414.6,438.7 413.9,438.7 413.3,436.8 412.7,435.8 412.1,435.8 411.4,436.0 410.8,436.7 410.2,437.0 409.6,437.9 408.9,439.9 408.3,439.7 407.7,440.1 407.1,439.5 406.5,441.2 405.8,443.3 405.2,444.6 404.6,444.3 404.0,444.1 403.3,442.5 402.7,441.4 402.1,443.8 401.5,444.7 400.8,444.2 400.2,441.3 399.6,439.9 399.0,439.0 398.3,438.3 397.7,438.8 397.1,439.0 396.5,438.5 395.9,438.6 395.2,439.4 394.6,439.4 394.0,439.0 393.4,440.7 392.7,439.2 392.1,440.3 391.5,440.8 390.9,441.6 390.2,440.8 389.6,440.4 389.0,439.4 388.4,440.1 387.8,440.0 387.1,439.2 386.5,439.7 385.9,441.6 385.3,439.4 384.6,439.8 384.0,439.9 383.4,440.6 382.8,441.4 382.1,441.7 381.5,442.3 380.9,442.4 380.3,439.6 379.7,439.6 379.0,441.7 378.4,443.2 377.8,442.9 377.2,445.5 376.5,445.3 375.9,446.1 375.3,444.8 374.7,445.7 374.0,447.9 373.4,447.9 372.8,446.5 372.2,445.5 371.6,447.2 370.9,447.4 370.3,447.2 369.7,447.5 369.1,449.4 368.4,449.0 367.8,448.3 367.2,448.5 366.6,451.0 365.9,451.2 365.3,451.6 364.7,450.4 364.1,449.8 363.5,448.1 362.8,448.0 362.2,447.6 361.6,447.2 361.0,446.4 360.3,445.2 359.7,444.4 359.1,443.3 358.5,443.8 357.8,443.9 357.2,443.8 356.6,443.0 356.0,441.8 355.4,442.2 354.7,439.7 354.1,438.8 353.5,440.4 352.9,442.3 352.2,440.8 351.6,439.9 351.0,439.7 350.4,439.1 349.7,436.4 349.1,437.5 348.5,439.5 347.9,439.1 347.3,437.6 346.6,437.6 346.0,438.5 345.4,439.0 344.8,439.1 344.1,441.1 343.5,440.2 342.9,440.4 342.3,439.8 341.6,439.3 341.0,440.1 340.4,441.2" fill="#fddddd" />
<polyline points="340.4,427.2 341.0,426.7 341.6,426.1 342.3,425.9 342.9,425.6 343.5,425.2 344.1,425.1 344.8,423.3 345.4,422.8 346.0,423.5 346.6,422.9 347.3,423.1 347.9,424.0 348.5,424.6 349.1,423.6 349.7,423.5 350.4,425.3 351.0,425.3 351.6,424.9 352.2,425.5 352.9,426.2 353.5,425.5 354.1,424.4 354.7,426.0 355.4,427.6 356.0,428.0 356.6,428.8 357.2,429.1 357.8,428.9 358.5,429.5 359.1,430.1 359.7,430.1 360.3,430.3 361.0,431.2 361.6,432.6 362.2,433.2 362.8,433.5 363.5,434.6 364.1,435.7 364.7,436.2 365.3,436.1 365.9,436.0 366.6,436.0 367.2,434.8 367.8,434.4 368.4,435.2 369.1,435.0 369.7,433.7 370.3,432.3 370.9,433.0 371.6,433.2 372.2,432.3 372.8,432.9 373.4,433.8 374.0,433.5 374.7,430.8 375.3,429.4 375.9,430.2 376.5,430.0 377.2,430.0 377.8,428.5 378.4,428.3 379.0,428.7 379.7,426.6 380.3,426.6 380.9,427.6 381.5,427.2 382.1,427.5 382.8,427.1 383.4,425.4 384.0,425.2 384.6,425.5 385.3,425.7 385.9,426.8 386.5,425.7 387.1,425.3 387.8,426.3 388.4,425.8 389.0,424.8 389.6,425.4 390.2,425.8 390.9,426.3 391.5,426.5 392.1,424.8 392.7,424.9 393.4,425.2 394.0,425.2 394.6,424.7 395.2,425.0 395.9,424.0 396.5,423.8 397.1,425.2 397.7,424.9 398.3,424.8 399.0,424.9 399.6,425.3 400.2,426.5 400.8,428.1 401.5,428.5 402.1,427.8 402.7,426.8 403.3,428.4 404.0,429.9 404.6,430.5 405.2,429.9 405.8,428.6 406.5,426.7 407.1,426.3 407.7,426.5 408.3,425.6 408.9,425.7 409.6,424.6 410.2,424.4 410.8,423.6 411.4,422.6 412.1,422.8 412.7,422.8 413.3,424.9 413.9,426.4 414.6,425.9 415.2,426.6 415.8,427.0 416.4,427.2 417.0,428.3 417.7,428.7 418.3,429.2 418.9,430.3 419.5,430.4 420.2,430.6 420.8,431.2 421.4,431.9 422.0,433.1 422.7,433.5 423.3,433.7 423.9,434.9 424.5,435.3 425.1,434.9 425.8,436.2 426.4,438.0 427.0,439.0 427.6,439.3 428.3,440.1 428.9,441.5 429.5,442.8 430.1,443.5 430.8,445.0 431.4,446.2 432.0,447.9 432.6,449.6 433.2,449.4 433.9,449.6 434.5,450.1 435.1,450.2 435.7,449.3 436.4,449.9 437.0,450.3 437.6,450.7 438.2,451.2 438.9,449.9 439.5,449.5 440.1,450.3 440.7,449.4 441.3,449.7 442.0,451.7 442.6,451.2 443.2,451.0 443.8,450.9 444.5,450.6 445.1,451.1 445.7,451.1 446.3,450.8 447.0,451.2 447.6,452.2 448.2,452.8 448.8,452.8 449.4,452.3 450.1,452.2 450.7,453.3 451.3,453.5 451.9,453.5 452.6,454.1 453.2,452.6 453.8,452.9 454.4,453.5 455.1,453.3 455.7,453.2 456.3,452.6 456.9,452.8 457.5,451.5 458.2,451.0 458.8,452.0 459.4,452.9 460.0,453.3 460.7,452.4 461.3,451.8 461.9,453.1 462.5,453.9 463.2,452.9 463.8,453.1 464.4,454.6" fill="none" stroke="#f01818" stroke-width="0.9" stroke-linejoin="round" />
<polygon points="340.4,492.3 341.0,492.1 341.6,491.8 342.3,491.9 342.9,491.7 343.5,491.6 344.1,491.5 344.8,491.1 345.4,491.5 346.0,491.9 346.6,492.0 347.3,491.2 347.9,490.5 348.5,490.8 349.1,491.4 349.7,491.4 350.4,490.8 351.0,490.6 351.6,490.9 352.2,490.6 352.9,490.5 353.5,490.9 354.1,491.0 354.7,490.8 355.4,490.9 356.0,490.9 356.6,490.9 357.2,491.3 357.8,491.3 358.5,491.4 359.1,492.0 359.7,492.0 360.3,491.1 361.0,492.1 361.6,493.2 362.2,493.7 362.8,493.7 363.5,493.4 364.1,493.3 364.7,493.9 365.3,494.3 365.9,494.7 366.6,495.0 367.2,495.3 367.8,495.7 368.4,496.2 369.1,496.2 369.7,495.8 370.3,495.4 370.9,495.7 371.6,495.5 372.2,495.4 372.8,495.2 373.4,495.1 374.0,495.8 374.7,495.8 375.3,495.1 375.9,494.5 376.5,495.1 377.2,495.2 377.8,495.8 378.4,495.9 379.0,495.9 379.7,495.9 380.3,495.2 380.9,495.2 381.5,495.0 382.1,494.6 382.8,494.7 383.4,494.4 384.0,494.8 384.6,495.1 385.3,495.2 385.9,494.7 386.5,494.6 387.1,494.4 387.8,493.9 388.4,493.1 389.0,492.7 389.6,492.9 390.2,493.3 390.9,493.0 391.5,492.6 392.1,492.5 392.7,492.0 393.4,491.7 394.0,492.4 394.6,493.0 395.2,493.0 395.9,492.7 396.5,492.4 397.1,491.8 397.7,491.6 398.3,491.6 399.0,491.6 399.6,491.7 400.2,491.1 400.8,491.1 401.5,491.4 402.1,491.2 402.7,491.1 403.3,491.4 404.0,491.1 404.6,490.6 405.2,490.4 405.8,490.5 406.5,489.7 407.1,489.9 407.7,490.2 408.3,490.8 408.9,490.1 409.6,489.8 410.2,490.2 410.8,490.2 411.4,490.5 412.1,490.3 412.7,490.8 413.3,490.4 413.9,490.3 414.6,491.1 415.2,491.3 415.8,491.5 416.4,491.5 417.0,492.2 417.7,492.5 418.3,491.8 418.9,492.0 419.5,492.6 420.2,492.0 420.8,491.7 421.4,492.3 422.0,491.7 422.7,490.8 423.3,491.1 423.9,490.7 424.5,490.0 425.1,490.0 425.8,490.3 426.4,489.6 427.0,488.5 427.6,489.2 428.3,489.8 428.9,489.9 429.5,489.5 430.1,489.3 430.8,488.9 431.4,489.4 432.0,489.7 432.6,489.2 433.2,489.4 433.9,489.6 434.5,489.6 435.1,489.6 435.7,489.7 436.4,490.4 437.0,490.1 437.6,489.6 438.2,490.2 438.9,490.4 439.5,490.8 440.1,490.8 440.7,490.5 441.3,489.9 442.0,490.2 442.6,491.1 443.2,490.9 443.8,491.2 444.5,491.7 445.1,491.8 445.7,491.6 446.3,491.5 447.0,491.9 447.6,492.5 448.2,492.7 448.8,492.7 449.4,492.8 450.1,493.5 450.7,493.3 451.3,493.0 451.9,493.3 452.6,493.3 453.2,493.1 453.8,493.4 454.4,493.7 455.1,494.2 455.7,494.5 456.3,494.0 456.9,494.4 457.5,495.0 458.2,495.2 458.8,495.7 459.4,495.7 460.0,496.1 460.7,496.5 461.3,497.1 461.9,497.5 462.5,497.0 463.2,496.5 463.8,496.2 464.4,496.5 464.4,501.9 463.8,501.7 463.2,502.2 462.5,502.6 461.9,502.9 461.3,502.3 460.7,501.8 460.0,501.2 459.4,501.2 458.8,501.3 458.2,501.2 457.5,501.0 456.9,500.0 456.3,499.5 455.7,499.8 455.1,499.7 454.4,499.3 453.8,498.7 453.2,498.2 452.6,498.3 451.9,498.4 451.3,498.0 450.7,498.2 450.1,498.3 449.4,498.1 448.8,498.0 448.2,498.1 447.6,497.6 447.0,497.2 446.3,496.7 445.7,496.3 445.1,496.2 444.5,496.0 443.8,495.5 443.2,495.2 442.6,495.6 442.0,495.1 441.3,495.2 440.7,495.8 440.1,495.8 439.5,495.3 438.9,494.9 438.2,494.7 437.6,494.4 437.0,494.8 436.4,495.3 435.7,495.1 435.1,494.8 434.5,494.6 433.9,494.7 433.2,494.6 432.6,494.5 432.0,494.8 431.4,494.5 430.8,494.2 430.1,494.7 429.5,494.9 428.9,494.6 428.3,494.7 427.6,494.2 427.0,494.3 426.4,495.3 425.8,495.6 425.1,495.2 424.5,495.0 423.9,495.7 423.3,495.8 422.7,495.5 422.0,496.7 421.4,497.7 420.8,497.6 420.2,498.1 419.5,498.5 418.9,497.8 418.3,497.1 417.7,497.7 417.0,497.1 416.4,496.5 415.8,496.7 415.2,496.4 414.6,496.5 413.9,495.8 413.3,495.7 412.7,495.6 412.1,495.3 411.4,495.3 410.8,495.3 410.2,495.3 409.6,495.1 408.9,495.4 408.3,495.9 407.7,495.9 407.1,495.3 406.5,495.2 405.8,495.6 405.2,495.8 404.6,495.8 404.0,496.2 403.3,496.2 402.7,495.9 402.1,495.7 401.5,495.8 400.8,495.3 400.2,495.8 399.6,496.7 399.0,496.9 398.3,496.3 397.7,495.9 397.1,495.9 396.5,496.6 395.9,496.9 395.2,497.4 394.6,498.0 394.0,497.6 393.4,497.3 392.7,497.7 392.1,498.2 391.5,497.9 390.9,498.1 390.2,498.6 389.6,498.3 389.0,498.1 388.4,498.2 387.8,498.6 387.1,499.3 386.5,499.1 385.9,499.6 385.3,499.6 384.6,499.7 384.0,499.5 383.4,499.1 382.8,499.5 382.1,499.5 381.5,500.0 380.9,500.3 380.3,500.2 379.7,500.7 379.0,500.5 378.4,500.9 377.8,501.0 377.2,500.9 376.5,500.4 375.9,500.0 375.3,500.4 374.7,501.2 374.0,501.2 373.4,501.3 372.8,501.8 372.2,501.8 371.6,501.2 370.9,501.1 370.3,501.2 369.7,501.7 369.1,501.9 368.4,501.4 367.8,501.0 367.2,500.1 366.6,500.2 365.9,499.5 365.3,499.4 364.7,498.9 364.1,498.6 363.5,498.7 362.8,499.0 362.2,498.6 361.6,498.1 361.0,496.9 360.3,496.4 359.7,497.1 359.1,496.9 358.5,496.0 357.8,496.3 357.2,496.6 356.6,496.2 356.0,496.1 355.4,496.1 354.7,496.1 354.1,496.2 353.5,496.4 352.9,496.1 352.2,496.4 351.6,496.4 351.0,496.1 350.4,496.1 349.7,496.6 349.1,496.5 348.5,496.1 347.9,495.8 347.3,496.4 346.6,497.1 346.0,497.0 345.4,496.4 344.8,496.0 344.1,496.3 343.5,496.7 342.9,496.9 342.3,496.9 341.6,496.7 341.0,497.0 340.4,497.5" fill="#cdcdcd" />
<polyline points="340.4,494.9 341.0,494.5 341.6,494.3 342.3,494.4 342.9,494.3 343.5,494.1 344.1,493.9 344.8,493.6 345.4,494.0 346.0,494.5 346.6,494.5 347.3,493.8 347.9,493.2 348.5,493.5 349.1,494.0 349.7,494.0 350.4,493.4 351.0,493.3 351.6,493.7 352.2,493.5 352.9,493.3 353.5,493.6 354.1,493.6 354.7,493.5 355.4,493.5 356.0,493.5 356.6,493.6 357.2,493.9 357.8,493.8 358.5,493.7 359.1,494.4 359.7,494.6 360.3,493.7 361.0,494.5 361.6,495.7 362.2,496.2 362.8,496.3 363.5,496.0 364.1,495.9 364.7,496.4 365.3,496.8 365.9,497.1 366.6,497.6 367.2,497.7 367.8,498.4 368.4,498.8 369.1,499.0 369.7,498.8 370.3,498.3 370.9,498.4 371.6,498.3 372.2,498.6 372.8,498.5 373.4,498.2 374.0,498.5 374.7,498.5 375.3,497.7 375.9,497.3 376.5,497.7 377.2,498.1 377.8,498.4 378.4,498.4 379.0,498.2 379.7,498.3 380.3,497.7 380.9,497.8 381.5,497.5 382.1,497.0 382.8,497.1 383.4,496.7 384.0,497.2 384.6,497.4 385.3,497.4 385.9,497.1 386.5,496.9 387.1,496.9 387.8,496.3 388.4,495.6 389.0,495.4 389.6,495.6 390.2,495.9 390.9,495.6 391.5,495.3 392.1,495.4 392.7,494.8 393.4,494.5 394.0,495.0 394.6,495.5 395.2,495.2 395.9,494.8 396.5,494.5 397.1,493.9 397.7,493.7 398.3,493.9 399.0,494.2 399.6,494.2 400.2,493.4 400.8,493.2 401.5,493.6 402.1,493.5 402.7,493.5 403.3,493.8 404.0,493.6 404.6,493.2 405.2,493.1 405.8,493.1 406.5,492.4 407.1,492.6 407.7,493.1 408.3,493.3 408.9,492.8 409.6,492.4 410.2,492.8 410.8,492.7 411.4,492.9 412.1,492.8 412.7,493.2 413.3,493.0 413.9,493.1 414.6,493.8 415.2,493.8 415.8,494.1 416.4,494.0 417.0,494.6 417.7,495.1 418.3,494.5 418.9,494.9 419.5,495.6 420.2,495.0 420.8,494.6 421.4,495.0 422.0,494.2 422.7,493.2 423.3,493.5 423.9,493.2 424.5,492.5 425.1,492.6 425.8,493.0 426.4,492.4 427.0,491.4 427.6,491.7 428.3,492.3 428.9,492.2 429.5,492.2 430.1,492.0 430.8,491.6 431.4,491.9 432.0,492.3 432.6,491.8 433.2,492.0 433.9,492.1 434.5,492.1 435.1,492.2 435.7,492.4 436.4,492.8 437.0,492.5 437.6,492.0 438.2,492.4 438.9,492.6 439.5,493.1 440.1,493.3 440.7,493.2 441.3,492.6 442.0,492.6 442.6,493.3 443.2,493.1 443.8,493.4 444.5,493.9 445.1,494.0 445.7,494.0 446.3,494.1 447.0,494.6 447.6,495.0 448.2,495.4 448.8,495.4 449.4,495.4 450.1,495.9 450.7,495.8 451.3,495.5 451.9,495.8 452.6,495.8 453.2,495.7 453.8,496.0 454.4,496.5 455.1,496.9 455.7,497.1 456.3,496.8 456.9,497.2 457.5,498.0 458.2,498.2 458.8,498.5 459.4,498.5 460.0,498.7 460.7,499.2 461.3,499.7 461.9,500.2 462.5,499.8 463.2,499.3 463.8,499.0 464.4,499.2" fill="none" stroke="#222" stroke-width="0.9" stroke-linejoin="round" />
<line x1="402.40" y1="397.50" x2="402.40" y2="520.00" stroke="#000" stroke-width="1.0" stroke-dasharray="5.6 3.4"/>
<line x1="340.40" y1="398.07" x2="340.40" y2="520.70" stroke="#000" stroke-width="1.4" />
<line x1="339.70" y1="520.00" x2="464.90" y2="520.00" stroke="#000" stroke-width="1.4" />
<line x1="336.40" y1="520.00" x2="340.40" y2="520.00" stroke="#111" stroke-width="1.0" />
<text x="334.60" y="523.40" font-size="9.8" text-anchor="end" fill="#111" stroke="#111" stroke-width="0.2">0</text>
<line x1="336.40" y1="495.71" x2="340.40" y2="495.71" stroke="#111" stroke-width="1.0" />
<text x="334.60" y="499.11" font-size="9.8" text-anchor="end" fill="#111" stroke="#111" stroke-width="0.2">5</text>
<line x1="336.40" y1="471.43" x2="340.40" y2="471.43" stroke="#111" stroke-width="1.0" />
<text x="334.60" y="474.83" font-size="9.8" text-anchor="end" fill="#111" stroke="#111" stroke-width="0.2">10</text>
<line x1="336.40" y1="447.14" x2="340.40" y2="447.14" stroke="#111" stroke-width="1.0" />
<text x="334.60" y="450.54" font-size="9.8" text-anchor="end" fill="#111" stroke="#111" stroke-width="0.2">15</text>
<line x1="336.40" y1="422.86" x2="340.40" y2="422.86" stroke="#111" stroke-width="1.0" />
<text x="334.60" y="426.26" font-size="9.8" text-anchor="end" fill="#111" stroke="#111" stroke-width="0.2">20</text>
<line x1="336.40" y1="398.57" x2="340.40" y2="398.57" stroke="#111" stroke-width="1.0" />
<text x="334.60" y="401.97" font-size="9.8" text-anchor="end" fill="#111" stroke="#111" stroke-width="0.2">25</text>
<line x1="340.40" y1="520.00" x2="340.40" y2="524.00" stroke="#111" stroke-width="1.0" />
<text x="340.40" y="535.40" font-size="9.5" text-anchor="middle" fill="#111" stroke="#111" stroke-width="0.2">-10</text>
<line x1="371.40" y1="520.00" x2="371.40" y2="524.00" stroke="#111" stroke-width="1.0" />
<text x="371.40" y="535.40" font-size="9.5" text-anchor="middle" fill="#111" stroke="#111" stroke-width="0.2">-5</text>
<line x1="402.40" y1="520.00" x2="402.40" y2="524.00" stroke="#111" stroke-width="1.0" />
<text x="402.40" y="535.40" font-size="9.5" text-anchor="middle" fill="#111" stroke="#111" stroke-width="0.2">0</text>
<line x1="433.40" y1="520.00" x2="433.40" y2="524.00" stroke="#111" stroke-width="1.0" />
<text x="433.40" y="535.40" font-size="9.5" text-anchor="middle" fill="#111" stroke="#111" stroke-width="0.2">5</text>
<line x1="464.40" y1="520.00" x2="464.40" y2="524.00" stroke="#111" stroke-width="1.0" />
<text x="464.40" y="535.40" font-size="9.5" text-anchor="middle" fill="#111" stroke="#111" stroke-width="0.2">10</text>
<text x="406.80" y="548.30" font-size="12.1" text-anchor="middle" fill="#111" stroke="#111" stroke-width="0.2">Time (sec)</text>
<text x="321.00" y="455.50" font-size="12" text-anchor="middle" fill="#111" transform="rotate(-90 321.00 455.50)" stroke="#111" stroke-width="0.2">z-score</text>
<rect x="444.10" y="391.80" width="41.30" height="19.40" fill="#fff" stroke="#000" stroke-width="1.0" />
<line x1="447.20" y1="397.40" x2="456.80" y2="397.40" stroke="#000" stroke-width="1.6" />
<text x="459.10" y="399.40" font-size="7.15" stroke="#000" stroke-width="0.2">Control</text>
<line x1="447.20" y1="406.10" x2="456.80" y2="406.10" stroke="#f00" stroke-width="1.6" />
<text x="459.10" y="407.80" font-size="7.15" stroke="#000" stroke-width="0.2">Opn4<tspan dy="-3.0" font-size="4.1" fill-opacity="0.55">-/-</tspan></text>
<!-- panelL -->
<text x="499.60" y="379.00" font-size="17" stroke="#000" stroke-width="0.2">L.</text>
<line x1="549.20" y1="381.21" x2="549.20" y2="520.90" stroke="#000" stroke-width="1.45" />
<line x1="548.50" y1="520.90" x2="653.80" y2="520.90" stroke="#000" stroke-width="1.45" />
<line x1="544.20" y1="520.90" x2="549.20" y2="520.90" stroke="#111" stroke-width="1.1" />
<text x="542.70" y="524.60" font-size="10.4" text-anchor="end" fill="#111" stroke="#111" stroke-width="0.2">0</text>
<line x1="544.20" y1="474.57" x2="549.20" y2="474.57" stroke="#111" stroke-width="1.1" />
<text x="542.70" y="478.27" font-size="10.4" text-anchor="end" fill="#111" stroke="#111" stroke-width="0.2">1</text>
<line x1="544.20" y1="428.24" x2="549.20" y2="428.24" stroke="#111" stroke-width="1.1" />
<text x="542.70" y="431.94" font-size="10.4" text-anchor="end" fill="#111" stroke="#111" stroke-width="0.2">2</text>
<line x1="544.20" y1="381.91" x2="549.20" y2="381.91" stroke="#111" stroke-width="1.1" />
<text x="542.70" y="385.61" font-size="10.4" text-anchor="end" fill="#111" stroke="#111" stroke-width="0.2">3</text>
<line x1="576.60" y1="520.90" x2="576.60" y2="525.90" stroke="#000" stroke-width="1.2" />
<line x1="623.30" y1="520.90" x2="623.30" y2="525.90" stroke="#000" stroke-width="1.2" />
<line x1="562.40" y1="474.57" x2="590.10" y2="432.41" stroke="#111" stroke-width="0.6" />
<line x1="562.40" y1="474.57" x2="590.10" y2="455.11" stroke="#111" stroke-width="0.6" />
<line x1="562.40" y1="474.57" x2="590.10" y2="457.43" stroke="#111" stroke-width="0.6" />
<line x1="562.40" y1="474.57" x2="590.10" y2="459.28" stroke="#111" stroke-width="0.6" />
<line x1="562.40" y1="474.57" x2="590.10" y2="460.67" stroke="#111" stroke-width="0.6" />
<line x1="562.40" y1="474.57" x2="590.10" y2="464.38" stroke="#111" stroke-width="0.6" />
<line x1="562.40" y1="474.57" x2="590.10" y2="472.25" stroke="#111" stroke-width="0.6" />
<line x1="562.40" y1="474.57" x2="590.10" y2="473.18" stroke="#111" stroke-width="0.6" />
<line x1="562.40" y1="474.57" x2="590.10" y2="476.89" stroke="#111" stroke-width="0.6" />
<line x1="562.40" y1="474.57" x2="590.10" y2="486.15" stroke="#111" stroke-width="0.6" />
<line x1="562.40" y1="474.57" x2="590.10" y2="488.47" stroke="#111" stroke-width="0.6" />
<line x1="562.40" y1="474.57" x2="590.10" y2="489.40" stroke="#111" stroke-width="0.6" />
<line x1="562.40" y1="474.57" x2="590.10" y2="490.32" stroke="#111" stroke-width="0.6" />
<circle cx="590.10" cy="432.41" r="2.05" fill="none" stroke="#111" stroke-width="0.9" />
<circle cx="590.10" cy="455.11" r="2.05" fill="none" stroke="#111" stroke-width="0.9" />
<circle cx="590.10" cy="457.43" r="2.05" fill="none" stroke="#111" stroke-width="0.9" />
<circle cx="590.10" cy="459.28" r="2.05" fill="none" stroke="#111" stroke-width="0.9" />
<circle cx="590.10" cy="460.67" r="2.05" fill="none" stroke="#111" stroke-width="0.9" />
<circle cx="590.10" cy="464.38" r="2.05" fill="none" stroke="#111" stroke-width="0.9" />
<circle cx="590.10" cy="472.25" r="2.05" fill="none" stroke="#111" stroke-width="0.9" />
<circle cx="590.10" cy="473.18" r="2.05" fill="none" stroke="#111" stroke-width="0.9" />
<circle cx="590.10" cy="476.89" r="2.05" fill="none" stroke="#111" stroke-width="0.9" />
<circle cx="590.10" cy="486.15" r="2.05" fill="none" stroke="#111" stroke-width="0.9" />
<circle cx="590.10" cy="488.47" r="2.05" fill="none" stroke="#111" stroke-width="0.9" />
<circle cx="590.10" cy="489.40" r="2.05" fill="none" stroke="#111" stroke-width="0.9" />
<circle cx="590.10" cy="490.32" r="2.05" fill="none" stroke="#111" stroke-width="0.9" />
<circle cx="562.40" cy="474.57" r="2.00" fill="#111" />
<line x1="609.10" y1="474.57" x2="637.40" y2="401.37" stroke="#f01818" stroke-width="0.6" />
<line x1="609.10" y1="474.57" x2="637.40" y2="410.63" stroke="#f01818" stroke-width="0.6" />
<line x1="609.10" y1="474.57" x2="637.40" y2="439.36" stroke="#f01818" stroke-width="0.6" />
<line x1="609.10" y1="474.57" x2="637.40" y2="451.40" stroke="#f01818" stroke-width="0.6" />
<line x1="609.10" y1="474.57" x2="637.40" y2="456.96" stroke="#f01818" stroke-width="0.6" />
<line x1="609.10" y1="474.57" x2="637.40" y2="460.21" stroke="#f01818" stroke-width="0.6" />
<line x1="609.10" y1="474.57" x2="637.40" y2="462.99" stroke="#f01818" stroke-width="0.6" />
<line x1="609.10" y1="474.57" x2="637.40" y2="465.30" stroke="#f01818" stroke-width="0.6" />
<line x1="609.10" y1="474.57" x2="637.40" y2="467.62" stroke="#f01818" stroke-width="0.6" />
<line x1="609.10" y1="474.57" x2="637.40" y2="469.94" stroke="#f01818" stroke-width="0.6" />
<line x1="609.10" y1="474.57" x2="637.40" y2="472.25" stroke="#f01818" stroke-width="0.6" />
<line x1="609.10" y1="474.57" x2="637.40" y2="474.57" stroke="#f01818" stroke-width="0.6" />
<line x1="609.10" y1="474.57" x2="637.40" y2="475.96" stroke="#f01818" stroke-width="0.6" />
<line x1="609.10" y1="474.57" x2="637.40" y2="477.81" stroke="#f01818" stroke-width="0.6" />
<line x1="609.10" y1="474.57" x2="637.40" y2="480.13" stroke="#f01818" stroke-width="0.6" />
<line x1="609.10" y1="474.57" x2="637.40" y2="483.84" stroke="#f01818" stroke-width="0.6" />
<line x1="609.10" y1="474.57" x2="637.40" y2="487.54" stroke="#f01818" stroke-width="0.6" />
<line x1="609.10" y1="474.57" x2="637.40" y2="493.10" stroke="#f01818" stroke-width="0.6" />
<line x1="609.10" y1="474.57" x2="637.40" y2="497.73" stroke="#f01818" stroke-width="0.6" />
<line x1="609.10" y1="474.57" x2="637.40" y2="500.98" stroke="#f01818" stroke-width="0.6" />
<line x1="609.10" y1="474.57" x2="637.40" y2="503.29" stroke="#f01818" stroke-width="0.6" />
<circle cx="637.40" cy="401.37" r="2.05" fill="none" stroke="#f01818" stroke-width="0.9" />
<circle cx="637.40" cy="410.63" r="2.05" fill="none" stroke="#f01818" stroke-width="0.9" />
<circle cx="637.40" cy="439.36" r="2.05" fill="none" stroke="#f01818" stroke-width="0.9" />
<circle cx="637.40" cy="451.40" r="2.05" fill="none" stroke="#f01818" stroke-width="0.9" />
<circle cx="637.40" cy="456.96" r="2.05" fill="none" stroke="#f01818" stroke-width="0.9" />
<circle cx="637.40" cy="460.21" r="2.05" fill="none" stroke="#f01818" stroke-width="0.9" />
<circle cx="637.40" cy="462.99" r="2.05" fill="none" stroke="#f01818" stroke-width="0.9" />
<circle cx="637.40" cy="465.30" r="2.05" fill="none" stroke="#f01818" stroke-width="0.9" />
<circle cx="637.40" cy="467.62" r="2.05" fill="none" stroke="#f01818" stroke-width="0.9" />
<circle cx="637.40" cy="469.94" r="2.05" fill="none" stroke="#f01818" stroke-width="0.9" />
<circle cx="637.40" cy="472.25" r="2.05" fill="none" stroke="#f01818" stroke-width="0.9" />
<circle cx="637.40" cy="474.57" r="2.05" fill="none" stroke="#f01818" stroke-width="0.9" />
<circle cx="637.40" cy="475.96" r="2.05" fill="none" stroke="#f01818" stroke-width="0.9" />
<circle cx="637.40" cy="477.81" r="2.05" fill="none" stroke="#f01818" stroke-width="0.9" />
<circle cx="637.40" cy="480.13" r="2.05" fill="none" stroke="#f01818" stroke-width="0.9" />
<circle cx="637.40" cy="483.84" r="2.05" fill="none" stroke="#f01818" stroke-width="0.9" />
<circle cx="637.40" cy="487.54" r="2.05" fill="none" stroke="#f01818" stroke-width="0.9" />
<circle cx="637.40" cy="493.10" r="2.05" fill="none" stroke="#f01818" stroke-width="0.9" />
<circle cx="637.40" cy="497.73" r="2.05" fill="none" stroke="#f01818" stroke-width="0.9" />
<circle cx="637.40" cy="500.98" r="2.05" fill="none" stroke="#f01818" stroke-width="0.9" />
<circle cx="637.40" cy="503.29" r="2.05" fill="none" stroke="#f01818" stroke-width="0.9" />
<circle cx="609.10" cy="474.57" r="2.00" fill="#f01818" />
<path d="M561.8,393 L589.2,393 M575.8,393 L575.8,384.6 L623.1,384.6 L623.1,393 M610,393 L636.8,393" fill="none" stroke="#000" stroke-width="1.4" />
<text x="599.70" y="381.70" font-size="10.8" text-anchor="middle" fill="#111" stroke="#111" stroke-width="0.2">n.s.</text>
<rect x="647.60" y="384.20" width="34.20" height="24.10" fill="#fff" stroke="#000" stroke-width="1.0" />
<circle cx="652.20" cy="391.55" r="2.35" fill="#000" />
<text x="657.40" y="393.90" font-size="9" stroke="#000" stroke-width="0.2">Edge</text>
<circle cx="652.20" cy="403.15" r="2.00" fill="none" stroke="#000" stroke-width="0.75" />
<text x="657.40" y="405.60" font-size="9" stroke="#000" stroke-width="0.2">TZ</text>
<text x="576.30" y="538.60" font-size="12" text-anchor="middle" fill="#111" stroke="#111" stroke-width="0.2">Control</text>
<text x="610.20" y="538.60" font-size="12" fill="#111" stroke="#111" stroke-width="0.2">Opn4<tspan dy="-5.0" font-size="7.0" fill-opacity="1">-/-</tspan></text>
<text x="530.00" y="451.70" font-size="11.5" text-anchor="middle" fill="#111" transform="rotate(-90 530.00 451.70)" stroke="#111" stroke-width="0.2">Normalized AUC</text>
<!-- panelM -->
<text x="1.50" y="589.20" font-size="17" stroke="#000" stroke-width="0.2">M.</text>
<text x="34.70" y="605.40" font-size="15.3" fill="#111" stroke="#111" stroke-width="0.2">Edge</text>
<line x1="78.63" y1="599.89" x2="92.83" y2="599.89" stroke="#000" stroke-width="1.35" />
<polygon points="95.3,599.9 90.3,597.5 90.3,602.3" fill="#000" />
<text x="101.13" y="605.40" font-size="15.3" fill="#111" stroke="#111" stroke-width="0.2">TZ</text>
<g transform="translate(29.20,614.50)" stroke-width="6.56" fill="none">
<rect x="0.00" y="0.00" width="106.80" height="76.30" fill="#b03060" />
<path stroke="#10082b" d="M0.00 3.18h1.58M1.33 3.18h1.58M4.00 3.18h1.58M104.13 3.18h1.58M4.00 9.54h1.58M5.34 9.54h1.58M92.11 9.54h1.58M93.45 9.54h1.58M74.76 15.90h1.58M81.44 15.90h1.58M82.77 15.90h1.58M85.44 15.90h1.58M86.77 15.90h1.58M88.11 15.90h1.58M92.11 15.90h1.58M93.45 15.90h1.58M94.78 15.90h1.58M96.12 15.90h1.58M98.79 15.90h1.58M54.73 22.25h1.58M57.41 22.25h1.58M58.74 22.25h1.58M60.07 22.25h1.58M64.08 22.25h1.58M65.41 22.25h1.58M66.75 22.25h1.58M68.08 22.25h1.58M69.42 22.25h1.58M70.75 22.25h1.58M72.09 22.25h1.58M73.42 22.25h1.58M74.76 22.25h1.58M76.09 22.25h1.58M77.43 22.25h1.58M78.77 22.25h1.58M80.10 22.25h1.58M81.44 22.25h1.58M82.77 22.25h1.58M84.11 22.25h1.58M85.44 22.25h1.58M86.77 22.25h1.58M88.11 22.25h1.58M65.41 28.61h1.58M98.79 28.61h1.58M100.12 28.61h1.58M105.47 28.61h1.58M21.36 41.33h1.58M61.41 41.33h1.58M62.74 41.33h1.58M64.08 41.33h1.58M65.41 41.33h1.58M66.75 41.33h1.58M68.08 41.33h1.58M70.75 47.69h1.58M72.09 47.69h1.58M41.38 54.05h1.58M48.06 54.05h1.58M77.43 54.05h1.58M80.10 60.40h1.58M85.44 60.40h1.58M86.77 60.40h1.58M21.36 73.12h1.58"/>
<path stroke="#190b3c" d="M2.67 3.18h1.58M9.34 9.54h1.58M97.45 15.90h1.58M53.40 22.25h1.58M89.44 22.25h1.58M64.08 28.61h1.58M93.45 28.61h1.58M101.46 28.61h1.58M104.13 28.61h1.58M78.77 34.97h1.58M80.10 34.97h1.58M18.69 41.33h1.58M60.07 41.33h1.58M69.42 41.33h1.58M70.75 41.33h1.58M80.10 47.69h1.58M81.44 47.69h1.58M49.39 54.05h1.58M50.73 54.05h1.58M57.41 54.05h1.58M78.77 54.05h1.58M77.43 60.40h1.58M84.11 60.40h1.58M22.70 73.12h1.58"/>
<path stroke="#270b4c" d="M5.34 3.18h1.58M102.80 3.18h1.58M6.67 9.54h1.58M82.77 9.54h1.58M84.11 9.54h1.58M85.44 9.54h1.58M94.78 9.54h1.58M96.12 9.54h1.58M97.45 9.54h1.58M76.09 15.90h1.58M78.77 15.90h1.58M80.10 15.90h1.58M89.44 15.90h1.58M100.12 15.90h1.58M104.13 15.90h1.58M105.47 15.90h1.58M45.39 22.25h1.58M46.73 22.25h1.58M48.06 22.25h1.58M61.41 22.25h1.58M62.74 22.25h1.58M66.75 28.61h1.58M92.11 28.61h1.58M0.00 41.33h1.58M17.36 41.33h1.58M20.02 41.33h1.58M52.06 54.05h1.58M58.74 54.05h1.58M65.41 54.05h1.58M92.11 54.05h1.58M93.45 54.05h1.58M81.44 60.40h1.58"/>
<path stroke="#360a5b" d="M6.67 3.18h1.58M8.01 3.18h1.58M0.00 9.54h1.58M2.67 9.54h1.58M8.01 9.54h1.58M90.78 9.54h1.58M98.79 9.54h1.58M49.39 22.25h1.58M52.06 22.25h1.58M56.07 22.25h1.58M90.78 22.25h1.58M68.08 28.61h1.58M97.45 28.61h1.58M74.76 34.97h1.58M77.43 34.97h1.58M5.34 41.33h1.58M13.35 41.33h1.58M62.74 47.69h1.58M77.43 47.69h1.58M78.77 47.69h1.58M40.05 54.05h1.58M86.77 54.05h1.58M78.77 60.40h1.58M88.11 60.40h1.58M96.12 60.40h1.58M90.78 66.76h1.58M20.02 73.12h1.58M24.03 73.12h1.58M42.72 73.12h1.58"/>
<path stroke="#440b68" d="M10.68 9.54h1.58M86.77 9.54h1.58M88.11 9.54h1.58M89.44 9.54h1.58M100.12 9.54h1.58M101.46 9.54h1.58M104.13 9.54h1.58M105.47 9.54h1.58M0.00 15.90h1.58M73.42 15.90h1.58M77.43 15.90h1.58M84.11 15.90h1.58M90.78 15.90h1.58M44.05 22.25h1.58M92.11 22.25h1.58M57.41 28.61h1.58M60.07 28.61h1.58M86.77 28.61h1.58M94.78 28.61h1.58M96.12 28.61h1.58M102.80 28.61h1.58M4.00 34.97h1.58M73.42 34.97h1.58M10.68 41.33h1.58M12.02 41.33h1.58M22.70 41.33h1.58M72.09 41.33h1.58M61.41 47.69h1.58M64.08 47.69h1.58M73.42 47.69h1.58M76.09 47.69h1.58M42.72 54.05h1.58M56.07 54.05h1.58M85.44 54.05h1.58M96.12 54.05h1.58M101.46 54.05h1.58M76.09 60.40h1.58M89.44 60.40h1.58M93.45 60.40h1.58M100.12 60.40h1.58M25.36 73.12h1.58"/>
<path stroke="#520f6a" d="M105.47 3.18h1.58M1.33 9.54h1.58M102.80 9.54h1.58M1.33 15.90h1.58M101.46 15.90h1.58M102.80 15.90h1.58M50.73 22.25h1.58M93.45 22.25h1.58M98.79 22.25h1.58M33.38 28.61h1.58M58.74 28.61h1.58M69.42 28.61h1.58M73.42 28.61h1.58M78.77 28.61h1.58M82.77 28.61h1.58M88.11 28.61h1.58M76.09 34.97h1.58M4.00 41.33h1.58M6.67 41.33h1.58M14.68 41.33h1.58M58.74 41.33h1.58M53.40 47.69h1.58M57.41 47.69h1.58M58.74 47.69h1.58M74.76 47.69h1.58M36.05 54.05h1.58M44.05 54.05h1.58M45.39 54.05h1.58M46.73 54.05h1.58M64.08 54.05h1.58M80.10 54.05h1.58M89.44 54.05h1.58M90.78 54.05h1.58M100.12 54.05h1.58M72.09 60.40h1.58M73.42 60.40h1.58M82.77 60.40h1.58M94.78 60.40h1.58M88.11 66.76h1.58"/>
<path stroke="#5f136c" d="M12.02 3.18h1.58M12.02 9.54h1.58M81.44 9.54h1.58M72.09 15.90h1.58M42.72 22.25h1.58M96.12 22.25h1.58M97.45 22.25h1.58M100.12 22.25h1.58M72.09 28.61h1.58M85.44 28.61h1.58M1.33 41.33h1.58M8.01 41.33h1.58M16.02 41.33h1.58M77.43 41.33h1.58M54.73 47.69h1.58M60.07 47.69h1.58M82.77 47.69h1.58M34.71 54.05h1.58M37.38 54.05h1.58M38.71 54.05h1.58M54.73 54.05h1.58M76.09 54.05h1.58M81.44 54.05h1.58M82.77 54.05h1.58M84.11 54.05h1.58M88.11 54.05h1.58M97.45 54.05h1.58M102.80 54.05h1.58M89.44 66.76h1.58M26.70 73.12h1.58"/>
<path stroke="#6c186e" d="M101.46 3.18h1.58M2.67 15.90h1.58M68.08 15.90h1.58M69.42 15.90h1.58M37.38 22.25h1.58M38.71 22.25h1.58M40.05 22.25h1.58M41.38 22.25h1.58M94.78 22.25h1.58M104.13 22.25h1.58M62.74 28.61h1.58M70.75 28.61h1.58M77.43 28.61h1.58M84.11 28.61h1.58M89.44 28.61h1.58M90.78 28.61h1.58M0.00 34.97h1.58M2.67 34.97h1.58M69.42 34.97h1.58M81.44 34.97h1.58M92.11 34.97h1.58M93.45 34.97h1.58M9.34 41.33h1.58M76.09 41.33h1.58M65.41 47.69h1.58M69.42 47.69h1.58M28.04 54.05h1.58M29.37 54.05h1.58M53.40 54.05h1.58M60.07 54.05h1.58M66.75 54.05h1.58M94.78 54.05h1.58M97.45 60.40h1.58M98.79 60.40h1.58M86.77 66.76h1.58M36.05 73.12h1.58M44.05 73.12h1.58M46.73 73.12h1.58M48.06 73.12h1.58M49.39 73.12h1.58"/>
<path stroke="#7a1d6b" d="M9.34 3.18h1.58M10.68 3.18h1.58M66.75 15.90h1.58M70.75 15.90h1.58M32.04 28.61h1.58M56.07 28.61h1.58M61.41 28.61h1.58M5.34 34.97h1.58M48.06 34.97h1.58M58.74 34.97h1.58M57.41 41.33h1.58M48.06 47.69h1.58M24.03 54.05h1.58M68.08 54.05h1.58M98.79 54.05h1.58M74.76 60.40h1.58M90.78 60.40h1.58M92.11 60.40h1.58M18.69 73.12h1.58M34.71 73.12h1.58M93.45 73.12h1.58"/>
<path stroke="#882269" d="M13.35 3.18h1.58M85.44 3.18h1.58M4.00 15.90h1.58M5.34 15.90h1.58M6.67 15.90h1.58M105.47 22.25h1.58M81.44 28.61h1.58M1.33 34.97h1.58M53.40 34.97h1.58M54.73 34.97h1.58M60.07 34.97h1.58M70.75 34.97h1.58M72.09 34.97h1.58M84.11 34.97h1.58M88.11 34.97h1.58M25.36 41.33h1.58M78.77 41.33h1.58M38.71 47.69h1.58M49.39 47.69h1.58M56.07 47.69h1.58M66.75 47.69h1.58M84.11 47.69h1.58M18.69 54.05h1.58M22.70 54.05h1.58M33.38 54.05h1.58M73.42 54.05h1.58M74.76 54.05h1.58M105.47 54.05h1.58M70.75 60.40h1.58M101.46 60.40h1.58M84.11 66.76h1.58M33.38 73.12h1.58M45.39 73.12h1.58M89.44 73.12h1.58"/>
<path stroke="#952766" d="M14.68 3.18h1.58M16.02 3.18h1.58M77.43 3.18h1.58M100.12 3.18h1.58M10.68 15.90h1.58M65.41 15.90h1.58M101.46 22.25h1.58M74.76 28.61h1.58M80.10 28.61h1.58M6.67 34.97h1.58M8.01 34.97h1.58M18.69 34.97h1.58M20.02 34.97h1.58M49.39 34.97h1.58M57.41 34.97h1.58M64.08 34.97h1.58M82.77 34.97h1.58M86.77 34.97h1.58M2.67 41.33h1.58M24.03 41.33h1.58M29.37 41.33h1.58M74.76 41.33h1.58M45.39 47.69h1.58M68.08 47.69h1.58M86.77 47.69h1.58M90.78 47.69h1.58M26.70 54.05h1.58M30.70 54.05h1.58M32.04 54.05h1.58M61.41 54.05h1.58M62.74 54.05h1.58M69.42 54.05h1.58M46.73 66.76h1.58M94.78 66.76h1.58M104.13 66.76h1.58M8.01 73.12h1.58M37.38 73.12h1.58M41.38 73.12h1.58M50.73 73.12h1.58M62.74 73.12h1.58M101.46 73.12h1.58"/>
<path stroke="#a32d60" d="M86.77 3.18h1.58M13.35 9.54h1.58M16.02 9.54h1.58M9.34 15.90h1.58M60.07 15.90h1.58M36.05 22.25h1.58M85.44 34.97h1.58M89.44 34.97h1.58M90.78 34.97h1.58M26.70 41.33h1.58M28.04 41.33h1.58M54.73 41.33h1.58M56.07 41.33h1.58M73.42 41.33h1.58M52.06 47.69h1.58M85.44 47.69h1.58M88.11 47.69h1.58M89.44 47.69h1.58M20.02 54.05h1.58M25.36 54.05h1.58M72.09 54.05h1.58M104.13 54.05h1.58M37.38 66.76h1.58M38.71 66.76h1.58M82.77 66.76h1.58M96.12 66.76h1.58M97.45 66.76h1.58M17.36 73.12h1.58M28.04 73.12h1.58M64.08 73.12h1.58M72.09 73.12h1.58M92.11 73.12h1.58"/>
<path stroke="#b03259" d="M76.09 3.18h1.58M78.77 3.18h1.58M96.12 3.18h1.58M97.45 3.18h1.58M98.79 3.18h1.58M24.03 9.54h1.58M78.77 9.54h1.58M80.10 9.54h1.58M8.01 15.90h1.58M41.38 15.90h1.58M44.05 15.90h1.58M53.40 15.90h1.58M54.73 15.90h1.58M57.41 15.90h1.58M58.74 15.90h1.58M34.71 22.25h1.58M102.80 22.25h1.58M26.70 28.61h1.58M28.04 28.61h1.58M30.70 28.61h1.58M34.71 28.61h1.58M12.02 34.97h1.58M13.35 34.97h1.58M44.05 34.97h1.58M56.07 34.97h1.58M65.41 34.97h1.58M28.04 47.69h1.58M37.38 47.69h1.58M46.73 47.69h1.58M8.01 54.05h1.58M70.75 54.05h1.58M68.08 60.40h1.58M69.42 60.40h1.58M102.80 60.40h1.58M104.13 60.40h1.58M105.47 60.40h1.58M6.67 66.76h1.58M21.36 66.76h1.58M40.05 66.76h1.58M48.06 66.76h1.58M49.39 66.76h1.58M72.09 66.76h1.58M78.77 66.76h1.58M85.44 66.76h1.58M92.11 66.76h1.58M101.46 66.76h1.58M102.80 66.76h1.58M105.47 66.76h1.58M32.04 73.12h1.58M38.71 73.12h1.58M52.06 73.12h1.58M88.11 73.12h1.58M90.78 73.12h1.58M105.47 73.12h1.58"/>
<path stroke="#be3853" d="M17.36 3.18h1.58M18.69 3.18h1.58M28.04 3.18h1.58M90.78 3.18h1.58M17.36 9.54h1.58M77.43 9.54h1.58M42.72 15.90h1.58M64.08 15.90h1.58M14.68 34.97h1.58M46.73 34.97h1.58M62.74 34.97h1.58M68.08 34.97h1.58M94.78 34.97h1.58M97.45 34.97h1.58M40.05 41.33h1.58M45.39 41.33h1.58M52.06 41.33h1.58M81.44 41.33h1.58M94.78 41.33h1.58M26.70 47.69h1.58M50.73 47.69h1.58M65.41 60.40h1.58M66.75 60.40h1.58M17.36 66.76h1.58M18.69 66.76h1.58M20.02 66.76h1.58M41.38 66.76h1.58M50.73 66.76h1.58M70.75 66.76h1.58M100.12 66.76h1.58M66.75 73.12h1.58M76.09 73.12h1.58M94.78 73.12h1.58M100.12 73.12h1.58"/>
<path stroke="#c9414a" d="M82.77 3.18h1.58M84.11 3.18h1.58M94.78 3.18h1.58M18.69 9.54h1.58M22.70 9.54h1.58M26.70 9.54h1.58M50.73 15.90h1.58M56.07 15.90h1.58M61.41 15.90h1.58M62.74 15.90h1.58M0.00 28.61h1.58M1.33 28.61h1.58M5.34 28.61h1.58M25.36 28.61h1.58M29.37 28.61h1.58M76.09 28.61h1.58M21.36 34.97h1.58M45.39 34.97h1.58M50.73 34.97h1.58M52.06 34.97h1.58M61.41 34.97h1.58M41.38 41.33h1.58M46.73 41.33h1.58M53.40 41.33h1.58M80.10 41.33h1.58M82.77 41.33h1.58M33.38 47.69h1.58M34.71 47.69h1.58M41.38 47.69h1.58M44.05 47.69h1.58M4.00 54.05h1.58M9.34 54.05h1.58M21.36 54.05h1.58M61.41 60.40h1.58M62.74 60.40h1.58M64.08 60.40h1.58M1.33 66.76h1.58M22.70 66.76h1.58M25.36 66.76h1.58M26.70 66.76h1.58M29.37 66.76h1.58M42.72 66.76h1.58M45.39 66.76h1.58M54.73 66.76h1.58M73.42 66.76h1.58M93.45 66.76h1.58M98.79 66.76h1.58M16.02 73.12h1.58M40.05 73.12h1.58M56.07 73.12h1.58M58.74 73.12h1.58M65.41 73.12h1.58"/>
<path stroke="#d44a41" d="M81.44 3.18h1.58M89.44 3.18h1.58M14.68 9.54h1.58M20.02 9.54h1.58M25.36 9.54h1.58M76.09 9.54h1.58M40.05 15.90h1.58M49.39 15.90h1.58M24.03 22.25h1.58M33.38 22.25h1.58M4.00 28.61h1.58M50.73 28.61h1.58M52.06 28.61h1.58M9.34 34.97h1.58M10.68 34.97h1.58M16.02 34.97h1.58M17.36 34.97h1.58M42.72 34.97h1.58M66.75 34.97h1.58M96.12 34.97h1.58M102.80 34.97h1.58M104.13 34.97h1.58M30.70 41.33h1.58M85.44 41.33h1.58M86.77 41.33h1.58M88.11 41.33h1.58M90.78 41.33h1.58M93.45 41.33h1.58M29.37 47.69h1.58M42.72 47.69h1.58M92.11 47.69h1.58M0.00 54.05h1.58M1.33 54.05h1.58M2.67 54.05h1.58M5.34 66.76h1.58M16.02 66.76h1.58M24.03 66.76h1.58M30.70 66.76h1.58M32.04 66.76h1.58M33.38 66.76h1.58M36.05 66.76h1.58M56.07 66.76h1.58M74.76 66.76h1.58M80.10 66.76h1.58M81.44 66.76h1.58M14.68 73.12h1.58M29.37 73.12h1.58M53.40 73.12h1.58M54.73 73.12h1.58M57.41 73.12h1.58M68.08 73.12h1.58M70.75 73.12h1.58M80.10 73.12h1.58M86.77 73.12h1.58M98.79 73.12h1.58M102.80 73.12h1.58"/>
<path stroke="#de5338" d="M20.02 3.18h1.58M74.76 3.18h1.58M88.11 3.18h1.58M28.04 9.54h1.58M12.02 15.90h1.58M52.06 15.90h1.58M53.40 28.61h1.58M54.73 28.61h1.58M98.79 34.97h1.58M33.38 41.33h1.58M34.71 41.33h1.58M50.73 41.33h1.58M84.11 41.33h1.58M89.44 41.33h1.58M21.36 47.69h1.58M22.70 47.69h1.58M40.05 47.69h1.58M5.34 54.05h1.58M17.36 54.05h1.58M56.07 60.40h1.58M57.41 60.40h1.58M2.67 66.76h1.58M8.01 66.76h1.58M12.02 66.76h1.58M28.04 66.76h1.58M77.43 66.76h1.58M6.67 73.12h1.58M9.34 73.12h1.58M73.42 73.12h1.58M78.77 73.12h1.58M97.45 73.12h1.58"/>
<path stroke="#e5602e" d="M21.36 3.18h1.58M26.70 3.18h1.58M29.37 3.18h1.58M30.70 3.18h1.58M65.41 3.18h1.58M69.42 3.18h1.58M92.11 3.18h1.58M93.45 3.18h1.58M30.70 9.54h1.58M32.04 9.54h1.58M37.38 15.90h1.58M38.71 15.90h1.58M45.39 15.90h1.58M2.67 28.61h1.58M10.68 28.61h1.58M12.02 28.61h1.58M17.36 28.61h1.58M21.36 28.61h1.58M36.05 41.33h1.58M42.72 41.33h1.58M97.45 41.33h1.58M25.36 47.69h1.58M36.05 47.69h1.58M94.78 47.69h1.58M96.12 47.69h1.58M6.67 54.05h1.58M60.07 60.40h1.58M10.68 66.76h1.58M0.00 73.12h1.58M4.00 73.12h1.58M5.34 73.12h1.58M30.70 73.12h1.58M60.07 73.12h1.58M61.41 73.12h1.58M74.76 73.12h1.58M77.43 73.12h1.58M82.77 73.12h1.58M84.11 73.12h1.58M85.44 73.12h1.58M96.12 73.12h1.58M104.13 73.12h1.58"/>
<path stroke="#ed6d23" d="M80.10 3.18h1.58M21.36 9.54h1.58M29.37 9.54h1.58M70.75 9.54h1.58M48.06 15.90h1.58M22.70 22.25h1.58M25.36 22.25h1.58M6.67 28.61h1.58M8.01 28.61h1.58M9.34 28.61h1.58M18.69 28.61h1.58M20.02 28.61h1.58M22.70 28.61h1.58M24.03 28.61h1.58M38.71 28.61h1.58M22.70 34.97h1.58M101.46 34.97h1.58M105.47 34.97h1.58M32.04 41.33h1.58M6.67 47.69h1.58M14.68 47.69h1.58M24.03 47.69h1.58M93.45 47.69h1.58M14.68 54.05h1.58M41.38 60.40h1.58M54.73 60.40h1.58M0.00 66.76h1.58M14.68 66.76h1.58M44.05 66.76h1.58M52.06 66.76h1.58M53.40 66.76h1.58M57.41 66.76h1.58M58.74 66.76h1.58M65.41 66.76h1.58M69.42 66.76h1.58M1.33 73.12h1.58M13.35 73.12h1.58M69.42 73.12h1.58M81.44 73.12h1.58"/>
<path stroke="#f37a18" d="M22.70 3.18h1.58M34.71 3.18h1.58M66.75 3.18h1.58M68.08 3.18h1.58M70.75 3.18h1.58M72.09 3.18h1.58M73.42 3.18h1.58M33.38 9.54h1.58M74.76 9.54h1.58M26.70 22.25h1.58M28.04 22.25h1.58M32.04 22.25h1.58M13.35 28.61h1.58M37.38 28.61h1.58M26.70 34.97h1.58M38.71 34.97h1.58M37.38 41.33h1.58M38.71 41.33h1.58M44.05 41.33h1.58M92.11 41.33h1.58M96.12 41.33h1.58M13.35 47.69h1.58M20.02 47.69h1.58M32.04 47.69h1.58M97.45 47.69h1.58M10.68 54.05h1.58M24.03 60.40h1.58M36.05 60.40h1.58M37.38 60.40h1.58M58.74 60.40h1.58M9.34 66.76h1.58M13.35 66.76h1.58M34.71 66.76h1.58M76.09 66.76h1.58"/>
<path stroke="#f68913" d="M32.04 3.18h1.58M33.38 3.18h1.58M52.06 9.54h1.58M69.42 9.54h1.58M20.02 22.25h1.58M14.68 28.61h1.58M16.02 28.61h1.58M36.05 28.61h1.58M49.39 28.61h1.58M24.03 34.97h1.58M37.38 34.97h1.58M41.38 34.97h1.58M100.12 34.97h1.58M18.69 47.69h1.58M30.70 47.69h1.58M13.35 54.05h1.58M16.02 54.05h1.58M34.71 60.40h1.58M40.05 60.40h1.58M4.00 66.76h1.58M60.07 66.76h1.58M61.41 66.76h1.58M2.67 73.12h1.58"/>
<path stroke="#f9980e" d="M16.02 15.90h1.58M34.71 15.90h1.58M36.05 15.90h1.58M40.05 28.61h1.58M28.04 34.97h1.58M40.05 34.97h1.58M48.06 41.33h1.58M49.39 41.33h1.58M98.79 41.33h1.58M5.34 47.69h1.58M8.01 47.69h1.58M12.02 54.05h1.58M4.00 60.40h1.58M22.70 60.40h1.58M25.36 60.40h1.58M38.71 60.40h1.58M42.72 60.40h1.58M45.39 60.40h1.58M46.73 60.40h1.58M52.06 60.40h1.58M53.40 60.40h1.58M64.08 66.76h1.58M66.75 66.76h1.58M68.08 66.76h1.58"/>
<path stroke="#fca70c" d="M25.36 3.18h1.58M36.05 3.18h1.58M64.08 3.18h1.58M53.40 9.54h1.58M62.74 9.54h1.58M72.09 9.54h1.58M73.42 9.54h1.58M18.69 15.90h1.58M20.02 15.90h1.58M33.38 15.90h1.58M46.73 15.90h1.58M12.02 22.25h1.58M13.35 22.25h1.58M14.68 22.25h1.58M21.36 22.25h1.58M29.37 22.25h1.58M30.70 22.25h1.58M41.38 28.61h1.58M45.39 28.61h1.58M29.37 34.97h1.58M30.70 34.97h1.58M36.05 34.97h1.58M4.00 47.69h1.58M10.68 47.69h1.58M12.02 47.69h1.58M16.02 47.69h1.58M17.36 47.69h1.58M2.67 60.40h1.58M18.69 60.40h1.58M20.02 60.40h1.58M33.38 60.40h1.58M48.06 60.40h1.58M49.39 60.40h1.58M50.73 60.40h1.58M62.74 66.76h1.58M10.68 73.12h1.58"/>
<path stroke="#fab820" d="M24.03 3.18h1.58M38.71 3.18h1.58M49.39 3.18h1.58M50.73 3.18h1.58M34.71 9.54h1.58M57.41 9.54h1.58M66.75 9.54h1.58M13.35 15.90h1.58M17.36 15.90h1.58M10.68 22.25h1.58M16.02 22.25h1.58M18.69 22.25h1.58M46.73 28.61h1.58M48.06 28.61h1.58M25.36 34.97h1.58M32.04 34.97h1.58M33.38 34.97h1.58M98.79 47.69h1.58M5.34 60.40h1.58M16.02 60.40h1.58M21.36 60.40h1.58M12.02 73.12h1.58"/>
<path stroke="#f8c834" d="M37.38 3.18h1.58M40.05 3.18h1.58M45.39 9.54h1.58M50.73 9.54h1.58M61.41 9.54h1.58M68.08 9.54h1.58M14.68 15.90h1.58M26.70 15.90h1.58M17.36 22.25h1.58M44.05 28.61h1.58M0.00 47.69h1.58M1.33 47.69h1.58M2.67 47.69h1.58M9.34 47.69h1.58M14.68 60.40h1.58M29.37 60.40h1.58M32.04 60.40h1.58M44.05 60.40h1.58"/>
<path stroke="#f6d849" d="M42.72 3.18h1.58M48.06 3.18h1.58M52.06 3.18h1.58M44.05 9.54h1.58M48.06 9.54h1.58M49.39 9.54h1.58M64.08 9.54h1.58M2.67 22.25h1.58M42.72 28.61h1.58M34.71 34.97h1.58M100.12 41.33h1.58M101.46 41.33h1.58M104.13 41.33h1.58M1.33 60.40h1.58M9.34 60.40h1.58M17.36 60.40h1.58M30.70 60.40h1.58"/>
<path stroke="#f8e669" d="M44.05 3.18h1.58M36.05 9.54h1.58M41.38 9.54h1.58M42.72 9.54h1.58M46.73 9.54h1.58M56.07 9.54h1.58M58.74 9.54h1.58M60.07 9.54h1.58M65.41 9.54h1.58M24.03 15.90h1.58M28.04 15.90h1.58M30.70 15.90h1.58M32.04 15.90h1.58M100.12 47.69h1.58M8.01 60.40h1.58M28.04 60.40h1.58"/>
<path stroke="#faf388" d="M41.38 3.18h1.58M45.39 3.18h1.58M46.73 3.18h1.58M53.40 3.18h1.58M54.73 3.18h1.58M56.07 3.18h1.58M57.41 3.18h1.58M58.74 3.18h1.58M60.07 3.18h1.58M61.41 3.18h1.58M62.74 3.18h1.58M37.38 9.54h1.58M38.71 9.54h1.58M40.05 9.54h1.58M54.73 9.54h1.58M21.36 15.90h1.58M22.70 15.90h1.58M25.36 15.90h1.58M29.37 15.90h1.58M0.00 22.25h1.58M1.33 22.25h1.58M4.00 22.25h1.58M5.34 22.25h1.58M6.67 22.25h1.58M8.01 22.25h1.58M9.34 22.25h1.58M102.80 41.33h1.58M105.47 41.33h1.58M101.46 47.69h1.58M102.80 47.69h1.58M104.13 47.69h1.58M105.47 47.69h1.58M0.00 60.40h1.58M6.67 60.40h1.58M10.68 60.40h1.58M12.02 60.40h1.58M13.35 60.40h1.58M26.70 60.40h1.58"/>
</g>
<rect x="29.20" y="614.50" width="106.80" height="76.30" fill="none" stroke="#000" stroke-width="1.1" />
<line x1="82.60" y1="614.50" x2="82.60" y2="690.80" stroke="#fff" stroke-width="1.3" stroke-dasharray="4.8 3.4"/>
<text x="23.20" y="650.60" font-size="15.6" text-anchor="middle" fill="#111" transform="rotate(-90 23.20 650.60)" stroke="#111" stroke-width="0.2">Control</text>
<text x="81.80" y="707.00" font-size="11" text-anchor="middle" fill="#111" stroke="#111" stroke-width="0.2">z-score</text>
<defs><linearGradient id="cbM" x1="0" y1="0" x2="1" y2="0"><stop offset="0.0" stop-color="#090419"/><stop offset="0.1" stop-color="#250b49"/><stop offset="0.2" stop-color="#4c0d6a"/><stop offset="0.3" stop-color="#721a6d"/><stop offset="0.4" stop-color="#982865"/><stop offset="0.5" stop-color="#be3853"/><stop offset="0.6" stop-color="#dc503b"/><stop offset="0.7" stop-color="#f1741c"/><stop offset="0.8" stop-color="#fb9e0c"/><stop offset="0.9" stop-color="#f7cc38"/><stop offset="1.0" stop-color="#faf388"/></linearGradient></defs>
<rect x="56.20" y="711.20" width="51.30" height="8.60" fill="url(#cbM)" stroke="#000" stroke-width="0.9" />
<text x="57.80" y="732.30" font-size="10.6" text-anchor="middle" fill="#111" stroke="#111" stroke-width="0.2">0</text>
<text x="106.00" y="732.30" font-size="10.6" text-anchor="middle" fill="#111" stroke="#111" stroke-width="0.2">Max</text>
<text x="170.50" y="605.40" font-size="15.3" fill="#111" stroke="#111" stroke-width="0.2">Edge</text>
<line x1="206.23" y1="599.89" x2="218.93" y2="599.89" stroke="#000" stroke-width="1.35" />
<polygon points="221.4,599.9 216.4,597.5 216.4,602.3" fill="#000" />
<text x="231.23" y="605.40" font-size="15.3" fill="#111" stroke="#111" stroke-width="0.2">TZ</text>
<g transform="translate(159.50,614.50)" stroke-width="6.46" fill="none">
<rect x="0.00" y="0.00" width="106.70" height="119.00" fill="#b03060" />
<path stroke="#10082b" d="M0.00 3.13h1.58M1.33 3.13h1.58M2.67 3.13h1.58M6.67 3.13h1.58M17.34 3.13h1.58M18.67 3.13h1.58M20.01 3.13h1.58M38.68 15.66h1.58M0.00 21.92h1.58M1.33 21.92h1.58M2.67 21.92h1.58M5.33 21.92h1.58M6.67 21.92h1.58M73.36 34.45h1.58M74.69 34.45h1.58M76.02 34.45h1.58M77.36 34.45h1.58M78.69 34.45h1.58M8.00 53.24h1.58M9.34 53.24h1.58M17.34 53.24h1.58M2.67 59.50h1.58M94.70 65.76h1.58M96.03 65.76h1.58M97.36 65.76h1.58M98.70 65.76h1.58M102.70 72.03h1.58M104.03 72.03h1.58M105.37 72.03h1.58M76.02 84.55h1.58M61.35 103.34h1.58"/>
<path stroke="#190b3c" d="M14.67 3.13h1.58M21.34 3.13h1.58M25.34 3.13h1.58M66.69 9.39h1.58M40.01 15.66h1.58M8.00 21.92h1.58M9.34 21.92h1.58M30.68 28.18h1.58M49.35 40.71h1.58M50.68 40.71h1.58M5.33 53.24h1.58M38.68 53.24h1.58M42.68 53.24h1.58M98.70 59.50h1.58M102.70 65.76h1.58M96.03 72.03h1.58M101.36 72.03h1.58M36.01 90.82h1.58M60.02 103.34h1.58"/>
<path stroke="#270b4c" d="M5.33 3.13h1.58M62.69 9.39h1.58M32.01 28.18h1.58M45.35 40.71h1.58M53.35 40.71h1.58M54.68 40.71h1.58M61.35 40.71h1.58M105.37 46.97h1.58M4.00 53.24h1.58M10.67 53.24h1.58M92.03 59.50h1.58M86.69 65.76h1.58M104.03 65.76h1.58M97.36 72.03h1.58M100.03 72.03h1.58M24.01 78.29h1.58M77.36 84.55h1.58M81.36 84.55h1.58M41.35 90.82h1.58M64.02 103.34h1.58M4.00 115.87h1.58"/>
<path stroke="#360a5b" d="M4.00 3.13h1.58M8.00 3.13h1.58M10.67 3.13h1.58M12.00 3.13h1.58M13.34 3.13h1.58M16.00 3.13h1.58M68.02 9.39h1.58M90.69 15.66h1.58M4.00 21.92h1.58M26.68 28.18h1.58M28.01 28.18h1.58M60.02 40.71h1.58M100.03 46.97h1.58M12.00 53.24h1.58M37.34 53.24h1.58M1.33 59.50h1.58M74.69 59.50h1.58M81.36 65.76h1.58M74.69 84.55h1.58M62.69 103.34h1.58M65.35 103.34h1.58M86.69 109.61h1.58M5.33 115.87h1.58M8.00 115.87h1.58"/>
<path stroke="#440b68" d="M22.67 3.13h1.58M24.01 3.13h1.58M32.01 3.13h1.58M64.02 9.39h1.58M65.35 9.39h1.58M29.34 28.18h1.58M36.01 28.18h1.58M41.35 34.45h1.58M50.68 34.45h1.58M82.69 34.45h1.58M46.68 40.71h1.58M6.67 53.24h1.58M41.35 53.24h1.58M45.35 53.24h1.58M46.68 53.24h1.58M81.36 59.50h1.58M82.69 59.50h1.58M93.36 59.50h1.58M97.36 59.50h1.58M88.03 65.76h1.58M101.36 65.76h1.58M105.37 65.76h1.58M98.70 72.03h1.58M30.68 78.29h1.58M94.70 78.29h1.58M65.35 84.55h1.58M66.69 84.55h1.58M68.02 84.55h1.58M34.68 90.82h1.58M40.01 90.82h1.58M42.68 90.82h1.58M85.36 90.82h1.58"/>
<path stroke="#520f6a" d="M30.68 3.13h1.58M104.03 9.39h1.58M105.37 9.39h1.58M37.34 15.66h1.58M13.34 21.92h1.58M93.36 28.18h1.58M40.01 34.45h1.58M72.02 34.45h1.58M44.01 40.71h1.58M48.02 40.71h1.58M104.03 46.97h1.58M0.00 53.24h1.58M16.00 53.24h1.58M21.34 53.24h1.58M22.67 53.24h1.58M48.02 53.24h1.58M4.00 59.50h1.58M74.69 65.76h1.58M82.69 65.76h1.58M89.36 65.76h1.58M89.36 72.03h1.58M94.70 72.03h1.58M93.36 78.29h1.58M102.70 78.29h1.58M72.02 84.55h1.58M73.36 84.55h1.58M30.68 90.82h1.58M32.01 90.82h1.58M85.36 109.61h1.58M6.67 115.87h1.58"/>
<path stroke="#5f136c" d="M58.69 9.39h1.58M69.36 9.39h1.58M85.36 15.66h1.58M89.36 15.66h1.58M33.34 28.18h1.58M34.68 28.18h1.58M42.68 34.45h1.58M70.69 34.45h1.58M80.03 34.45h1.58M84.03 34.45h1.58M96.03 34.45h1.58M52.02 40.71h1.58M56.02 40.71h1.58M57.35 40.71h1.58M9.34 46.97h1.58M98.70 46.97h1.58M101.36 46.97h1.58M26.68 53.24h1.58M28.01 53.24h1.58M32.01 53.24h1.58M44.01 53.24h1.58M73.36 59.50h1.58M76.02 59.50h1.58M100.03 59.50h1.58M90.69 65.76h1.58M100.03 65.76h1.58M88.03 72.03h1.58M93.36 72.03h1.58M22.67 78.29h1.58M29.34 78.29h1.58M64.02 84.55h1.58M69.36 84.55h1.58M70.69 84.55h1.58M82.69 84.55h1.58M33.34 90.82h1.58M57.35 90.82h1.58M78.69 90.82h1.58M97.36 97.08h1.58M105.37 97.08h1.58M84.03 109.61h1.58M9.34 115.87h1.58"/>
<path stroke="#6c186e" d="M9.34 3.13h1.58M26.68 3.13h1.58M29.34 3.13h1.58M34.68 3.13h1.58M50.68 3.13h1.58M100.03 9.39h1.58M14.67 15.66h1.58M92.03 15.66h1.58M93.36 15.66h1.58M94.70 15.66h1.58M58.69 40.71h1.58M62.69 40.71h1.58M10.67 46.97h1.58M21.34 46.97h1.58M18.67 53.24h1.58M24.01 53.24h1.58M25.34 53.24h1.58M33.34 53.24h1.58M34.68 53.24h1.58M28.01 59.50h1.58M77.36 59.50h1.58M90.69 59.50h1.58M105.37 59.50h1.58M65.35 65.76h1.58M66.69 65.76h1.58M68.02 65.76h1.58M69.36 65.76h1.58M76.02 65.76h1.58M77.36 65.76h1.58M78.69 65.76h1.58M85.36 65.76h1.58M93.36 65.76h1.58M90.69 72.03h1.58M33.34 78.29h1.58M57.35 78.29h1.58M96.03 78.29h1.58M90.69 84.55h1.58M44.01 90.82h1.58M74.69 90.82h1.58M76.02 90.82h1.58M89.36 90.82h1.58M96.03 90.82h1.58M57.35 103.34h1.58M61.35 109.61h1.58M20.01 115.87h1.58"/>
<path stroke="#7a1d6b" d="M33.34 3.13h1.58M49.35 9.39h1.58M57.35 9.39h1.58M70.69 9.39h1.58M89.36 9.39h1.58M13.34 15.66h1.58M29.34 15.66h1.58M41.35 15.66h1.58M44.01 15.66h1.58M10.67 21.92h1.58M14.67 21.92h1.58M25.34 28.18h1.58M37.34 28.18h1.58M94.70 28.18h1.58M96.03 28.18h1.58M101.36 28.18h1.58M52.02 34.45h1.58M85.36 34.45h1.58M8.00 46.97h1.58M12.00 46.97h1.58M36.01 46.97h1.58M88.03 46.97h1.58M13.34 53.24h1.58M29.34 53.24h1.58M0.00 59.50h1.58M94.70 59.50h1.58M96.03 59.50h1.58M102.70 59.50h1.58M104.03 59.50h1.58M80.03 65.76h1.58M92.03 72.03h1.58M12.00 78.29h1.58M20.01 78.29h1.58M21.34 78.29h1.58M32.01 78.29h1.58M45.35 78.29h1.58M46.68 78.29h1.58M92.03 78.29h1.58M78.69 84.55h1.58M37.34 90.82h1.58M53.35 90.82h1.58M84.03 90.82h1.58M93.36 90.82h1.58M94.70 90.82h1.58M104.03 97.08h1.58M30.68 103.34h1.58M58.69 103.34h1.58M0.00 115.87h1.58M2.67 115.87h1.58M13.34 115.87h1.58M21.34 115.87h1.58"/>
<path stroke="#882269" d="M36.01 3.13h1.58M38.68 3.13h1.58M54.68 9.39h1.58M61.35 9.39h1.58M97.36 9.39h1.58M101.36 9.39h1.58M16.00 15.66h1.58M36.01 15.66h1.58M45.35 15.66h1.58M82.69 15.66h1.58M84.03 15.66h1.58M22.67 28.18h1.58M69.36 34.45h1.58M86.69 34.45h1.58M94.70 34.45h1.58M2.67 40.71h1.58M42.68 40.71h1.58M20.01 46.97h1.58M89.36 46.97h1.58M97.36 46.97h1.58M14.67 53.24h1.58M30.68 53.24h1.58M56.02 53.24h1.58M6.67 59.50h1.58M8.00 59.50h1.58M78.69 59.50h1.58M80.03 59.50h1.58M84.03 59.50h1.58M85.36 59.50h1.58M101.36 59.50h1.58M41.35 65.76h1.58M92.03 65.76h1.58M13.34 78.29h1.58M25.34 78.29h1.58M42.68 78.29h1.58M52.02 78.29h1.58M58.69 78.29h1.58M104.03 78.29h1.58M80.03 84.55h1.58M88.03 84.55h1.58M89.36 84.55h1.58M29.34 90.82h1.58M77.36 90.82h1.58M80.03 90.82h1.58M92.03 90.82h1.58M98.70 90.82h1.58M56.02 103.34h1.58M49.35 109.61h1.58M53.35 109.61h1.58M90.69 109.61h1.58M1.33 115.87h1.58M12.00 115.87h1.58M62.69 115.87h1.58M64.02 115.87h1.58"/>
<path stroke="#952766" d="M28.01 3.13h1.58M37.34 3.13h1.58M40.01 3.13h1.58M44.01 3.13h1.58M49.35 3.13h1.58M40.01 9.39h1.58M41.35 9.39h1.58M56.02 9.39h1.58M72.02 9.39h1.58M96.03 9.39h1.58M98.70 9.39h1.58M12.00 15.66h1.58M96.03 15.66h1.58M97.36 15.66h1.58M20.01 21.92h1.58M24.01 28.18h1.58M92.03 28.18h1.58M16.00 34.45h1.58M38.68 34.45h1.58M56.02 34.45h1.58M57.35 34.45h1.58M64.02 34.45h1.58M65.35 34.45h1.58M66.69 34.45h1.58M81.36 34.45h1.58M86.69 40.71h1.58M24.01 46.97h1.58M25.34 46.97h1.58M28.01 46.97h1.58M34.68 46.97h1.58M40.01 46.97h1.58M80.03 46.97h1.58M93.36 46.97h1.58M102.70 46.97h1.58M1.33 53.24h1.58M2.67 53.24h1.58M20.01 53.24h1.58M36.01 53.24h1.58M5.33 59.50h1.58M12.00 59.50h1.58M17.34 59.50h1.58M42.68 59.50h1.58M61.35 59.50h1.58M68.02 59.50h1.58M69.36 59.50h1.58M86.69 59.50h1.58M89.36 59.50h1.58M42.68 65.76h1.58M44.01 65.76h1.58M57.35 65.76h1.58M70.69 65.76h1.58M34.68 72.03h1.58M18.67 78.29h1.58M50.68 78.29h1.58M48.02 84.55h1.58M49.35 84.55h1.58M62.69 84.55h1.58M86.69 84.55h1.58M38.68 90.82h1.58M72.02 90.82h1.58M73.36 90.82h1.58M86.69 90.82h1.58M88.03 90.82h1.58M100.03 90.82h1.58M90.69 97.08h1.58M96.03 97.08h1.58M48.02 103.34h1.58M52.02 103.34h1.58M53.35 103.34h1.58M54.68 103.34h1.58M66.69 103.34h1.58M69.36 103.34h1.58M65.35 109.61h1.58M10.67 115.87h1.58M97.36 115.87h1.58"/>
<path stroke="#a32d60" d="M48.02 3.13h1.58M50.68 9.39h1.58M76.02 9.39h1.58M17.34 15.66h1.58M42.68 15.66h1.58M76.02 15.66h1.58M77.36 15.66h1.58M102.70 15.66h1.58M12.00 21.92h1.58M21.34 28.18h1.58M0.00 34.45h1.58M49.35 34.45h1.58M6.67 40.71h1.58M8.00 40.71h1.58M65.35 40.71h1.58M69.36 40.71h1.58M72.02 40.71h1.58M101.36 40.71h1.58M102.70 40.71h1.58M29.34 46.97h1.58M37.34 46.97h1.58M41.35 46.97h1.58M49.35 46.97h1.58M64.02 46.97h1.58M70.69 46.97h1.58M74.69 46.97h1.58M81.36 46.97h1.58M94.70 46.97h1.58M40.01 53.24h1.58M10.67 59.50h1.58M29.34 59.50h1.58M40.01 59.50h1.58M41.35 59.50h1.58M88.03 59.50h1.58M40.01 65.76h1.58M56.02 65.76h1.58M73.36 65.76h1.58M36.01 72.03h1.58M41.35 72.03h1.58M14.67 78.29h1.58M28.01 78.29h1.58M41.35 78.29h1.58M44.01 78.29h1.58M56.02 78.29h1.58M76.02 78.29h1.58M89.36 78.29h1.58M90.69 78.29h1.58M98.70 78.29h1.58M54.68 84.55h1.58M56.02 84.55h1.58M60.02 84.55h1.58M85.36 84.55h1.58M28.01 90.82h1.58M90.69 90.82h1.58M97.36 90.82h1.58M88.03 97.08h1.58M98.70 97.08h1.58M100.03 97.08h1.58M32.01 103.34h1.58M49.35 103.34h1.58M50.68 103.34h1.58M74.69 103.34h1.58M88.03 103.34h1.58M82.69 109.61h1.58M88.03 109.61h1.58M98.70 115.87h1.58"/>
<path stroke="#b03259" d="M45.35 3.13h1.58M46.68 3.13h1.58M48.02 9.39h1.58M80.03 9.39h1.58M84.03 9.39h1.58M90.69 9.39h1.58M102.70 9.39h1.58M0.00 15.66h1.58M18.67 15.66h1.58M21.34 15.66h1.58M28.01 15.66h1.58M30.68 15.66h1.58M33.34 15.66h1.58M34.68 15.66h1.58M78.69 15.66h1.58M86.69 15.66h1.58M88.03 15.66h1.58M101.36 15.66h1.58M18.67 21.92h1.58M82.69 28.18h1.58M84.03 28.18h1.58M97.36 28.18h1.58M36.01 34.45h1.58M44.01 34.45h1.58M58.69 34.45h1.58M88.03 34.45h1.58M92.03 34.45h1.58M4.00 40.71h1.58M9.34 40.71h1.58M68.02 40.71h1.58M70.69 40.71h1.58M33.34 46.97h1.58M38.68 46.97h1.58M42.68 46.97h1.58M48.02 46.97h1.58M50.68 46.97h1.58M76.02 46.97h1.58M78.69 46.97h1.58M90.69 46.97h1.58M49.35 53.24h1.58M54.68 53.24h1.58M9.34 59.50h1.58M13.34 59.50h1.58M14.67 59.50h1.58M16.00 59.50h1.58M18.67 59.50h1.58M38.68 59.50h1.58M50.68 59.50h1.58M54.68 59.50h1.58M21.34 65.76h1.58M45.35 65.76h1.58M53.35 65.76h1.58M4.00 78.29h1.58M5.33 78.29h1.58M34.68 78.29h1.58M74.69 78.29h1.58M77.36 78.29h1.58M82.69 78.29h1.58M88.03 78.29h1.58M101.36 78.29h1.58M61.35 84.55h1.58M94.70 84.55h1.58M26.68 90.82h1.58M58.69 90.82h1.58M86.69 97.08h1.58M89.36 97.08h1.58M26.68 103.34h1.58M33.34 103.34h1.58M34.68 103.34h1.58M70.69 103.34h1.58M73.36 103.34h1.58M76.02 103.34h1.58M54.68 109.61h1.58M60.02 109.61h1.58M62.69 109.61h1.58M92.03 109.61h1.58M14.67 115.87h1.58M16.00 115.87h1.58"/>
<path stroke="#be3853" d="M52.02 3.13h1.58M46.68 9.39h1.58M53.35 9.39h1.58M73.36 9.39h1.58M78.69 9.39h1.58M88.03 9.39h1.58M94.70 9.39h1.58M20.01 15.66h1.58M32.01 15.66h1.58M81.36 15.66h1.58M61.35 21.92h1.58M46.68 28.18h1.58M48.02 28.18h1.58M66.69 28.18h1.58M80.03 28.18h1.58M102.70 28.18h1.58M60.02 34.45h1.58M62.69 34.45h1.58M68.02 34.45h1.58M93.36 34.45h1.58M1.33 40.71h1.58M40.01 40.71h1.58M41.35 40.71h1.58M64.02 40.71h1.58M66.69 40.71h1.58M104.03 40.71h1.58M105.37 40.71h1.58M13.34 46.97h1.58M17.34 46.97h1.58M77.36 46.97h1.58M58.69 53.24h1.58M26.68 59.50h1.58M37.34 59.50h1.58M52.02 59.50h1.58M60.02 59.50h1.58M65.35 59.50h1.58M70.69 59.50h1.58M72.02 59.50h1.58M13.34 65.76h1.58M37.34 65.76h1.58M50.68 65.76h1.58M58.69 65.76h1.58M60.02 65.76h1.58M61.35 65.76h1.58M84.03 65.76h1.58M0.00 78.29h1.58M8.00 78.29h1.58M16.00 78.29h1.58M17.34 78.29h1.58M26.68 78.29h1.58M60.02 78.29h1.58M81.36 78.29h1.58M97.36 78.29h1.58M9.34 84.55h1.58M34.68 84.55h1.58M44.01 84.55h1.58M84.03 84.55h1.58M24.01 90.82h1.58M54.68 90.82h1.58M70.69 90.82h1.58M57.35 97.08h1.58M58.69 97.08h1.58M60.02 97.08h1.58M70.69 97.08h1.58M85.36 97.08h1.58M101.36 97.08h1.58M102.70 97.08h1.58M12.00 103.34h1.58M28.01 103.34h1.58M29.34 103.34h1.58M46.68 103.34h1.58M68.02 103.34h1.58M77.36 103.34h1.58M17.34 109.61h1.58M48.02 109.61h1.58M80.03 109.61h1.58M98.70 109.61h1.58M28.01 115.87h1.58M52.02 115.87h1.58M94.70 115.87h1.58"/>
<path stroke="#c9414a" d="M42.68 9.39h1.58M60.02 9.39h1.58M82.69 9.39h1.58M93.36 9.39h1.58M22.67 15.66h1.58M24.01 15.66h1.58M48.02 15.66h1.58M74.69 15.66h1.58M104.03 15.66h1.58M30.68 21.92h1.58M6.67 28.18h1.58M14.67 28.18h1.58M16.00 28.18h1.58M17.34 28.18h1.58M38.68 28.18h1.58M65.35 28.18h1.58M81.36 28.18h1.58M85.36 28.18h1.58M86.69 28.18h1.58M100.03 28.18h1.58M1.33 34.45h1.58M34.68 34.45h1.58M46.68 34.45h1.58M48.02 34.45h1.58M53.35 34.45h1.58M90.69 34.45h1.58M5.33 40.71h1.58M38.68 40.71h1.58M76.02 40.71h1.58M93.36 40.71h1.58M100.03 40.71h1.58M18.67 46.97h1.58M22.67 46.97h1.58M26.68 46.97h1.58M46.68 46.97h1.58M62.69 46.97h1.58M86.69 46.97h1.58M92.03 46.97h1.58M96.03 46.97h1.58M57.35 53.24h1.58M30.68 59.50h1.58M53.35 59.50h1.58M64.02 59.50h1.58M14.67 65.76h1.58M20.01 65.76h1.58M38.68 65.76h1.58M46.68 65.76h1.58M54.68 65.76h1.58M33.34 72.03h1.58M37.34 72.03h1.58M42.68 72.03h1.58M2.67 78.29h1.58M6.67 78.29h1.58M9.34 78.29h1.58M48.02 78.29h1.58M53.35 78.29h1.58M54.68 78.29h1.58M61.35 78.29h1.58M65.35 78.29h1.58M78.69 78.29h1.58M100.03 78.29h1.58M5.33 84.55h1.58M53.35 84.55h1.58M98.70 84.55h1.58M100.03 84.55h1.58M104.03 84.55h1.58M8.00 90.82h1.58M10.67 90.82h1.58M45.35 90.82h1.58M69.36 90.82h1.58M81.36 90.82h1.58M101.36 90.82h1.58M41.35 97.08h1.58M61.35 97.08h1.58M65.35 97.08h1.58M66.69 97.08h1.58M69.36 97.08h1.58M78.69 97.08h1.58M84.03 97.08h1.58M8.00 103.34h1.58M66.69 109.61h1.58M73.36 109.61h1.58M76.02 109.61h1.58M81.36 109.61h1.58M89.36 109.61h1.58M93.36 109.61h1.58M22.67 115.87h1.58M29.34 115.87h1.58M96.03 115.87h1.58M104.03 115.87h1.58"/>
<path stroke="#d44a41" d="M41.35 3.13h1.58M58.69 3.13h1.58M60.02 3.13h1.58M52.02 9.39h1.58M74.69 9.39h1.58M77.36 9.39h1.58M46.68 15.66h1.58M49.35 15.66h1.58M29.34 21.92h1.58M81.36 21.92h1.58M104.03 21.92h1.58M18.67 28.18h1.58M45.35 28.18h1.58M49.35 28.18h1.58M88.03 28.18h1.58M9.34 34.45h1.58M17.34 34.45h1.58M20.01 34.45h1.58M30.68 34.45h1.58M54.68 34.45h1.58M89.36 34.45h1.58M97.36 34.45h1.58M0.00 40.71h1.58M36.01 40.71h1.58M37.34 40.71h1.58M73.36 40.71h1.58M74.69 40.71h1.58M92.03 40.71h1.58M94.70 40.71h1.58M98.70 40.71h1.58M0.00 46.97h1.58M4.00 46.97h1.58M6.67 46.97h1.58M44.01 46.97h1.58M69.36 46.97h1.58M72.02 46.97h1.58M60.02 53.24h1.58M21.34 59.50h1.58M33.34 59.50h1.58M34.68 59.50h1.58M36.01 59.50h1.58M44.01 59.50h1.58M45.35 59.50h1.58M49.35 59.50h1.58M58.69 59.50h1.58M62.69 59.50h1.58M32.01 65.76h1.58M49.35 65.76h1.58M52.02 65.76h1.58M64.02 65.76h1.58M72.02 65.76h1.58M29.34 72.03h1.58M40.01 72.03h1.58M86.69 72.03h1.58M1.33 78.29h1.58M62.69 78.29h1.58M66.69 78.29h1.58M105.37 78.29h1.58M2.67 84.55h1.58M28.01 84.55h1.58M32.01 84.55h1.58M45.35 84.55h1.58M92.03 84.55h1.58M96.03 84.55h1.58M9.34 90.82h1.58M102.70 90.82h1.58M104.03 90.82h1.58M42.68 97.08h1.58M56.02 97.08h1.58M62.69 97.08h1.58M92.03 97.08h1.58M24.01 103.34h1.58M25.34 103.34h1.58M72.02 103.34h1.58M78.69 103.34h1.58M94.70 103.34h1.58M100.03 103.34h1.58M101.36 103.34h1.58M50.68 109.61h1.58M52.02 109.61h1.58M64.02 109.61h1.58M69.36 109.61h1.58M97.36 109.61h1.58M100.03 109.61h1.58M101.36 109.61h1.58M17.34 115.87h1.58M50.68 115.87h1.58M58.69 115.87h1.58M61.35 115.87h1.58M100.03 115.87h1.58"/>
<path stroke="#de5338" d="M38.68 9.39h1.58M85.36 9.39h1.58M92.03 9.39h1.58M5.33 15.66h1.58M73.36 15.66h1.58M98.70 15.66h1.58M105.37 15.66h1.58M93.36 21.92h1.58M102.70 21.92h1.58M105.37 21.92h1.58M20.01 28.18h1.58M68.02 28.18h1.58M74.69 28.18h1.58M104.03 28.18h1.58M105.37 28.18h1.58M14.67 34.45h1.58M37.34 34.45h1.58M45.35 34.45h1.58M101.36 34.45h1.58M85.36 40.71h1.58M90.69 40.71h1.58M5.33 46.97h1.58M32.01 46.97h1.58M45.35 46.97h1.58M52.02 46.97h1.58M62.69 53.24h1.58M66.69 59.50h1.58M26.68 72.03h1.58M46.68 72.03h1.58M10.67 78.29h1.58M37.34 78.29h1.58M38.68 78.29h1.58M49.35 78.29h1.58M64.02 78.29h1.58M72.02 78.29h1.58M80.03 78.29h1.58M1.33 84.55h1.58M4.00 84.55h1.58M6.67 84.55h1.58M10.67 84.55h1.58M20.01 84.55h1.58M29.34 84.55h1.58M33.34 84.55h1.58M57.35 84.55h1.58M58.69 84.55h1.58M93.36 84.55h1.58M97.36 84.55h1.58M105.37 84.55h1.58M4.00 90.82h1.58M12.00 90.82h1.58M25.34 90.82h1.58M48.02 90.82h1.58M52.02 90.82h1.58M56.02 90.82h1.58M64.02 90.82h1.58M68.02 90.82h1.58M82.69 90.82h1.58M28.01 97.08h1.58M54.68 97.08h1.58M64.02 97.08h1.58M77.36 97.08h1.58M94.70 97.08h1.58M13.34 103.34h1.58M36.01 103.34h1.58M45.35 109.61h1.58M46.68 109.61h1.58M56.02 109.61h1.58M57.35 109.61h1.58M58.69 109.61h1.58M74.69 109.61h1.58M77.36 109.61h1.58M78.69 109.61h1.58M18.67 115.87h1.58M24.01 115.87h1.58M26.68 115.87h1.58M30.68 115.87h1.58M32.01 115.87h1.58M45.35 115.87h1.58M65.35 115.87h1.58"/>
<path stroke="#e5602e" d="M42.68 3.13h1.58M84.03 3.13h1.58M28.01 9.39h1.58M32.01 9.39h1.58M37.34 9.39h1.58M86.69 9.39h1.58M1.33 15.66h1.58M8.00 15.66h1.58M10.67 15.66h1.58M25.34 15.66h1.58M52.02 15.66h1.58M72.02 15.66h1.58M66.69 21.92h1.58M68.02 21.92h1.58M69.36 21.92h1.58M86.69 21.92h1.58M90.69 21.92h1.58M101.36 21.92h1.58M40.01 28.18h1.58M50.68 28.18h1.58M52.02 28.18h1.58M64.02 28.18h1.58M89.36 28.18h1.58M90.69 28.18h1.58M2.67 34.45h1.58M5.33 34.45h1.58M8.00 34.45h1.58M10.67 34.45h1.58M21.34 34.45h1.58M25.34 34.45h1.58M29.34 34.45h1.58M32.01 34.45h1.58M61.35 34.45h1.58M102.70 34.45h1.58M34.68 40.71h1.58M82.69 40.71h1.58M88.03 40.71h1.58M89.36 40.71h1.58M96.03 40.71h1.58M14.67 46.97h1.58M30.68 46.97h1.58M65.35 46.97h1.58M68.02 46.97h1.58M73.36 46.97h1.58M82.69 46.97h1.58M50.68 53.24h1.58M52.02 53.24h1.58M53.35 53.24h1.58M20.01 59.50h1.58M22.67 59.50h1.58M32.01 59.50h1.58M9.34 65.76h1.58M12.00 65.76h1.58M62.69 65.76h1.58M28.01 72.03h1.58M38.68 72.03h1.58M80.03 72.03h1.58M40.01 78.29h1.58M68.02 78.29h1.58M70.69 78.29h1.58M86.69 78.29h1.58M14.67 84.55h1.58M18.67 84.55h1.58M21.34 84.55h1.58M38.68 84.55h1.58M46.68 84.55h1.58M50.68 84.55h1.58M13.34 90.82h1.58M22.67 90.82h1.58M65.35 90.82h1.58M66.69 90.82h1.58M105.37 90.82h1.58M33.34 97.08h1.58M50.68 97.08h1.58M73.36 97.08h1.58M80.03 97.08h1.58M81.36 97.08h1.58M82.69 97.08h1.58M6.67 103.34h1.58M80.03 103.34h1.58M89.36 103.34h1.58M4.00 109.61h1.58M10.67 109.61h1.58M12.00 109.61h1.58M68.02 109.61h1.58M72.02 109.61h1.58M94.70 109.61h1.58M42.68 115.87h1.58M46.68 115.87h1.58M49.35 115.87h1.58M53.35 115.87h1.58M54.68 115.87h1.58M105.37 115.87h1.58"/>
<path stroke="#ed6d23" d="M56.02 3.13h1.58M57.35 3.13h1.58M61.35 3.13h1.58M26.68 9.39h1.58M30.68 9.39h1.58M45.35 9.39h1.58M81.36 9.39h1.58M4.00 15.66h1.58M80.03 15.66h1.58M16.00 21.92h1.58M24.01 21.92h1.58M57.35 21.92h1.58M60.02 21.92h1.58M65.35 21.92h1.58M80.03 21.92h1.58M82.69 21.92h1.58M85.36 21.92h1.58M92.03 21.92h1.58M13.34 28.18h1.58M44.01 28.18h1.58M62.69 28.18h1.58M76.02 28.18h1.58M24.01 34.45h1.58M33.34 34.45h1.58M10.67 40.71h1.58M33.34 40.71h1.58M81.36 40.71h1.58M97.36 40.71h1.58M16.00 46.97h1.58M54.68 46.97h1.58M61.35 53.24h1.58M85.36 53.24h1.58M46.68 59.50h1.58M6.67 65.76h1.58M16.00 65.76h1.58M18.67 65.76h1.58M22.67 65.76h1.58M24.01 65.76h1.58M26.68 65.76h1.58M36.01 65.76h1.58M48.02 65.76h1.58M2.67 72.03h1.58M30.68 72.03h1.58M32.01 72.03h1.58M44.01 72.03h1.58M45.35 72.03h1.58M50.68 72.03h1.58M70.69 72.03h1.58M84.03 72.03h1.58M73.36 78.29h1.58M84.03 78.29h1.58M36.01 84.55h1.58M40.01 84.55h1.58M41.35 84.55h1.58M42.68 84.55h1.58M5.33 90.82h1.58M6.67 90.82h1.58M14.67 90.82h1.58M18.67 90.82h1.58M62.69 90.82h1.58M32.01 97.08h1.58M34.68 97.08h1.58M36.01 97.08h1.58M74.69 97.08h1.58M9.34 103.34h1.58M20.01 103.34h1.58M22.67 103.34h1.58M45.35 103.34h1.58M81.36 103.34h1.58M92.03 103.34h1.58M9.34 109.61h1.58M13.34 109.61h1.58M21.34 109.61h1.58M96.03 109.61h1.58M102.70 109.61h1.58M105.37 109.61h1.58M25.34 115.87h1.58M37.34 115.87h1.58M44.01 115.87h1.58M48.02 115.87h1.58M57.35 115.87h1.58M82.69 115.87h1.58M84.03 115.87h1.58M86.69 115.87h1.58M93.36 115.87h1.58"/>
<path stroke="#f37a18" d="M53.35 3.13h1.58M54.68 3.13h1.58M65.35 3.13h1.58M66.69 3.13h1.58M82.69 3.13h1.58M5.33 9.39h1.58M29.34 9.39h1.58M33.34 9.39h1.58M44.01 9.39h1.58M6.67 15.66h1.58M50.68 15.66h1.58M53.35 15.66h1.58M60.02 15.66h1.58M21.34 21.92h1.58M22.67 21.92h1.58M58.69 21.92h1.58M62.69 21.92h1.58M73.36 21.92h1.58M89.36 21.92h1.58M94.70 21.92h1.58M100.03 21.92h1.58M8.00 28.18h1.58M53.35 28.18h1.58M61.35 28.18h1.58M73.36 28.18h1.58M98.70 28.18h1.58M4.00 34.45h1.58M6.67 34.45h1.58M12.00 34.45h1.58M22.67 34.45h1.58M26.68 34.45h1.58M100.03 34.45h1.58M77.36 40.71h1.58M78.69 40.71h1.58M80.03 40.71h1.58M1.33 46.97h1.58M84.03 46.97h1.58M85.36 46.97h1.58M57.35 59.50h1.58M5.33 65.76h1.58M8.00 65.76h1.58M10.67 65.76h1.58M17.34 65.76h1.58M25.34 65.76h1.58M28.01 65.76h1.58M33.34 65.76h1.58M25.34 72.03h1.58M48.02 72.03h1.58M52.02 72.03h1.58M81.36 72.03h1.58M85.36 72.03h1.58M36.01 78.29h1.58M69.36 78.29h1.58M8.00 84.55h1.58M13.34 84.55h1.58M30.68 84.55h1.58M37.34 84.55h1.58M52.02 84.55h1.58M102.70 84.55h1.58M49.35 90.82h1.58M10.67 97.08h1.58M14.67 97.08h1.58M24.01 97.08h1.58M46.68 97.08h1.58M93.36 97.08h1.58M10.67 103.34h1.58M21.34 103.34h1.58M37.34 103.34h1.58M82.69 103.34h1.58M86.69 103.34h1.58M93.36 103.34h1.58M96.03 103.34h1.58M105.37 103.34h1.58M0.00 109.61h1.58M8.00 109.61h1.58M38.68 109.61h1.58M40.01 109.61h1.58M41.35 109.61h1.58M70.69 109.61h1.58M33.34 115.87h1.58M38.68 115.87h1.58M56.02 115.87h1.58M60.02 115.87h1.58M66.69 115.87h1.58M85.36 115.87h1.58M88.03 115.87h1.58M101.36 115.87h1.58"/>
<path stroke="#f68913" d="M69.36 3.13h1.58M6.67 9.39h1.58M20.01 9.39h1.58M9.34 15.66h1.58M26.68 15.66h1.58M100.03 15.66h1.58M17.34 21.92h1.58M28.01 21.92h1.58M64.02 21.92h1.58M70.69 21.92h1.58M84.03 21.92h1.58M88.03 21.92h1.58M97.36 21.92h1.58M2.67 28.18h1.58M12.00 28.18h1.58M69.36 28.18h1.58M78.69 28.18h1.58M13.34 34.45h1.58M18.67 34.45h1.58M13.34 40.71h1.58M17.34 40.71h1.58M25.34 40.71h1.58M53.35 46.97h1.58M56.02 46.97h1.58M64.02 53.24h1.58M24.01 59.50h1.58M56.02 59.50h1.58M22.67 72.03h1.58M49.35 72.03h1.58M61.35 72.03h1.58M16.00 84.55h1.58M17.34 84.55h1.58M25.34 84.55h1.58M101.36 84.55h1.58M20.01 90.82h1.58M46.68 90.82h1.58M16.00 97.08h1.58M29.34 97.08h1.58M30.68 97.08h1.58M37.34 97.08h1.58M49.35 97.08h1.58M53.35 97.08h1.58M68.02 97.08h1.58M18.67 103.34h1.58M40.01 103.34h1.58M41.35 103.34h1.58M90.69 103.34h1.58M104.03 103.34h1.58M1.33 109.61h1.58M2.67 109.61h1.58M5.33 109.61h1.58M18.67 109.61h1.58M104.03 109.61h1.58M70.69 115.87h1.58M90.69 115.87h1.58M102.70 115.87h1.58"/>
<path stroke="#f9980e" d="M76.02 3.13h1.58M81.36 3.13h1.58M105.37 3.13h1.58M0.00 9.39h1.58M21.34 9.39h1.58M70.69 15.66h1.58M26.68 21.92h1.58M32.01 21.92h1.58M33.34 21.92h1.58M37.34 21.92h1.58M53.35 21.92h1.58M74.69 21.92h1.58M96.03 21.92h1.58M98.70 21.92h1.58M0.00 28.18h1.58M10.67 28.18h1.58M41.35 28.18h1.58M60.02 28.18h1.58M70.69 28.18h1.58M2.67 46.97h1.58M61.35 46.97h1.58M66.69 53.24h1.58M84.03 53.24h1.58M105.37 53.24h1.58M25.34 59.50h1.58M48.02 59.50h1.58M2.67 65.76h1.58M4.00 65.76h1.58M56.02 72.03h1.58M26.68 84.55h1.58M2.67 90.82h1.58M16.00 90.82h1.58M9.34 97.08h1.58M22.67 97.08h1.58M72.02 97.08h1.58M17.34 103.34h1.58M16.00 109.61h1.58M41.35 115.87h1.58M92.03 115.87h1.58"/>
<path stroke="#fca70c" d="M62.69 3.13h1.58M85.36 3.13h1.58M100.03 3.13h1.58M17.34 9.39h1.58M18.67 9.39h1.58M25.34 9.39h1.58M36.01 9.39h1.58M2.67 15.66h1.58M61.35 15.66h1.58M52.02 21.92h1.58M54.68 21.92h1.58M77.36 21.92h1.58M78.69 21.92h1.58M1.33 28.18h1.58M5.33 28.18h1.58M42.68 28.18h1.58M77.36 28.18h1.58M98.70 34.45h1.58M14.67 40.71h1.58M30.68 40.71h1.58M32.01 40.71h1.58M66.69 46.97h1.58M96.03 53.24h1.58M104.03 53.24h1.58M30.68 65.76h1.58M4.00 72.03h1.58M21.34 72.03h1.58M24.01 72.03h1.58M54.68 72.03h1.58M78.69 72.03h1.58M82.69 72.03h1.58M85.36 78.29h1.58M0.00 84.55h1.58M22.67 84.55h1.58M0.00 90.82h1.58M1.33 90.82h1.58M17.34 90.82h1.58M50.68 90.82h1.58M60.02 90.82h1.58M26.68 97.08h1.58M45.35 97.08h1.58M52.02 97.08h1.58M76.02 97.08h1.58M1.33 103.34h1.58M5.33 103.34h1.58M38.68 103.34h1.58M44.01 103.34h1.58M102.70 103.34h1.58M6.67 109.61h1.58M22.67 109.61h1.58M42.68 109.61h1.58M81.36 115.87h1.58M89.36 115.87h1.58"/>
<path stroke="#fab820" d="M68.02 3.13h1.58M70.69 3.13h1.58M1.33 9.39h1.58M10.67 9.39h1.58M34.68 9.39h1.58M68.02 15.66h1.58M69.36 15.66h1.58M25.34 21.92h1.58M50.68 21.92h1.58M72.02 21.92h1.58M76.02 21.92h1.58M4.00 28.18h1.58M9.34 28.18h1.58M57.35 28.18h1.58M72.02 28.18h1.58M28.01 34.45h1.58M104.03 34.45h1.58M12.00 40.71h1.58M22.67 40.71h1.58M24.01 40.71h1.58M84.03 40.71h1.58M65.35 53.24h1.58M69.36 53.24h1.58M70.69 53.24h1.58M86.69 53.24h1.58M88.03 53.24h1.58M92.03 53.24h1.58M97.36 53.24h1.58M102.70 53.24h1.58M1.33 65.76h1.58M34.68 65.76h1.58M9.34 72.03h1.58M57.35 72.03h1.58M72.02 72.03h1.58M24.01 84.55h1.58M61.35 90.82h1.58M8.00 97.08h1.58M25.34 97.08h1.58M40.01 97.08h1.58M0.00 103.34h1.58M42.68 103.34h1.58M84.03 103.34h1.58M98.70 103.34h1.58M24.01 109.61h1.58M28.01 109.61h1.58M44.01 109.61h1.58M68.02 115.87h1.58"/>
<path stroke="#f8c834" d="M74.69 3.13h1.58M77.36 3.13h1.58M80.03 3.13h1.58M98.70 3.13h1.58M8.00 9.39h1.58M12.00 9.39h1.58M24.01 9.39h1.58M58.69 15.66h1.58M64.02 15.66h1.58M56.02 21.92h1.58M58.69 28.18h1.58M16.00 40.71h1.58M18.67 40.71h1.58M21.34 40.71h1.58M26.68 40.71h1.58M58.69 46.97h1.58M68.02 53.24h1.58M90.69 53.24h1.58M94.70 53.24h1.58M98.70 53.24h1.58M10.67 72.03h1.58M53.35 72.03h1.58M60.02 72.03h1.58M66.69 72.03h1.58M74.69 72.03h1.58M12.00 84.55h1.58M21.34 90.82h1.58M17.34 97.08h1.58M18.67 97.08h1.58M21.34 97.08h1.58M44.01 97.08h1.58M2.67 103.34h1.58M85.36 103.34h1.58M14.67 109.61h1.58M20.01 109.61h1.58M32.01 109.61h1.58M40.01 115.87h1.58M69.36 115.87h1.58"/>
<path stroke="#f6d849" d="M64.02 3.13h1.58M102.70 3.13h1.58M104.03 3.13h1.58M4.00 9.39h1.58M13.34 9.39h1.58M16.00 9.39h1.58M22.67 9.39h1.58M54.68 15.66h1.58M62.69 15.66h1.58M38.68 21.92h1.58M45.35 21.92h1.58M49.35 21.92h1.58M54.68 28.18h1.58M56.02 28.18h1.58M105.37 34.45h1.58M29.34 40.71h1.58M60.02 46.97h1.58M76.02 53.24h1.58M80.03 53.24h1.58M100.03 53.24h1.58M101.36 53.24h1.58M1.33 72.03h1.58M5.33 72.03h1.58M58.69 72.03h1.58M62.69 72.03h1.58M76.02 72.03h1.58M1.33 97.08h1.58M2.67 97.08h1.58M6.67 97.08h1.58M12.00 97.08h1.58M13.34 97.08h1.58M20.01 97.08h1.58M48.02 97.08h1.58M16.00 103.34h1.58M97.36 103.34h1.58M25.34 109.61h1.58M33.34 109.61h1.58M37.34 109.61h1.58M34.68 115.87h1.58M36.01 115.87h1.58M80.03 115.87h1.58"/>
<path stroke="#f8e669" d="M78.69 3.13h1.58M92.03 3.13h1.58M9.34 9.39h1.58M34.68 21.92h1.58M36.01 21.92h1.58M41.35 21.92h1.58M42.68 21.92h1.58M46.68 21.92h1.58M57.35 46.97h1.58M77.36 53.24h1.58M89.36 53.24h1.58M29.34 65.76h1.58M14.67 72.03h1.58M16.00 72.03h1.58M20.01 72.03h1.58M0.00 97.08h1.58M38.68 97.08h1.58M4.00 103.34h1.58M34.68 109.61h1.58M72.02 115.87h1.58M78.69 115.87h1.58"/>
<path stroke="#faf388" d="M72.02 3.13h1.58M73.36 3.13h1.58M86.69 3.13h1.58M88.03 3.13h1.58M89.36 3.13h1.58M90.69 3.13h1.58M93.36 3.13h1.58M94.70 3.13h1.58M96.03 3.13h1.58M97.36 3.13h1.58M101.36 3.13h1.58M2.67 9.39h1.58M14.67 9.39h1.58M56.02 15.66h1.58M57.35 15.66h1.58M65.35 15.66h1.58M66.69 15.66h1.58M40.01 21.92h1.58M44.01 21.92h1.58M48.02 21.92h1.58M20.01 40.71h1.58M28.01 40.71h1.58M72.02 53.24h1.58M73.36 53.24h1.58M74.69 53.24h1.58M78.69 53.24h1.58M81.36 53.24h1.58M82.69 53.24h1.58M93.36 53.24h1.58M0.00 65.76h1.58M0.00 72.03h1.58M6.67 72.03h1.58M8.00 72.03h1.58M12.00 72.03h1.58M13.34 72.03h1.58M17.34 72.03h1.58M18.67 72.03h1.58M64.02 72.03h1.58M65.35 72.03h1.58M68.02 72.03h1.58M69.36 72.03h1.58M73.36 72.03h1.58M77.36 72.03h1.58M4.00 97.08h1.58M5.33 97.08h1.58M14.67 103.34h1.58M26.68 109.61h1.58M29.34 109.61h1.58M30.68 109.61h1.58M36.01 109.61h1.58M73.36 115.87h1.58M74.69 115.87h1.58M76.02 115.87h1.58M77.36 115.87h1.58"/>
</g>
<rect x="159.50" y="614.50" width="106.70" height="119.00" fill="none" stroke="#000" stroke-width="1.1" />
<line x1="212.40" y1="614.50" x2="212.40" y2="733.50" stroke="#fff" stroke-width="1.3" stroke-dasharray="4.8 3.4"/>
<text x="154.60" y="674.00" font-size="16" text-anchor="middle" fill="#111" transform="rotate(-90 154.60 674.00)" stroke="#111" stroke-width="0.2">Opn4<tspan dy="-6.7" font-size="9.3" fill-opacity="1">-/-</tspan></text>
<line x1="212.60" y1="737.90" x2="266.40" y2="737.90" stroke="#6e6e6e" stroke-width="1.2" />
<text x="241.20" y="750.80" font-size="11.3" text-anchor="middle" fill="#111" stroke="#111" stroke-width="0.2">10 s</text>
<!-- panelN -->
<text x="297.30" y="590.40" font-size="17" stroke="#000" stroke-width="0.2">N.</text>
<text x="358.60" y="592.50" font-size="14.6" fill="#111" stroke="#111" stroke-width="0.2">Edge</text>
<line x1="398.50" y1="590.20" x2="413.00" y2="590.20" stroke="#111" stroke-width="1.2" />
<polygon points="416.0,590.2 411.2,587.9 411.2,592.5" fill="#111" />
<text x="423.70" y="592.50" font-size="14.6" fill="#111" stroke="#111" stroke-width="0.2">TZ</text>
<polygon points="339.8,674.4 340.3,679.7 340.8,675.9 341.3,679.2 341.8,676.3 342.3,676.2 342.8,673.1 343.3,675.9 343.8,678.7 344.3,674.7 344.7,680.2 345.2,674.5 345.7,677.0 346.2,676.7 346.7,675.7 347.2,679.7 347.7,679.9 348.2,678.1 348.7,680.1 349.2,681.9 349.7,674.7 350.2,672.7 350.7,674.6 351.2,676.2 351.7,675.8 352.2,670.7 352.7,670.2 353.2,674.5 353.7,671.2 354.2,677.4 354.6,676.6 355.1,679.5 355.6,682.4 356.1,680.0 356.6,680.6 357.1,679.3 357.6,675.8 358.1,679.2 358.6,677.6 359.1,681.6 359.6,680.4 360.1,680.2 360.6,682.8 361.1,679.6 361.6,682.5 362.1,685.0 362.6,682.3 363.1,689.1 363.6,683.2 364.1,675.1 364.5,676.2 365.0,674.2 365.5,675.3 366.0,677.1 366.5,675.3 367.0,675.9 367.5,677.0 368.0,672.1 368.5,673.9 369.0,670.8 369.5,670.5 370.0,674.6 370.5,674.9 371.0,669.1 371.5,676.2 372.0,675.1 372.5,672.8 373.0,675.2 373.5,676.4 374.0,680.2 374.4,671.5 374.9,675.3 375.4,673.8 375.9,672.4 376.4,669.2 376.9,673.4 377.4,676.0 377.9,675.4 378.4,673.1 378.9,681.6 379.4,679.2 379.9,684.1 380.4,679.9 380.9,676.0 381.4,681.7 381.9,679.0 382.4,676.5 382.9,675.9 383.4,673.0 383.9,677.6 384.3,677.9 384.8,677.1 385.3,675.2 385.8,676.9 386.3,677.0 386.8,679.0 387.3,669.5 387.8,676.5 388.3,677.5 388.8,669.8 389.3,676.8 389.8,679.5 390.3,677.0 390.8,675.8 391.3,678.6 391.8,682.4 392.3,682.5 392.8,683.1 393.3,677.0 393.8,677.2 394.2,685.4 394.7,687.2 395.2,685.6 395.7,682.5 396.2,681.7 396.7,682.1 397.2,682.3 397.7,676.7 398.2,680.8 398.7,681.7 399.2,678.3 399.7,680.2 400.2,682.5 400.7,675.2 401.2,676.4 401.7,676.1 402.2,679.2 402.7,679.6 403.2,677.6 403.7,675.2 404.1,675.7 404.6,672.3 405.1,672.6 405.6,667.0 406.1,670.0 406.6,667.8 407.1,671.8 407.6,674.9 408.1,678.1 408.6,672.7 409.1,672.1 409.6,674.0 410.1,671.3 410.6,675.7 411.1,674.1 411.6,673.2 412.1,673.9 412.6,672.9 413.1,680.5 413.6,679.5 414.0,676.0 414.5,672.8 415.0,674.9 415.5,682.0 416.0,675.8 416.5,674.0 417.0,674.1 417.5,671.5 418.0,664.7 418.5,675.9 419.0,674.1 419.5,673.5 420.0,672.7 420.5,670.1 421.0,669.5 421.5,669.6 422.0,666.6 422.5,669.3 423.0,674.2 423.5,663.4 423.9,662.6 424.4,666.4 424.9,667.7 425.4,670.6 425.9,670.5 426.4,667.3 426.9,665.3 427.4,669.1 427.9,667.4 428.4,667.4 428.9,666.6 429.4,664.0 429.9,669.2 430.4,665.3 430.9,666.1 431.4,664.9 431.9,669.6 432.4,671.8 432.9,679.2 433.4,679.5 433.8,675.1 434.3,672.7 434.8,672.7 435.3,677.7 435.8,678.7 436.3,670.5 436.8,677.1 437.3,678.5 437.8,679.5 438.3,672.0 438.8,671.4 439.3,673.8 439.8,671.8 440.3,679.3 440.8,673.3 441.3,672.9 441.8,677.2 442.3,676.4 442.8,677.2 443.3,675.9 443.7,680.2 444.2,682.5 444.7,677.6 445.2,682.7 445.7,681.9 446.2,680.0 446.7,681.8 447.2,685.8 447.7,682.8 448.2,682.3 448.7,684.4 449.2,686.8 449.7,684.4 450.2,687.1 450.7,682.1 451.2,687.2 451.7,682.8 452.2,688.1 452.7,685.3 453.2,687.7 453.6,679.1 454.1,681.6 454.6,681.9 455.1,681.9 455.6,689.6 456.1,690.0 456.6,687.6 457.1,693.6 457.6,688.1 458.1,685.2 458.6,687.6 459.1,691.6 459.6,690.3 460.1,687.5 460.6,688.4 461.1,695.8 461.6,689.2 462.1,695.4 462.6,688.9 463.1,699.0 463.5,691.2 464.0,695.1 464.5,692.4 465.0,689.5 465.5,694.1 466.0,693.4 466.5,695.9 467.0,689.8 467.5,695.4 468.0,688.3 468.0,710.3 467.5,715.4 467.0,710.2 466.5,715.9 466.0,715.2 465.5,713.6 465.0,709.9 464.5,709.9 464.0,712.6 463.5,708.4 463.1,715.7 462.6,706.1 462.1,711.3 461.6,707.5 461.1,714.2 460.6,709.4 460.1,708.2 459.6,710.9 459.1,710.0 458.6,706.3 458.1,704.1 457.6,706.7 457.1,712.1 456.6,703.5 456.1,707.9 455.6,706.1 455.1,703.4 454.6,702.8 454.1,703.9 453.6,702.6 453.2,711.3 452.7,707.9 452.2,707.9 451.7,700.3 451.2,705.6 450.7,701.6 450.2,708.7 449.7,706.5 449.2,706.0 448.7,705.8 448.2,702.7 447.7,704.9 447.2,705.4 446.7,702.1 446.2,700.7 445.7,703.3 445.2,704.1 444.7,697.9 444.2,701.1 443.7,700.6 443.3,696.1 442.8,697.9 442.3,695.9 441.8,695.2 441.3,693.7 440.8,693.7 440.3,700.4 439.8,690.1 439.3,692.2 438.8,693.8 438.3,695.2 437.8,701.3 437.3,697.3 436.8,695.0 436.3,690.2 435.8,697.9 435.3,696.5 434.8,693.2 434.3,692.6 433.8,695.1 433.4,699.1 432.9,700.0 432.4,695.2 431.9,691.2 431.4,689.1 430.9,689.4 430.4,688.3 429.9,691.5 429.4,686.4 428.9,689.9 428.4,687.9 427.9,688.5 427.4,690.3 426.9,688.1 426.4,689.2 425.9,691.0 425.4,689.8 424.9,687.0 424.4,688.1 423.9,684.3 423.5,684.0 423.0,694.9 422.5,693.0 422.0,690.0 421.5,692.3 421.0,688.9 420.5,691.4 420.0,692.1 419.5,694.5 419.0,695.6 418.5,700.2 418.0,689.3 417.5,693.9 417.0,695.5 416.5,693.9 416.0,696.0 415.5,701.8 415.0,695.5 414.5,694.4 414.0,697.5 413.6,700.8 413.1,700.7 412.6,694.8 412.1,695.9 411.6,696.5 411.1,695.5 410.6,697.7 410.1,694.6 409.6,698.1 409.1,695.9 408.6,693.7 408.1,696.9 407.6,695.5 407.1,693.8 406.6,691.5 406.1,693.0 405.6,691.0 405.1,697.5 404.6,694.6 404.1,697.0 403.7,694.3 403.2,699.0 402.7,700.8 402.2,702.3 401.7,697.7 401.2,698.4 400.7,696.5 400.2,704.5 399.7,702.6 399.2,701.3 398.7,706.2 398.2,704.7 397.7,701.2 397.2,704.5 396.7,705.2 396.2,703.5 395.7,705.2 395.2,706.4 394.7,709.1 394.2,707.8 393.8,700.4 393.3,698.9 392.8,705.5 392.3,705.7 391.8,705.2 391.3,701.1 390.8,698.1 390.3,699.1 389.8,701.5 389.3,698.0 388.8,691.6 388.3,699.1 387.8,697.4 387.3,690.4 386.8,698.9 386.3,696.9 385.8,698.5 385.3,698.0 384.8,701.9 384.3,701.3 383.9,701.2 383.4,696.8 382.9,699.6 382.4,699.2 381.9,700.2 381.4,702.6 380.9,695.5 380.4,699.8 379.9,702.8 379.4,700.6 378.9,702.2 378.4,696.9 377.9,699.4 377.4,701.8 376.9,700.7 376.4,696.8 375.9,699.3 375.4,699.3 374.9,697.6 374.4,693.7 374.0,700.2 373.5,697.1 373.0,695.3 372.5,692.3 372.0,696.7 371.5,698.1 371.0,692.7 370.5,696.6 370.0,696.5 369.5,691.6 369.0,694.7 368.5,696.3 368.0,693.8 367.5,696.3 367.0,696.7 366.5,698.5 366.0,700.1 365.5,698.4 365.0,696.2 364.5,699.0 364.1,698.6 363.6,705.7 363.1,710.5 362.6,703.5 362.1,705.7 361.6,704.2 361.1,701.3 360.6,705.1 360.1,702.0 359.6,703.3 359.1,706.1 358.6,703.4 358.1,704.6 357.6,700.3 357.1,702.4 356.6,703.0 356.1,701.3 355.6,704.1 355.1,701.7 354.6,699.0 354.2,699.9 353.7,695.2 353.2,700.9 352.7,697.5 352.2,698.0 351.7,703.1 351.2,703.2 350.7,698.8 350.2,697.0 349.7,697.6 349.2,704.8 348.7,701.8 348.2,700.5 347.7,702.0 347.2,700.0 346.7,696.7 346.2,698.5 345.7,699.5 345.2,694.7 344.7,699.3 344.3,693.9 343.8,700.4 343.3,696.6 342.8,695.6 342.3,697.2 341.8,698.9 341.3,700.3 340.8,697.5 340.3,701.8 339.8,696.8" fill="#fcdcdc" />
<polyline points="339.8,685.6 340.3,690.7 340.8,686.7 341.3,689.7 341.8,687.6 342.3,686.7 342.8,684.4 343.3,686.3 343.8,689.5 344.3,684.3 344.7,689.7 345.2,684.6 345.7,688.2 346.2,687.6 346.7,686.2 347.2,689.8 347.7,691.0 348.2,689.3 348.7,691.0 349.2,693.4 349.7,686.2 350.2,684.9 350.7,686.7 351.2,689.7 351.7,689.4 352.2,684.3 352.7,683.9 353.2,687.7 353.7,683.2 354.2,688.7 354.6,687.8 355.1,690.6 355.6,693.3 356.1,690.6 356.6,691.8 357.1,690.9 357.6,688.0 358.1,691.9 358.6,690.5 359.1,693.8 359.6,691.8 360.1,691.1 360.6,693.9 361.1,690.4 361.6,693.4 362.1,695.4 362.6,692.9 363.1,699.8 363.6,694.5 364.1,686.9 364.5,687.6 365.0,685.2 365.5,686.8 366.0,688.6 366.5,686.9 367.0,686.3 367.5,686.7 368.0,682.9 368.5,685.1 369.0,682.7 369.5,681.0 370.0,685.6 370.5,685.7 371.0,680.9 371.5,687.2 372.0,685.9 372.5,682.5 373.0,685.2 373.5,686.8 374.0,690.2 374.4,682.6 374.9,686.4 375.4,686.5 375.9,685.9 376.4,683.0 376.9,687.0 377.4,688.9 377.9,687.4 378.4,685.0 378.9,691.9 379.4,689.9 379.9,693.5 380.4,689.9 380.9,685.7 381.4,692.2 381.9,689.6 382.4,687.8 382.9,687.7 383.4,684.9 383.9,689.4 384.3,689.6 384.8,689.5 385.3,686.6 385.8,687.7 386.3,686.9 386.8,688.9 387.3,680.0 387.8,686.9 388.3,688.3 388.8,680.7 389.3,687.4 389.8,690.5 390.3,688.0 390.8,687.0 391.3,689.9 391.8,693.8 392.3,694.1 392.8,694.3 393.3,687.9 393.8,688.8 394.2,696.6 394.7,698.1 395.2,696.0 395.7,693.8 396.2,692.6 396.7,693.7 397.2,693.4 397.7,688.9 398.2,692.7 398.7,694.0 399.2,689.8 399.7,691.4 400.2,693.5 400.7,685.8 401.2,687.4 401.7,686.9 402.2,690.7 402.7,690.2 403.2,688.3 403.7,684.7 404.1,686.3 404.6,683.5 405.1,685.0 405.6,679.0 406.1,681.5 406.6,679.6 407.1,682.8 407.6,685.2 408.1,687.5 408.6,683.2 409.1,684.0 409.6,686.0 410.1,683.0 410.6,686.7 411.1,684.8 411.6,684.8 412.1,684.9 412.6,683.9 413.1,690.6 413.6,690.1 414.0,686.8 414.5,683.6 415.0,685.2 415.5,691.9 416.0,685.9 416.5,684.0 417.0,684.8 417.5,682.7 418.0,677.0 418.5,688.1 419.0,684.9 419.5,684.0 420.0,682.4 420.5,680.7 421.0,679.2 421.5,681.0 422.0,678.3 422.5,681.1 423.0,684.5 423.5,673.7 423.9,673.5 424.4,677.2 424.9,677.4 425.4,680.2 425.9,680.7 426.4,678.2 426.9,676.7 427.4,679.7 427.9,678.0 428.4,677.6 428.9,678.3 429.4,675.2 429.9,680.4 430.4,676.8 430.9,677.7 431.4,677.0 431.9,680.4 432.4,683.5 432.9,689.6 433.4,689.3 433.8,685.1 434.3,682.6 434.8,682.9 435.3,687.1 435.8,688.3 436.3,680.3 436.8,686.0 437.3,687.9 437.8,690.4 438.3,683.6 438.8,682.6 439.3,683.0 439.8,680.9 440.3,689.8 440.8,683.5 441.3,683.3 441.8,686.2 442.3,686.2 442.8,687.5 443.3,686.0 443.7,690.4 444.2,691.8 444.7,687.8 445.2,693.4 445.7,692.6 446.2,690.4 446.7,691.9 447.2,695.6 447.7,693.9 448.2,692.5 448.7,695.1 449.2,696.4 449.7,695.4 450.2,697.9 450.7,691.9 451.2,696.4 451.7,691.5 452.2,698.0 452.7,696.6 453.2,699.5 453.6,690.8 454.1,692.7 454.6,692.3 455.1,692.6 455.6,697.8 456.1,698.9 456.6,695.5 457.1,702.8 457.6,697.4 458.1,694.6 458.6,697.0 459.1,700.8 459.6,700.6 460.1,697.9 460.6,698.9 461.1,705.0 461.6,698.3 462.1,703.4 462.6,697.5 463.1,707.4 463.5,699.8 464.0,703.8 464.5,701.1 465.0,699.7 465.5,703.9 466.0,704.3 466.5,705.9 467.0,700.0 467.5,705.4 468.0,699.3" fill="none" stroke="#f01818" stroke-width="0.75" stroke-linejoin="round" />
<polygon points="339.8,653.9 340.3,653.3 340.8,649.8 341.3,656.4 341.8,649.0 342.3,648.6 342.8,648.8 343.3,652.6 343.8,649.6 344.3,641.2 344.7,648.1 345.2,647.3 345.7,648.4 346.2,641.0 346.7,644.8 347.2,641.4 347.7,644.6 348.2,641.0 348.7,639.1 349.2,634.6 349.7,631.8 350.2,631.8 350.7,630.1 351.2,632.2 351.7,627.6 352.2,628.8 352.7,630.3 353.2,630.6 353.7,635.4 354.2,633.6 354.6,633.3 355.1,622.4 355.6,623.8 356.1,623.4 356.6,623.8 357.1,627.8 357.6,628.0 358.1,628.9 358.6,628.3 359.1,630.5 359.6,630.0 360.1,633.0 360.6,632.8 361.1,631.5 361.6,630.1 362.1,630.4 362.6,632.9 363.1,626.1 363.6,631.8 364.1,628.6 364.5,629.4 365.0,630.5 365.5,628.0 366.0,627.4 366.5,630.1 367.0,631.9 367.5,630.8 368.0,630.0 368.5,627.9 369.0,632.5 369.5,632.0 370.0,632.5 370.5,626.8 371.0,628.3 371.5,621.6 372.0,619.8 372.5,622.5 373.0,621.6 373.5,630.0 374.0,623.4 374.4,624.1 374.9,626.9 375.4,637.1 375.9,626.7 376.4,626.3 376.9,620.2 377.4,627.8 377.9,629.7 378.4,632.8 378.9,629.3 379.4,628.1 379.9,630.1 380.4,636.2 380.9,638.6 381.4,634.0 381.9,629.3 382.4,639.8 382.9,637.4 383.4,637.3 383.9,641.0 384.3,642.8 384.8,641.7 385.3,643.5 385.8,643.8 386.3,646.6 386.8,646.7 387.3,643.3 387.8,651.9 388.3,645.2 388.8,647.9 389.3,649.8 389.8,652.8 390.3,651.0 390.8,648.2 391.3,653.3 391.8,652.1 392.3,656.0 392.8,654.2 393.3,648.3 393.8,651.1 394.2,645.9 394.7,656.5 395.2,656.6 395.7,654.3 396.2,654.0 396.7,650.8 397.2,656.0 397.7,655.7 398.2,650.3 398.7,658.5 399.2,656.8 399.7,649.0 400.2,647.4 400.7,647.2 401.2,648.7 401.7,658.3 402.2,656.1 402.7,660.5 403.2,661.3 403.7,668.4 404.1,666.0 404.6,664.3 405.1,663.1 405.6,666.5 406.1,667.5 406.6,665.5 407.1,667.1 407.6,665.6 408.1,671.2 408.6,666.0 409.1,666.5 409.6,665.4 410.1,666.2 410.6,667.7 411.1,667.8 411.6,664.2 412.1,662.6 412.6,669.2 413.1,666.4 413.6,663.3 414.0,663.6 414.5,667.2 415.0,673.9 415.5,666.0 416.0,671.9 416.5,669.8 417.0,673.1 417.5,674.1 418.0,673.2 418.5,677.1 419.0,671.1 419.5,677.2 420.0,675.2 420.5,678.1 421.0,677.3 421.5,679.9 422.0,678.9 422.5,682.0 423.0,676.0 423.5,678.2 423.9,679.2 424.4,687.3 424.9,686.7 425.4,682.4 425.9,679.7 426.4,682.6 426.9,684.6 427.4,686.2 427.9,686.8 428.4,687.4 428.9,684.1 429.4,686.4 429.9,691.9 430.4,688.9 430.9,688.1 431.4,694.3 431.9,697.0 432.4,692.1 432.9,696.0 433.4,691.6 433.8,697.9 434.3,696.7 434.8,699.1 435.3,696.9 435.8,698.7 436.3,695.7 436.8,693.6 437.3,702.3 437.8,694.4 438.3,699.2 438.8,697.1 439.3,692.3 439.8,693.3 440.3,695.6 440.8,699.8 441.3,698.2 441.8,697.5 442.3,702.2 442.8,695.6 443.3,696.9 443.7,701.4 444.2,703.5 444.7,707.2 445.2,701.4 445.7,704.7 446.2,696.1 446.7,702.8 447.2,694.3 447.7,695.3 448.2,693.0 448.7,694.9 449.2,692.5 449.7,693.1 450.2,687.3 450.7,690.9 451.2,685.6 451.7,692.8 452.2,686.7 452.7,692.2 453.2,690.7 453.6,690.6 454.1,690.8 454.6,692.0 455.1,687.8 455.6,691.2 456.1,684.8 456.6,681.8 457.1,686.9 457.6,683.3 458.1,686.4 458.6,682.0 459.1,678.5 459.6,680.4 460.1,677.3 460.6,670.7 461.1,678.0 461.6,675.0 462.1,680.2 462.6,672.8 463.1,673.9 463.5,672.3 464.0,664.1 464.5,666.1 465.0,667.6 465.5,666.4 466.0,663.2 466.5,659.5 467.0,661.5 467.5,659.3 468.0,661.1 468.0,678.8 467.5,676.0 467.0,680.9 466.5,678.9 466.0,684.6 465.5,686.9 465.0,690.4 464.5,688.3 464.0,686.8 463.5,694.1 463.1,696.0 462.6,693.6 462.1,699.5 461.6,696.1 461.1,701.5 460.6,695.9 460.1,701.7 459.6,702.7 459.1,698.7 458.6,699.7 458.1,702.6 457.6,700.9 457.1,706.4 456.6,703.1 456.1,704.2 455.6,708.6 455.1,704.4 454.6,708.5 454.1,708.8 453.6,706.9 453.2,707.3 452.7,708.3 452.2,704.6 451.7,711.3 451.2,706.6 450.7,712.1 450.2,708.9 449.7,712.9 449.2,710.6 448.7,711.9 448.2,709.7 447.7,713.6 447.2,711.6 446.7,719.6 446.2,712.5 445.7,720.2 445.2,718.6 444.7,725.2 444.2,726.2 443.7,724.0 443.3,718.0 442.8,715.8 442.3,721.8 441.8,718.1 441.3,717.5 440.8,719.9 440.3,715.5 439.8,712.4 439.3,709.0 438.8,710.8 438.3,711.0 437.8,707.8 437.3,718.5 436.8,711.1 436.3,712.4 435.8,713.8 435.3,711.5 434.8,712.2 434.3,712.0 433.8,714.2 433.4,709.7 432.9,712.3 432.4,709.5 431.9,712.4 431.4,709.7 430.9,703.4 430.4,706.8 429.9,710.9 429.4,705.7 428.9,702.9 428.4,706.0 427.9,705.6 427.4,707.0 426.9,705.8 426.4,703.6 425.9,697.9 425.4,702.1 424.9,704.1 424.4,707.4 423.9,696.7 423.5,699.7 423.0,696.2 422.5,703.8 422.0,698.9 421.5,700.0 421.0,697.2 420.5,697.7 420.0,694.4 419.5,696.8 419.0,692.5 418.5,697.1 418.0,692.6 417.5,693.4 417.0,693.2 416.5,688.8 416.0,689.9 415.5,684.1 415.0,693.8 414.5,688.3 414.0,686.1 413.6,684.6 413.1,685.7 412.6,688.6 412.1,681.3 411.6,684.5 411.1,687.4 410.6,688.5 410.1,686.5 409.6,688.3 409.1,689.8 408.6,687.7 408.1,689.5 407.6,685.0 407.1,686.2 406.6,685.9 406.1,687.9 405.6,689.3 405.1,687.6 404.6,687.0 404.1,688.4 403.7,686.9 403.2,683.3 402.7,681.0 402.2,680.0 401.7,681.0 401.2,673.9 400.7,674.5 400.2,675.3 399.7,678.6 399.2,685.7 398.7,687.0 398.2,677.5 397.7,682.3 397.2,680.9 396.7,678.0 396.2,680.0 395.7,679.5 395.2,680.0 394.7,682.3 394.2,674.4 393.8,678.6 393.3,676.5 392.8,683.0 392.3,686.0 391.8,680.1 391.3,682.5 390.8,679.4 390.3,683.2 389.8,683.7 389.3,678.2 388.8,675.1 388.3,672.3 387.8,680.3 387.3,673.8 386.8,675.3 386.3,673.2 385.8,670.4 385.3,671.1 384.8,672.0 384.3,673.8 383.9,672.7 383.4,668.2 382.9,667.8 382.4,672.6 381.9,662.3 381.4,665.4 380.9,669.4 380.4,665.0 379.9,660.8 379.4,659.5 378.9,663.2 378.4,664.5 377.9,660.5 377.4,659.2 376.9,653.6 376.4,658.5 375.9,659.0 375.4,668.9 374.9,661.9 374.4,658.0 374.0,657.7 373.5,663.4 373.0,655.9 372.5,657.0 372.0,654.2 371.5,657.8 371.0,664.7 370.5,662.9 370.0,667.7 369.5,667.8 369.0,669.4 368.5,663.7 368.0,664.5 367.5,664.2 367.0,664.9 366.5,663.7 366.0,659.3 365.5,660.0 365.0,662.3 364.5,663.5 364.1,664.0 363.6,666.9 363.1,661.1 362.6,669.0 362.1,666.2 361.6,664.6 361.1,664.6 360.6,666.2 360.1,666.2 359.6,662.8 359.1,664.9 358.6,662.4 358.1,664.4 357.6,662.2 357.1,662.1 356.6,658.2 356.1,658.9 355.6,660.1 355.1,658.2 354.6,665.8 354.2,663.9 353.7,665.5 353.2,663.0 352.7,664.7 352.2,664.1 351.7,662.8 351.2,667.3 350.7,664.6 350.2,669.2 349.7,671.5 349.2,675.6 348.7,676.3 348.2,678.0 347.7,677.2 347.2,676.2 346.7,677.0 346.2,675.3 345.7,681.0 345.2,680.1 344.7,680.6 344.3,672.0 343.8,681.6 343.3,684.3 342.8,685.5 342.3,685.6 341.8,685.8 341.3,688.2 340.8,681.7 340.3,686.1 339.8,689.3" fill="#d2d2d2" opacity="0.97"/>
<polyline points="339.8,671.6 340.3,669.7 340.8,665.8 341.3,672.3 341.8,667.4 342.3,667.1 342.8,667.2 343.3,668.4 343.8,665.6 344.3,656.6 344.7,664.4 345.2,663.7 345.7,664.7 346.2,658.2 346.7,660.9 347.2,658.8 347.7,660.9 348.2,659.5 348.7,657.7 349.2,655.1 349.7,651.6 350.2,650.5 350.7,647.3 351.2,649.8 351.7,645.2 352.2,646.4 352.7,647.5 353.2,646.8 353.7,650.5 354.2,648.8 354.6,649.5 355.1,640.3 355.6,642.0 356.1,641.2 356.6,641.0 357.1,645.0 357.6,645.1 358.1,646.7 358.6,645.3 359.1,647.7 359.6,646.4 360.1,649.6 360.6,649.5 361.1,648.0 361.6,647.4 362.1,648.3 362.6,651.0 363.1,643.6 363.6,649.4 364.1,646.3 364.5,646.5 365.0,646.4 365.5,644.0 366.0,643.3 366.5,646.9 367.0,648.4 367.5,647.5 368.0,647.2 368.5,645.8 369.0,651.0 369.5,649.9 370.0,650.1 370.5,644.9 371.0,646.5 371.5,639.7 372.0,637.0 372.5,639.8 373.0,638.7 373.5,646.7 374.0,640.6 374.4,641.0 374.9,644.4 375.4,653.0 375.9,642.9 376.4,642.4 376.9,636.9 377.4,643.5 377.9,645.1 378.4,648.7 378.9,646.3 379.4,643.8 379.9,645.4 380.4,650.6 380.9,654.0 381.4,649.7 381.9,645.8 382.4,656.2 382.9,652.6 383.4,652.7 383.9,656.8 384.3,658.3 384.8,656.8 385.3,657.3 385.8,657.1 386.3,659.9 386.8,661.0 387.3,658.6 387.8,666.1 388.3,658.7 388.8,661.5 389.3,664.0 389.8,668.2 390.3,667.1 390.8,663.8 391.3,667.9 391.8,666.1 392.3,671.0 392.8,668.6 393.3,662.4 393.8,664.9 394.2,660.1 394.7,669.4 395.2,668.3 395.7,666.9 396.2,667.0 396.7,664.4 397.2,668.5 397.7,669.0 398.2,663.9 398.7,672.7 399.2,671.3 399.7,663.8 400.2,661.3 400.7,660.9 401.2,661.3 401.7,669.7 402.2,668.1 402.7,670.8 403.2,672.3 403.7,677.7 404.1,677.2 404.6,675.7 405.1,675.3 405.6,677.9 406.1,677.7 406.6,675.7 407.1,676.6 407.6,675.3 408.1,680.4 408.6,676.9 409.1,678.1 409.6,676.9 410.1,676.4 410.6,678.1 411.1,677.6 411.6,674.3 412.1,672.0 412.6,678.9 413.1,676.1 413.6,673.9 414.0,674.9 414.5,677.8 415.0,683.9 415.5,675.1 416.0,680.9 416.5,679.3 417.0,683.2 417.5,683.8 418.0,682.9 418.5,687.1 419.0,681.8 419.5,687.0 420.0,684.8 420.5,687.9 421.0,687.3 421.5,689.9 422.0,688.9 422.5,692.9 423.0,686.1 423.5,688.9 423.9,687.9 424.4,697.4 424.9,695.4 425.4,692.3 425.9,688.8 426.4,693.1 426.9,695.2 427.4,696.6 427.9,696.2 428.4,696.7 428.9,693.5 429.4,696.0 429.9,701.4 430.4,697.8 430.9,695.8 431.4,702.0 431.9,704.7 432.4,700.8 432.9,704.2 433.4,700.7 433.8,706.1 434.3,704.4 434.8,705.6 435.3,704.2 435.8,706.3 436.3,704.0 436.8,702.4 437.3,710.4 437.8,701.1 438.3,705.1 438.8,704.0 439.3,700.7 439.8,702.8 440.3,705.6 440.8,709.8 441.3,707.8 441.8,707.8 442.3,712.0 442.8,705.7 443.3,707.5 443.7,712.7 444.2,714.9 444.7,716.2 445.2,710.0 445.7,712.5 446.2,704.3 446.7,711.2 447.2,703.0 447.7,704.5 448.2,701.3 448.7,703.4 449.2,701.6 449.7,703.0 450.2,698.1 450.7,701.5 451.2,696.1 451.7,702.1 452.2,695.7 452.7,700.3 453.2,699.0 453.6,698.8 454.1,699.8 454.6,700.3 455.1,696.1 455.6,699.9 456.1,694.5 456.6,692.5 457.1,696.6 457.6,692.1 458.1,694.5 458.6,690.8 459.1,688.6 459.6,691.5 460.1,689.5 460.6,683.3 461.1,689.8 461.6,685.6 462.1,689.9 462.6,683.2 463.1,684.9 463.5,683.2 464.0,675.4 464.5,677.2 465.0,679.0 465.5,676.7 466.0,673.9 466.5,669.2 467.0,671.2 467.5,667.6 468.0,669.9" fill="none" stroke="#111" stroke-width="0.9" stroke-linejoin="round" />
<line x1="403.90" y1="601.00" x2="403.90" y2="726.80" stroke="#000" stroke-width="1.0" stroke-dasharray="5.6 3.4"/>
<line x1="339.80" y1="600.70" x2="339.80" y2="727.50" stroke="#000" stroke-width="1.4" />
<line x1="339.10" y1="726.80" x2="468.50" y2="726.80" stroke="#000" stroke-width="1.4" />
<line x1="335.80" y1="726.80" x2="339.80" y2="726.80" stroke="#111" stroke-width="1.0" />
<text x="334.30" y="730.40" font-size="10.3" text-anchor="end" fill="#111" stroke="#111" stroke-width="0.2">2</text>
<line x1="335.80" y1="698.80" x2="339.80" y2="698.80" stroke="#111" stroke-width="1.0" />
<text x="334.30" y="702.40" font-size="10.3" text-anchor="end" fill="#111" stroke="#111" stroke-width="0.2">4</text>
<line x1="335.80" y1="670.80" x2="339.80" y2="670.80" stroke="#111" stroke-width="1.0" />
<text x="334.30" y="674.40" font-size="10.3" text-anchor="end" fill="#111" stroke="#111" stroke-width="0.2">6</text>
<line x1="335.80" y1="642.80" x2="339.80" y2="642.80" stroke="#111" stroke-width="1.0" />
<text x="334.30" y="646.40" font-size="10.3" text-anchor="end" fill="#111" stroke="#111" stroke-width="0.2">8</text>
<line x1="335.80" y1="614.80" x2="339.80" y2="614.80" stroke="#111" stroke-width="1.0" />
<text x="334.30" y="618.40" font-size="10.3" text-anchor="end" fill="#111" stroke="#111" stroke-width="0.2">10</text>
<line x1="339.80" y1="726.80" x2="339.80" y2="730.80" stroke="#111" stroke-width="1.0" />
<text x="339.80" y="742.70" font-size="9.8" text-anchor="middle" fill="#111" stroke="#111" stroke-width="0.2">-10</text>
<line x1="371.85" y1="726.80" x2="371.85" y2="730.80" stroke="#111" stroke-width="1.0" />
<text x="371.85" y="742.70" font-size="9.8" text-anchor="middle" fill="#111" stroke="#111" stroke-width="0.2">-5</text>
<line x1="403.90" y1="726.80" x2="403.90" y2="730.80" stroke="#111" stroke-width="1.0" />
<text x="403.90" y="742.70" font-size="9.8" text-anchor="middle" fill="#111" stroke="#111" stroke-width="0.2">0</text>
<line x1="435.95" y1="726.80" x2="435.95" y2="730.80" stroke="#111" stroke-width="1.0" />
<text x="435.95" y="742.70" font-size="9.8" text-anchor="middle" fill="#111" stroke="#111" stroke-width="0.2">5</text>
<line x1="468.00" y1="726.80" x2="468.00" y2="730.80" stroke="#111" stroke-width="1.0" />
<text x="468.00" y="742.70" font-size="9.8" text-anchor="middle" fill="#111" stroke="#111" stroke-width="0.2">10</text>
<text x="405.30" y="753.20" font-size="10" text-anchor="middle" fill="#111" stroke="#111" stroke-width="0.2">Time(sec)</text>
<text x="324.30" y="669.30" font-size="8.8" text-anchor="middle" fill="#111" transform="rotate(-90 324.30 669.30)" stroke="#111" stroke-width="0.2">z-score</text>
<rect x="444.10" y="603.40" width="41.60" height="21.00" fill="#fff" stroke="#000" stroke-width="1.0" />
<line x1="446.10" y1="610.00" x2="455.50" y2="610.00" stroke="#000" stroke-width="1.6" />
<text x="458.60" y="612.40" font-size="7.6" stroke="#000" stroke-width="0.2">Control</text>
<line x1="446.10" y1="618.70" x2="455.50" y2="618.70" stroke="#f00" stroke-width="1.6" />
<text x="458.60" y="620.50" font-size="7.6" stroke="#000" stroke-width="0.2">Opn4<tspan dy="-3.2" font-size="4.4" fill-opacity="0.55">-/-</tspan></text>
<!-- panelO -->
<text x="499.60" y="590.40" font-size="17" stroke="#000" stroke-width="0.2">O.</text>
<line x1="549.80" y1="586.00" x2="549.80" y2="726.50" stroke="#000" stroke-width="1.45" />
<line x1="549.10" y1="726.50" x2="653.80" y2="726.50" stroke="#000" stroke-width="1.45" />
<line x1="544.80" y1="726.50" x2="549.80" y2="726.50" stroke="#111" stroke-width="1.1" />
<text x="543.30" y="729.90" font-size="9.6" text-anchor="end" fill="#111" stroke="#111" stroke-width="0.2">0.0</text>
<line x1="544.80" y1="682.33" x2="549.80" y2="682.33" stroke="#111" stroke-width="1.1" />
<text x="543.30" y="685.73" font-size="9.6" text-anchor="end" fill="#111" stroke="#111" stroke-width="0.2">0.5</text>
<line x1="544.80" y1="638.15" x2="549.80" y2="638.15" stroke="#111" stroke-width="1.1" />
<text x="543.30" y="641.55" font-size="9.6" text-anchor="end" fill="#111" stroke="#111" stroke-width="0.2">1.0</text>
<line x1="544.80" y1="593.98" x2="549.80" y2="593.98" stroke="#111" stroke-width="1.1" />
<text x="543.30" y="597.38" font-size="9.6" text-anchor="end" fill="#111" stroke="#111" stroke-width="0.2">1.5</text>
<line x1="576.80" y1="726.50" x2="576.80" y2="731.50" stroke="#000" stroke-width="1.2" />
<line x1="622.20" y1="726.50" x2="622.20" y2="731.50" stroke="#000" stroke-width="1.2" />
<line x1="563.20" y1="638.15" x2="589.50" y2="638.15" stroke="#111" stroke-width="0.6" />
<line x1="563.20" y1="638.15" x2="589.50" y2="644.33" stroke="#111" stroke-width="0.6" />
<line x1="563.20" y1="638.15" x2="589.50" y2="645.22" stroke="#111" stroke-width="0.6" />
<line x1="563.20" y1="638.15" x2="589.50" y2="651.40" stroke="#111" stroke-width="0.6" />
<line x1="563.20" y1="638.15" x2="589.50" y2="655.82" stroke="#111" stroke-width="0.6" />
<line x1="563.20" y1="638.15" x2="589.50" y2="667.31" stroke="#111" stroke-width="0.6" />
<line x1="563.20" y1="638.15" x2="589.50" y2="671.72" stroke="#111" stroke-width="0.6" />
<line x1="563.20" y1="638.15" x2="589.50" y2="673.49" stroke="#111" stroke-width="0.6" />
<line x1="563.20" y1="638.15" x2="589.50" y2="675.26" stroke="#111" stroke-width="0.6" />
<line x1="563.20" y1="638.15" x2="589.50" y2="677.91" stroke="#111" stroke-width="0.6" />
<line x1="563.20" y1="638.15" x2="589.50" y2="684.98" stroke="#111" stroke-width="0.6" />
<line x1="563.20" y1="638.15" x2="589.50" y2="690.28" stroke="#111" stroke-width="0.6" />
<line x1="563.20" y1="638.15" x2="589.50" y2="705.30" stroke="#111" stroke-width="0.6" />
<circle cx="589.50" cy="638.15" r="2.05" fill="none" stroke="#111" stroke-width="0.9" />
<circle cx="589.50" cy="644.33" r="2.05" fill="none" stroke="#111" stroke-width="0.9" />
<circle cx="589.50" cy="645.22" r="2.05" fill="none" stroke="#111" stroke-width="0.9" />
<circle cx="589.50" cy="651.40" r="2.05" fill="none" stroke="#111" stroke-width="0.9" />
<circle cx="589.50" cy="655.82" r="2.05" fill="none" stroke="#111" stroke-width="0.9" />
<circle cx="589.50" cy="667.31" r="2.05" fill="none" stroke="#111" stroke-width="0.9" />
<circle cx="589.50" cy="671.72" r="2.05" fill="none" stroke="#111" stroke-width="0.9" />
<circle cx="589.50" cy="673.49" r="2.05" fill="none" stroke="#111" stroke-width="0.9" />
<circle cx="589.50" cy="675.26" r="2.05" fill="none" stroke="#111" stroke-width="0.9" />
<circle cx="589.50" cy="677.91" r="2.05" fill="none" stroke="#111" stroke-width="0.9" />
<circle cx="589.50" cy="684.98" r="2.05" fill="none" stroke="#111" stroke-width="0.9" />
<circle cx="589.50" cy="690.28" r="2.05" fill="none" stroke="#111" stroke-width="0.9" />
<circle cx="589.50" cy="705.30" r="2.05" fill="none" stroke="#111" stroke-width="0.9" />
<circle cx="563.20" cy="638.15" r="2.00" fill="#111" />
<line x1="609.00" y1="638.15" x2="635.40" y2="602.81" stroke="#f01818" stroke-width="0.6" />
<line x1="609.00" y1="638.15" x2="635.40" y2="609.88" stroke="#f01818" stroke-width="0.6" />
<line x1="609.00" y1="638.15" x2="635.40" y2="629.32" stroke="#f01818" stroke-width="0.6" />
<line x1="609.00" y1="638.15" x2="635.40" y2="636.38" stroke="#f01818" stroke-width="0.6" />
<line x1="609.00" y1="638.15" x2="635.40" y2="639.92" stroke="#f01818" stroke-width="0.6" />
<line x1="609.00" y1="638.15" x2="635.40" y2="642.57" stroke="#f01818" stroke-width="0.6" />
<line x1="609.00" y1="638.15" x2="635.40" y2="645.22" stroke="#f01818" stroke-width="0.6" />
<line x1="609.00" y1="638.15" x2="635.40" y2="646.99" stroke="#f01818" stroke-width="0.6" />
<line x1="609.00" y1="638.15" x2="635.40" y2="649.64" stroke="#f01818" stroke-width="0.6" />
<line x1="609.00" y1="638.15" x2="635.40" y2="653.17" stroke="#f01818" stroke-width="0.6" />
<line x1="609.00" y1="638.15" x2="635.40" y2="655.82" stroke="#f01818" stroke-width="0.6" />
<line x1="609.00" y1="638.15" x2="635.40" y2="657.59" stroke="#f01818" stroke-width="0.6" />
<line x1="609.00" y1="638.15" x2="635.40" y2="666.42" stroke="#f01818" stroke-width="0.6" />
<line x1="609.00" y1="638.15" x2="635.40" y2="669.96" stroke="#f01818" stroke-width="0.6" />
<line x1="609.00" y1="638.15" x2="635.40" y2="673.49" stroke="#f01818" stroke-width="0.6" />
<line x1="609.00" y1="638.15" x2="635.40" y2="677.02" stroke="#f01818" stroke-width="0.6" />
<line x1="609.00" y1="638.15" x2="635.40" y2="679.67" stroke="#f01818" stroke-width="0.6" />
<circle cx="635.40" cy="602.81" r="2.05" fill="none" stroke="#f01818" stroke-width="0.9" />
<circle cx="635.40" cy="609.88" r="2.05" fill="none" stroke="#f01818" stroke-width="0.9" />
<circle cx="635.40" cy="629.32" r="2.05" fill="none" stroke="#f01818" stroke-width="0.9" />
<circle cx="635.40" cy="636.38" r="2.05" fill="none" stroke="#f01818" stroke-width="0.9" />
<circle cx="635.40" cy="639.92" r="2.05" fill="none" stroke="#f01818" stroke-width="0.9" />
<circle cx="635.40" cy="642.57" r="2.05" fill="none" stroke="#f01818" stroke-width="0.9" />
<circle cx="635.40" cy="645.22" r="2.05" fill="none" stroke="#f01818" stroke-width="0.9" />
<circle cx="635.40" cy="646.99" r="2.05" fill="none" stroke="#f01818" stroke-width="0.9" />
<circle cx="635.40" cy="649.64" r="2.05" fill="none" stroke="#f01818" stroke-width="0.9" />
<circle cx="635.40" cy="653.17" r="2.05" fill="none" stroke="#f01818" stroke-width="0.9" />
<circle cx="635.40" cy="655.82" r="2.05" fill="none" stroke="#f01818" stroke-width="0.9" />
<circle cx="635.40" cy="657.59" r="2.05" fill="none" stroke="#f01818" stroke-width="0.9" />
<circle cx="635.40" cy="666.42" r="2.05" fill="none" stroke="#f01818" stroke-width="0.9" />
<circle cx="635.40" cy="669.96" r="2.05" fill="none" stroke="#f01818" stroke-width="0.9" />
<circle cx="635.40" cy="673.49" r="2.05" fill="none" stroke="#f01818" stroke-width="0.9" />
<circle cx="635.40" cy="677.02" r="2.05" fill="none" stroke="#f01818" stroke-width="0.9" />
<circle cx="635.40" cy="679.67" r="2.05" fill="none" stroke="#f01818" stroke-width="0.9" />
<circle cx="609.00" cy="638.15" r="2.00" fill="#f01818" />
<path d="M561.5,615.3 L589.5,615.3 M575.5,615.3 L575.5,588.4 L622.2,588.4 L622.2,594.2 M609,594.2 L635.4,594.2" fill="none" stroke="#000" stroke-width="1.4" />
<text x="598.90" y="592.00" font-size="16" text-anchor="middle" fill="#111" font-weight="bold" stroke="#111" stroke-width="0.2">*</text>
<rect x="647.60" y="588.50" width="34.20" height="25.00" fill="#fff" stroke="#000" stroke-width="1.0" />
<circle cx="652.20" cy="595.85" r="2.35" fill="#000" />
<text x="657.40" y="598.20" font-size="9" stroke="#000" stroke-width="0.2">Edge</text>
<circle cx="652.20" cy="607.45" r="2.00" fill="none" stroke="#000" stroke-width="0.75" />
<text x="657.40" y="609.90" font-size="9" stroke="#000" stroke-width="0.2">TZ</text>
<text x="576.80" y="746.50" font-size="12" text-anchor="middle" fill="#111" stroke="#111" stroke-width="0.2">Control</text>
<text x="608.00" y="746.50" font-size="12" fill="#111" stroke="#111" stroke-width="0.2">Opn4<tspan dy="-5.0" font-size="7.0" fill-opacity="1">-/-</tspan></text>
<text x="530.00" y="663.00" font-size="11.05" text-anchor="middle" fill="#111" transform="rotate(-90 530.00 663.00)" stroke="#111" stroke-width="0.2">Normalized AUC</text>
</svg>
</body></html>
